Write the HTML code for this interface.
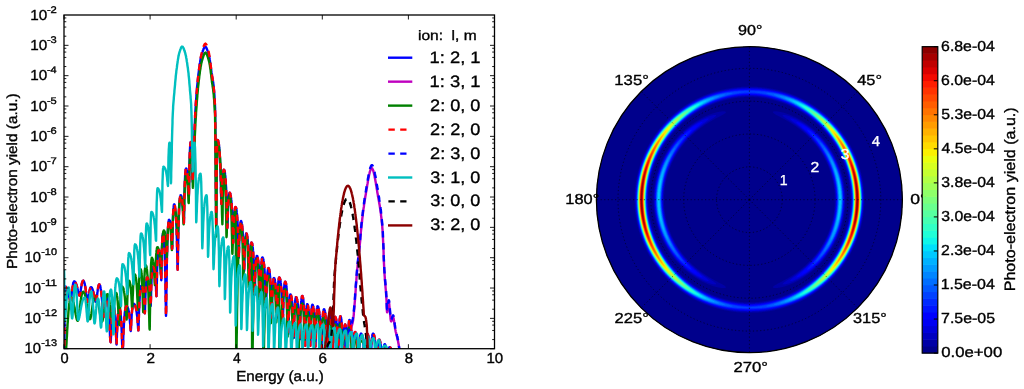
<!DOCTYPE html><html><head><meta charset="utf-8"><style>
html,body{margin:0;padding:0;background:#fff;width:1024px;height:389px;overflow:hidden}
#wrap{position:relative;width:1024px;height:389px}
svg{position:absolute;left:0;top:0;will-change:transform}
text{font-family:"Liberation Sans", sans-serif;fill:#000;text-rendering:geometricPrecision}
canvas{position:absolute;left:0;top:0}
</style></head><body><div id="wrap">
<svg width="1024" height="389" viewBox="0 0 1024 389">
<rect x="0" y="0" width="1024" height="389" fill="#fff"/>
<defs><clipPath id="ca"><rect x="64.00" y="15.00" width="430.50" height="333.70"/></clipPath></defs>
<g clip-path="url(#ca)" fill="none" stroke-width="2.4" stroke-linejoin="round">
<path d="M64.0 369.9L64.1 369.0L64.3 358.5L64.4 344.8L64.5 330.5L64.6 317.4L64.8 306.4L64.9 297.7L65.0 291.5L65.2 287.8L65.3 286.5L65.4 286.5L65.6 286.6L65.7 286.6L65.8 286.7L65.9 286.8L66.1 286.9L66.2 287.1L66.3 287.3L66.5 287.5L66.6 287.7L66.7 287.9L66.9 288.2L67.0 288.5L67.1 288.8L67.2 289.2L67.4 289.6L67.5 289.9L67.6 290.4L67.8 290.8L67.9 291.3L68.0 291.7L68.2 292.2L68.3 292.7L68.4 293.3L68.6 293.8L68.7 294.4L68.8 294.9L68.9 295.5L69.1 296.1L69.2 296.6L69.3 297.2L69.5 297.7L69.6 298.2L69.7 298.7L69.9 299.1L70.0 299.5L70.1 299.8L70.2 300.1L70.4 300.3L70.5 300.4L70.6 300.4L70.8 300.3L70.9 299.9L71.0 299.3L71.2 298.6L71.3 297.6L71.4 296.6L71.6 295.5L71.7 294.3L71.8 293.1L72.0 292.0L72.1 290.8L72.2 289.7L72.4 288.7L72.5 287.7L72.6 286.8L72.8 285.9L72.9 285.1L73.0 284.4L73.1 283.8L73.3 283.2L73.4 282.7L73.5 282.3L73.7 282.0L73.8 281.7L73.9 281.5L74.1 281.4L74.2 281.4L74.3 281.4L74.5 281.4L74.6 281.5L74.7 281.5L74.9 281.7L75.0 281.8L75.1 282.0L75.3 282.1L75.4 282.3L75.5 282.6L75.7 282.8L75.8 283.1L75.9 283.4L76.0 283.7L76.2 284.1L76.3 284.5L76.4 284.9L76.6 285.3L76.7 285.7L76.8 286.2L77.0 286.7L77.1 287.2L77.2 287.7L77.4 288.3L77.5 288.8L77.6 289.4L77.8 290.0L77.9 290.6L78.0 291.1L78.2 291.7L78.3 292.3L78.4 292.8L78.5 293.3L78.7 293.8L78.8 294.3L78.9 294.7L79.1 295.0L79.2 295.3L79.3 295.5L79.5 295.6L79.6 295.6L79.7 295.5L79.9 295.2L80.0 294.8L80.1 294.2L80.3 293.4L80.4 292.6L80.5 291.8L80.7 290.9L80.8 289.9L80.9 289.0L81.1 288.1L81.2 287.3L81.3 286.5L81.5 285.7L81.6 285.0L81.7 284.3L81.9 283.7L82.0 283.1L82.1 282.6L82.3 282.2L82.4 281.8L82.5 281.5L82.7 281.2L82.8 281.0L82.9 280.9L83.1 280.8L83.2 280.7L83.3 280.8L83.5 280.8L83.6 281.0L83.7 281.1L83.9 281.4L84.0 281.6L84.1 282.0L84.3 282.3L84.4 282.7L84.5 283.2L84.7 283.7L84.8 284.3L84.9 284.9L85.0 285.6L85.2 286.3L85.3 287.0L85.4 287.8L85.6 288.7L85.7 289.5L85.8 290.5L86.0 291.4L86.1 292.4L86.2 293.4L86.4 294.4L86.5 295.4L86.6 296.3L86.8 297.3L86.9 298.2L87.0 299.0L87.2 299.8L87.3 300.5L87.4 301.0L87.6 301.4L87.7 301.6L87.8 301.7L88.0 301.6L88.1 301.2L88.2 300.6L88.4 299.8L88.5 298.9L88.6 297.9L88.8 296.8L88.9 295.8L89.0 294.7L89.2 293.7L89.3 292.8L89.4 291.9L89.6 291.1L89.7 290.3L89.8 289.7L90.0 289.1L90.1 288.5L90.2 288.1L90.4 287.8L90.5 287.5L90.6 287.3L90.8 287.2L90.9 287.1L91.0 287.1L91.2 287.2L91.3 287.2L91.4 287.3L91.6 287.5L91.7 287.6L91.8 287.8L91.9 288.0L92.1 288.3L92.2 288.5L92.3 288.8L92.5 289.1L92.6 289.5L92.7 289.9L92.8 290.3L93.0 290.7L93.1 291.2L93.2 291.7L93.4 292.2L93.5 292.7L93.6 293.3L93.7 293.9L93.9 294.5L94.0 295.1L94.1 295.7L94.3 296.3L94.4 297.0L94.5 297.6L94.7 298.2L94.8 298.8L94.9 299.4L95.0 300.0L95.2 300.5L95.3 300.9L95.4 301.3L95.6 301.6L95.7 301.8L95.8 302.0L95.9 302.0L96.1 301.9L96.2 301.5L96.3 300.9L96.5 300.0L96.6 299.1L96.7 298.0L96.9 296.9L97.0 295.7L97.2 294.5L97.3 293.4L97.4 292.3L97.6 291.2L97.7 290.2L97.8 289.3L98.0 288.4L98.1 287.7L98.2 287.0L98.4 286.4L98.5 285.8L98.6 285.4L98.8 285.0L98.9 284.8L99.0 284.5L99.2 284.4L99.3 284.4L99.4 284.4L99.6 284.5L99.7 284.7L99.8 285.0L100.0 285.3L100.1 285.7L100.2 286.2L100.4 286.8L100.5 287.4L100.6 288.2L100.8 289.0L100.9 289.8L101.0 290.8L101.2 291.8L101.3 292.9L101.4 294.0L101.6 295.3L101.7 296.6L101.8 297.9L102.0 299.3L102.1 300.8L102.2 302.3L102.4 303.8L102.5 305.3L102.6 306.9L102.8 308.4L102.9 309.8L103.0 311.2L103.2 312.5L103.3 313.7L103.4 314.7L103.6 315.5L103.7 316.1L103.8 316.5L104.0 316.6L104.1 316.5L104.2 316.0L104.3 315.3L104.5 314.4L104.6 313.3L104.7 312.1L104.9 310.8L105.0 309.5L105.1 308.2L105.2 307.0L105.4 305.8L105.5 304.7L105.6 303.6L105.8 302.7L105.9 301.8L106.0 301.0L106.1 300.3L106.3 299.7L106.4 299.2L106.5 298.8L106.7 298.5L106.8 298.2L106.9 298.1L107.0 298.0L107.2 298.1L107.3 298.3L107.5 298.7L107.6 299.3L107.7 300.0L107.9 300.8L108.0 301.9L108.1 303.1L108.3 304.4L108.4 305.9L108.5 307.6L108.7 309.5L108.8 311.5L108.9 313.7L109.1 316.0L109.2 318.5L109.3 321.1L109.5 323.8L109.6 326.6L109.7 329.4L109.9 332.2L110.0 334.8L110.1 337.2L110.3 339.3L110.4 340.9L110.5 341.9L110.7 342.2L110.8 341.1L110.9 338.3L111.1 334.5L111.2 330.4L111.3 326.5L111.5 322.9L111.6 319.7L111.7 316.9L111.9 314.4L112.0 312.2L112.1 310.4L112.3 308.8L112.4 307.6L112.5 306.5L112.7 305.7L112.8 305.2L112.9 304.8L113.1 304.7L113.2 304.8L113.3 304.9L113.5 305.1L113.6 305.4L113.7 305.7L113.9 306.2L114.0 306.7L114.1 307.4L114.3 308.1L114.4 309.0L114.5 309.9L114.7 311.0L114.8 312.2L114.9 313.6L115.1 315.1L115.2 316.8L115.3 318.8L115.5 320.9L115.6 323.3L115.7 326.1L115.9 329.1L116.0 332.6L116.1 336.3L116.3 340.1L116.4 343.2L116.5 344.5L116.7 343.0L116.8 339.7L116.9 335.9L117.0 332.2L117.2 328.9L117.3 326.1L117.4 323.6L117.6 321.4L117.7 319.5L117.8 317.8L118.0 316.3L118.1 315.0L118.2 313.9L118.4 312.9L118.5 312.0L118.6 311.3L118.7 310.7L118.9 310.1L119.0 309.7L119.1 309.4L119.3 309.1L119.4 309.0L119.5 309.0L119.7 309.0L119.8 309.2L119.9 309.5L120.1 310.0L120.2 310.6L120.3 311.3L120.5 312.2L120.6 313.2L120.7 314.4L120.8 315.8L121.0 317.3L121.1 319.1L121.2 321.2L121.4 323.5L121.5 326.1L121.6 329.1L121.8 332.5L121.9 336.5L122.0 340.9L122.2 346.0L122.3 351.3L122.4 355.8L122.5 357.8L122.7 356.5L122.8 353.1L122.9 348.8L123.1 344.4L123.2 340.2L123.3 336.4L123.5 332.9L123.6 329.8L123.8 327.0L123.9 324.5L124.0 322.3L124.2 320.3L124.3 318.4L124.4 316.8L124.6 315.3L124.7 313.9L124.8 312.7L125.0 311.6L125.1 310.6L125.2 309.7L125.4 309.0L125.5 308.3L125.6 307.8L125.8 307.3L125.9 306.9L126.0 306.6L126.2 306.4L126.3 306.3L126.4 306.2L126.6 306.2L126.7 306.3L126.8 306.4L126.9 306.5L127.1 306.6L127.2 306.8L127.3 307.0L127.5 307.2L127.6 307.4L127.7 307.7L127.8 308.1L128.0 308.4L128.1 308.9L128.2 309.3L128.4 309.8L128.5 310.3L128.6 310.9L128.7 311.6L128.9 312.3L129.0 313.0L129.1 313.9L129.3 314.8L129.4 315.8L129.5 316.8L129.7 318.0L129.8 319.3L129.9 320.8L130.0 322.3L130.2 324.0L130.3 325.8L130.4 327.6L130.6 329.3L130.7 330.6L130.8 331.0L130.9 329.8L131.1 327.1L131.2 324.0L131.3 321.2L131.5 318.6L131.6 316.4L131.7 314.5L131.9 312.8L132.0 311.3L132.1 310.1L132.3 309.0L132.4 308.0L132.5 307.1L132.7 306.4L132.8 305.8L132.9 305.2L133.1 304.8L133.2 304.4L133.3 304.2L133.5 304.0L133.6 303.8L133.7 303.8L133.9 303.8L134.0 303.9L134.1 303.9L134.3 304.0L134.4 304.2L134.5 304.3L134.7 304.5L134.8 304.8L134.9 305.0L135.1 305.3L135.2 305.7L135.3 306.0L135.5 306.4L135.6 306.9L135.7 307.4L135.9 307.9L136.0 308.5L136.1 309.2L136.3 309.9L136.4 310.6L136.5 311.4L136.7 312.3L136.8 313.3L136.9 314.4L137.1 315.5L137.2 316.8L137.3 318.2L137.5 319.7L137.6 321.4L137.7 323.1L137.9 325.0L138.0 326.9L138.1 328.6L138.3 329.9L138.4 330.4L138.5 328.7L138.6 324.8L138.8 320.1L138.9 315.7L139.0 311.6L139.2 308.1L139.3 304.9L139.4 302.2L139.6 299.8L139.7 297.6L139.8 295.7L139.9 294.1L140.1 292.6L140.2 291.3L140.3 290.1L140.5 289.1L140.6 288.3L140.7 287.6L140.8 286.9L141.0 286.5L141.1 286.1L141.2 285.8L141.4 285.7L141.5 285.6L141.6 285.6L141.8 285.7L141.9 285.9L142.0 286.1L142.2 286.4L142.3 286.7L142.4 287.1L142.6 287.6L142.7 288.2L142.8 288.8L143.0 289.6L143.1 290.4L143.2 291.3L143.4 292.4L143.5 293.6L143.6 294.9L143.8 296.4L143.9 298.1L144.0 300.0L144.2 302.2L144.3 304.7L144.4 307.4L144.6 310.1L144.7 312.4L144.8 313.4L145.0 310.9L145.1 305.8L145.2 300.8L145.4 296.4L145.5 292.8L145.6 289.8L145.8 287.3L145.9 285.1L146.0 283.4L146.2 281.9L146.3 280.6L146.4 279.6L146.6 278.8L146.7 278.2L146.8 277.8L147.0 277.5L147.1 277.4L147.2 277.4L147.4 277.5L147.5 277.7L147.6 277.8L147.8 278.1L147.9 278.4L148.0 278.8L148.2 279.2L148.3 279.7L148.4 280.2L148.6 280.9L148.7 281.6L148.8 282.4L149.0 283.3L149.1 284.3L149.2 285.4L149.4 286.6L149.5 288.0L149.6 289.6L149.8 291.3L149.9 293.2L150.0 295.4L150.2 297.9L150.3 300.5L150.4 303.1L150.6 305.2L150.7 306.0L150.8 303.6L151.0 298.4L151.1 293.1L151.2 288.5L151.4 284.6L151.5 281.3L151.6 278.6L151.8 276.2L151.9 274.2L152.0 272.5L152.2 271.1L152.3 269.9L152.4 268.9L152.6 268.1L152.7 267.5L152.8 267.1L153.0 266.9L153.1 266.8L153.2 266.8L153.4 266.9L153.5 267.1L153.6 267.3L153.8 267.5L153.9 267.9L154.0 268.3L154.1 268.8L154.3 269.3L154.4 269.9L154.5 270.7L154.7 271.5L154.8 272.4L154.9 273.4L155.1 274.5L155.2 275.8L155.3 277.2L155.4 278.8L155.6 280.6L155.7 282.6L155.8 284.9L156.0 287.4L156.1 290.2L156.2 293.0L156.3 295.3L156.5 296.2L156.6 293.0L156.7 286.5L156.9 280.0L157.0 274.5L157.1 269.9L157.3 266.0L157.4 262.7L157.5 260.0L157.7 257.7L157.8 255.8L157.9 254.2L158.1 252.9L158.2 251.9L158.3 251.1L158.4 250.5L158.6 250.2L158.7 250.1L158.8 250.2L159.0 250.3L159.1 250.6L159.3 251.0L159.4 251.6L159.5 252.2L159.7 253.0L159.8 254.0L159.9 255.2L160.1 256.5L160.2 258.1L160.3 259.9L160.5 262.0L160.6 264.5L160.7 267.5L160.9 270.9L161.0 274.8L161.2 278.5L161.3 280.2L161.4 275.1L161.6 266.2L161.7 258.6L161.8 252.5L162.0 247.7L162.1 243.9L162.2 240.8L162.4 238.4L162.5 236.6L162.6 235.2L162.8 234.2L162.9 233.6L163.0 233.4L163.1 233.5L163.3 233.8L163.4 234.4L163.5 235.1L163.7 236.1L163.8 237.4L163.9 238.8L164.1 240.6L164.2 242.6L164.3 244.9L164.5 247.6L164.6 250.6L164.7 254.0L164.8 258.0L165.0 262.4L165.1 267.5L165.2 273.3L165.4 279.9L165.5 287.5L165.6 295.9L165.8 304.9L165.9 312.6L166.0 315.9L166.2 312.1L166.3 303.1L166.4 292.6L166.6 282.8L166.7 273.9L166.8 266.2L166.9 259.4L167.1 253.5L167.2 248.4L167.3 243.8L167.5 239.8L167.6 236.3L167.7 233.2L167.9 230.5L168.0 228.1L168.1 226.1L168.3 224.4L168.4 222.9L168.5 221.8L168.6 220.9L168.8 220.3L168.9 219.9L169.0 219.8L169.2 219.8L169.3 219.9L169.4 220.1L169.6 220.3L169.7 220.7L169.8 221.0L169.9 221.5L170.1 222.1L170.2 222.7L170.3 223.5L170.5 224.3L170.6 225.3L170.7 226.4L170.9 227.6L171.0 229.0L171.1 230.6L171.2 232.4L171.4 234.5L171.5 236.8L171.6 239.4L171.8 242.3L171.9 245.4L172.0 248.0L172.1 249.0L172.3 245.6L172.4 238.8L172.5 232.3L172.7 226.8L172.8 222.2L172.9 218.5L173.0 215.4L173.2 212.8L173.3 210.6L173.4 208.8L173.6 207.4L173.7 206.3L173.8 205.4L173.9 204.8L174.1 204.4L174.2 204.3L174.3 204.4L174.5 204.6L174.6 204.9L174.7 205.4L174.9 206.0L175.0 206.7L175.1 207.6L175.3 208.7L175.4 209.9L175.5 211.3L175.7 212.9L175.8 214.7L175.9 216.7L176.1 219.0L176.2 221.5L176.3 224.3L176.5 227.5L176.6 231.0L176.7 235.0L176.9 239.5L177.0 244.6L177.1 250.2L177.3 256.4L177.4 262.6L177.5 267.7L177.7 269.8L177.8 266.8L177.9 259.8L178.0 251.7L178.2 244.1L178.3 237.2L178.4 231.2L178.6 226.0L178.7 221.4L178.8 217.4L179.0 213.8L179.1 210.7L179.2 208.0L179.4 205.6L179.5 203.5L179.6 201.7L179.7 200.1L179.9 198.8L180.0 197.6L180.1 196.8L180.3 196.1L180.4 195.6L180.5 195.3L180.7 195.2L180.8 195.2L180.9 195.3L181.1 195.5L181.2 195.7L181.3 196.0L181.4 196.3L181.6 196.7L181.7 197.2L181.8 197.8L182.0 198.4L182.1 199.2L182.2 200.0L182.3 201.0L182.5 202.0L182.6 203.2L182.7 204.5L182.9 206.1L183.0 207.8L183.1 209.7L183.2 211.9L183.4 214.3L183.5 217.0L183.6 219.8L183.8 222.1L183.9 223.1L184.0 218.9L184.2 210.6L184.3 202.6L184.4 195.9L184.6 190.4L184.7 185.8L184.8 182.0L185.0 178.8L185.1 176.2L185.2 174.0L185.4 172.3L185.5 170.9L185.6 169.8L185.8 169.1L185.9 168.6L186.0 168.5L186.2 168.5L186.3 168.7L186.5 168.9L186.6 169.2L186.7 169.6L186.9 170.1L187.0 170.7L187.1 171.4L187.3 172.2L187.4 173.1L187.5 174.2L187.7 175.5L187.8 177.0L187.9 178.6L188.1 180.6L188.2 182.8L188.3 185.4L188.5 188.4L188.6 191.6L188.8 194.5L188.9 195.8L189.0 190.6L189.2 181.2L189.3 172.7L189.4 165.8L189.6 160.3L189.7 155.9L189.8 152.3L190.0 149.4L190.1 147.0L190.2 145.2L190.4 143.8L190.5 142.9L190.6 142.3L190.8 142.1L190.9 142.2L191.0 142.6L191.2 143.2L191.3 144.1L191.4 145.3L191.6 146.7L191.7 148.6L191.8 150.8L191.9 153.5L192.1 156.8L192.2 160.9L192.3 165.9L192.5 171.9L192.6 178.4L192.7 181.9L192.8 179.3L192.9 176.7L193.0 174.2L193.1 171.7L193.2 169.2L193.2 166.7L193.3 164.2L193.4 161.8L193.5 159.4L193.6 157.0L193.7 154.6L193.8 152.2L193.8 149.9L193.9 147.6L194.0 145.3L194.1 143.0L194.2 140.6L194.3 138.2L194.4 135.9L194.5 133.5L194.5 131.1L194.6 128.8L194.7 126.4L194.8 124.2L194.9 122.0L195.0 119.9L195.1 117.8L195.1 115.9L195.2 114.1L195.3 112.4L195.4 110.8L195.5 109.4L195.6 107.9L195.7 106.6L195.7 105.2L195.8 103.9L195.9 102.6L196.0 101.3L196.1 100.1L196.2 98.8L196.3 97.6L196.4 96.5L196.4 95.3L196.5 94.2L196.6 93.1L196.7 92.0L196.8 90.9L196.9 89.9L197.0 88.9L197.0 87.9L197.1 86.9L197.2 86.0L197.3 85.0L197.4 84.1L197.5 83.2L197.6 82.3L197.7 81.5L197.7 80.6L197.8 79.8L197.9 79.0L198.0 78.2L198.1 77.4L198.2 76.6L198.3 75.9L198.3 75.1L198.4 74.4L198.5 73.7L198.6 73.0L198.7 72.3L198.8 71.6L198.9 70.9L199.0 70.3L199.0 69.6L199.1 69.0L199.2 68.3L199.3 67.7L199.4 67.1L199.5 66.4L199.6 65.8L199.6 65.2L199.7 64.6L199.8 64.1L199.9 63.5L200.0 62.9L200.1 62.4L200.2 61.8L200.3 61.3L200.3 60.8L200.4 60.3L200.5 59.8L200.6 59.3L200.7 58.9L200.8 58.4L200.9 58.0L200.9 57.5L201.0 57.1L201.1 56.7L201.2 56.4L201.3 56.0L201.4 55.6L201.5 55.3L201.6 55.0L201.6 54.7L201.7 54.4L201.8 54.1L201.9 53.9L202.0 53.6L202.1 53.3L202.2 53.0L202.2 52.8L202.3 52.5L202.4 52.2L202.5 52.0L202.6 51.7L202.7 51.5L202.8 51.2L202.8 50.9L202.9 50.7L203.0 50.4L203.1 50.2L203.2 50.0L203.3 49.7L203.4 49.5L203.5 49.3L203.5 49.1L203.6 48.9L203.7 48.7L203.8 48.5L203.9 48.3L204.0 48.1L204.1 48.0L204.1 47.8L204.2 47.7L204.3 47.5L204.4 47.4L204.5 47.3L204.6 47.2L204.7 47.1L204.8 47.0L204.8 46.9L204.9 46.9L205.0 46.8L205.1 46.8L205.2 46.8L205.3 46.8L205.4 46.8L205.5 46.8L205.6 46.9L205.7 47.0L205.8 47.0L205.9 47.1L206.0 47.2L206.1 47.4L206.1 47.5L206.2 47.6L206.3 47.8L206.4 47.9L206.5 48.1L206.6 48.3L206.7 48.5L206.7 48.7L206.8 48.9L206.9 49.1L207.0 49.3L207.1 49.5L207.2 49.7L207.3 50.0L207.4 50.2L207.4 50.5L207.5 50.7L207.6 51.0L207.7 51.2L207.8 51.5L207.9 51.8L208.0 52.0L208.0 52.3L208.1 52.6L208.2 52.9L208.3 53.2L208.4 53.4L208.5 53.7L208.6 54.0L208.6 54.3L208.7 54.6L208.8 54.9L208.9 55.2L209.0 55.6L209.1 56.0L209.2 56.4L209.3 56.8L209.3 57.3L209.4 57.7L209.5 58.2L209.6 58.7L209.7 59.2L209.8 59.8L209.9 60.3L209.9 60.9L210.0 61.4L210.1 62.0L210.2 62.6L210.3 63.2L210.4 63.8L210.5 64.5L210.6 65.1L210.6 65.7L210.7 66.4L210.8 67.0L210.9 67.7L211.0 68.4L211.1 69.0L211.2 69.7L211.2 70.4L211.3 71.0L211.4 71.7L211.5 72.4L211.6 73.0L211.7 73.6L211.8 74.2L211.9 74.7L211.9 75.3L212.0 75.8L212.1 76.3L212.2 76.8L212.3 77.3L212.4 77.7L212.5 78.2L212.5 78.7L212.6 79.2L212.7 79.6L212.8 80.1L212.9 80.7L213.0 81.2L213.1 81.8L213.2 82.3L213.2 82.9L213.3 83.6L213.4 84.3L213.5 85.0L213.6 85.7L213.7 86.5L213.8 87.4L213.8 88.3L213.9 89.2L214.0 90.3L214.1 91.3L214.2 92.5L214.3 93.7L214.4 94.9L214.5 96.3L214.5 97.7L214.6 99.2L214.7 100.8L214.8 102.5L214.9 104.3L215.0 106.1L215.1 108.1L215.1 110.2L215.2 114.7L215.3 123.5L215.4 134.7L215.5 146.0L215.6 156.0L215.7 165.7L215.7 175.6L215.8 185.7L215.9 195.9L216.0 206.2L216.1 216.7L216.2 227.4L216.3 214.8L216.5 195.7L216.6 180.4L216.7 168.9L216.9 160.1L217.0 153.4L217.1 148.3L217.3 144.6L217.4 142.0L217.6 140.5L217.7 140.0L217.8 140.0L217.9 140.2L218.1 140.5L218.2 140.8L218.3 141.3L218.5 141.9L218.6 142.6L218.7 143.4L218.9 144.4L219.0 145.4L219.1 146.6L219.2 148.0L219.4 149.5L219.5 151.2L219.6 153.1L219.8 155.1L219.9 157.4L220.0 159.9L220.1 162.7L220.3 165.8L220.4 169.3L220.5 173.1L220.7 177.4L220.8 182.2L220.9 187.3L221.0 192.8L221.2 198.2L221.3 202.4L221.4 204.0L221.6 202.1L221.7 197.9L221.8 193.5L222.0 189.5L222.1 186.2L222.2 183.3L222.4 180.9L222.5 178.8L222.6 177.0L222.7 175.5L222.9 174.2L223.0 173.1L223.1 172.1L223.3 171.4L223.4 170.8L223.5 170.3L223.7 170.0L223.8 169.8L223.9 169.7L224.1 169.8L224.2 170.0L224.3 170.2L224.5 170.7L224.6 171.2L224.7 171.9L224.9 172.7L225.0 173.6L225.1 174.7L225.3 175.9L225.4 177.4L225.5 178.9L225.7 180.7L225.8 182.7L225.9 185.0L226.1 187.5L226.2 190.3L226.3 193.4L226.5 197.0L226.6 201.0L226.7 205.5L226.9 210.5L227.0 216.0L227.1 221.5L227.3 226.1L227.4 227.9L227.5 225.7L227.7 221.1L227.8 216.4L227.9 212.2L228.1 208.7L228.2 205.8L228.3 203.3L228.5 201.2L228.6 199.4L228.7 197.9L228.8 196.6L229.0 195.6L229.1 194.7L229.2 194.0L229.4 193.4L229.5 193.1L229.6 192.8L229.7 192.8L229.9 192.8L230.0 193.0L230.1 193.2L230.3 193.6L230.4 194.1L230.5 194.6L230.7 195.3L230.8 196.1L230.9 197.1L231.1 198.2L231.2 199.4L231.4 200.7L231.5 202.3L231.6 204.0L231.8 205.9L231.9 208.1L232.0 210.5L232.2 213.2L232.3 216.3L232.4 219.8L232.6 223.7L232.7 228.0L232.8 232.7L233.0 237.5L233.1 241.4L233.2 243.0L233.4 240.5L233.5 235.4L233.6 230.4L233.8 226.1L233.9 222.4L234.1 219.4L234.2 216.9L234.3 214.8L234.5 213.0L234.6 211.5L234.7 210.2L234.9 209.2L235.0 208.4L235.1 207.8L235.3 207.4L235.4 207.1L235.6 207.0L235.7 207.1L235.8 207.3L235.9 207.5L236.1 207.9L236.2 208.4L236.3 209.1L236.5 209.8L236.6 210.7L236.7 211.8L236.8 212.9L237.0 214.3L237.1 215.8L237.2 217.5L237.4 219.4L237.5 221.6L237.6 224.0L237.7 226.8L237.9 229.9L238.0 233.4L238.1 237.4L238.3 241.9L238.4 246.8L238.5 251.8L238.7 256.0L238.8 257.8L238.9 254.9L239.1 249.3L239.2 244.0L239.3 239.4L239.5 235.7L239.6 232.6L239.7 230.1L239.9 227.9L240.0 226.2L240.1 224.7L240.3 223.5L240.4 222.6L240.5 221.9L240.7 221.4L240.8 221.1L240.9 221.0L241.1 221.0L241.2 221.2L241.3 221.5L241.5 221.9L241.6 222.4L241.7 223.0L241.8 223.7L242.0 224.6L242.1 225.6L242.2 226.8L242.4 228.1L242.5 229.6L242.6 231.3L242.8 233.2L242.9 235.3L243.0 237.7L243.1 240.4L243.3 243.5L243.4 247.0L243.5 250.9L243.7 255.3L243.8 260.1L243.9 265.1L244.1 269.2L244.2 271.0L244.3 268.1L244.5 262.4L244.6 256.9L244.7 252.3L244.9 248.5L245.0 245.3L245.1 242.7L245.3 240.5L245.4 238.7L245.5 237.2L245.7 236.0L245.8 235.1L246.0 234.3L246.1 233.8L246.2 233.5L246.4 233.4L246.5 233.5L246.6 233.6L246.8 233.9L246.9 234.3L247.0 234.8L247.1 235.5L247.3 236.3L247.4 237.2L247.5 238.2L247.7 239.4L247.8 240.8L247.9 242.4L248.1 244.2L248.2 246.2L248.3 248.4L248.4 251.0L248.6 253.9L248.7 257.2L248.8 261.0L249.0 265.2L249.1 270.0L249.2 274.9L249.4 279.0L249.5 280.8L249.6 277.8L249.7 272.0L249.9 266.4L250.0 261.7L250.1 257.9L250.3 254.6L250.4 252.0L250.5 249.8L250.7 247.9L250.8 246.4L250.9 245.2L251.0 244.2L251.2 243.5L251.3 242.9L251.4 242.6L251.6 242.5L251.7 242.6L251.8 242.8L252.0 243.1L252.1 243.5L252.2 244.1L252.4 244.8L252.5 245.7L252.6 246.7L252.8 247.8L252.9 249.2L253.0 250.7L253.2 252.4L253.3 254.4L253.4 256.6L253.6 259.1L253.7 261.9L253.8 265.2L254.0 268.8L254.1 273.0L254.2 277.7L254.3 282.9L254.5 288.3L254.6 293.0L254.7 294.9L254.9 291.9L255.0 286.0L255.1 280.3L255.3 275.5L255.4 271.5L255.5 268.2L255.7 265.5L255.8 263.3L255.9 261.4L256.1 259.8L256.2 258.6L256.3 257.6L256.5 256.8L256.6 256.3L256.7 256.0L256.9 255.9L257.0 255.9L257.1 256.0L257.3 256.2L257.4 256.5L257.5 256.9L257.6 257.4L257.8 258.0L257.9 258.6L258.0 259.4L258.2 260.3L258.3 261.2L258.4 262.4L258.5 263.6L258.7 265.0L258.8 266.6L258.9 268.4L259.1 270.3L259.2 272.6L259.3 275.1L259.4 277.9L259.6 281.0L259.7 284.6L259.8 288.4L260.0 292.3L260.1 295.5L260.2 296.8L260.4 294.1L260.5 288.5L260.6 283.0L260.7 278.2L260.9 274.3L261.0 271.0L261.1 268.2L261.3 265.9L261.4 263.9L261.5 262.3L261.7 260.9L261.8 259.8L261.9 258.9L262.1 258.2L262.2 257.8L262.3 257.5L262.5 257.4L262.6 257.4L262.7 257.6L262.9 257.8L263.0 258.1L263.1 258.6L263.3 259.1L263.4 259.7L263.5 260.5L263.7 261.4L263.8 262.3L263.9 263.4L264.1 264.7L264.2 266.1L264.3 267.7L264.5 269.4L264.6 271.4L264.7 273.5L264.9 275.9L265.0 278.7L265.1 281.7L265.3 285.1L265.4 288.9L265.5 293.2L265.7 297.7L265.8 302.3L265.9 306.0L266.1 307.4L266.2 305.0L266.3 299.8L266.5 294.5L266.6 289.8L266.7 285.9L266.9 282.6L267.0 279.8L267.1 277.5L267.3 275.5L267.4 273.8L267.5 272.3L267.7 271.1L267.8 270.1L268.0 269.4L268.1 268.8L268.2 268.3L268.4 268.1L268.5 268.0L268.6 268.1L268.7 268.2L268.9 268.5L269.0 268.9L269.1 269.4L269.3 270.0L269.4 270.7L269.5 271.6L269.7 272.6L269.8 273.8L269.9 275.1L270.1 276.6L270.2 278.2L270.3 280.1L270.5 282.2L270.6 284.6L270.7 287.3L270.8 290.3L271.0 293.7L271.1 297.6L271.2 302.0L271.4 306.8L271.5 311.7L271.6 315.8L271.8 317.5L271.9 314.4L272.0 308.4L272.2 302.7L272.3 297.8L272.5 293.8L272.6 290.5L272.7 287.8L272.9 285.5L273.0 283.6L273.1 282.0L273.3 280.7L273.4 279.7L273.5 279.0L273.7 278.4L273.8 278.1L274.0 278.0L274.1 278.1L274.2 278.2L274.4 278.4L274.5 278.8L274.6 279.2L274.7 279.7L274.9 280.4L275.0 281.1L275.1 282.0L275.3 283.0L275.4 284.2L275.5 285.5L275.7 287.0L275.8 288.6L275.9 290.5L276.1 292.6L276.2 295.1L276.3 297.8L276.5 300.9L276.6 304.5L276.7 308.4L276.9 312.5L277.0 316.0L277.1 317.5L277.3 314.4L277.4 308.3L277.5 302.4L277.7 297.5L277.8 293.4L277.9 290.1L278.1 287.3L278.2 285.0L278.3 283.1L278.5 281.5L278.6 280.2L278.7 279.2L278.9 278.4L279.0 277.8L279.1 277.5L279.2 277.4L279.4 277.5L279.5 277.6L279.7 277.8L279.8 278.1L279.9 278.4L280.1 278.9L280.2 279.5L280.3 280.1L280.5 280.9L280.6 281.7L280.7 282.7L280.9 283.8L281.0 285.0L281.1 286.4L281.3 287.9L281.4 289.6L281.5 291.5L281.7 293.6L281.8 296.0L281.9 298.6L282.1 301.6L282.2 304.9L282.3 308.6L282.5 312.6L282.6 316.6L282.7 319.8L282.9 321.1L283.0 318.6L283.1 313.4L283.3 308.1L283.4 303.5L283.5 299.6L283.7 296.3L283.8 293.5L283.9 291.1L284.1 289.1L284.2 287.4L284.3 286.0L284.5 284.8L284.6 283.8L284.7 283.0L284.9 282.4L285.0 282.0L285.1 281.7L285.3 281.7L285.4 281.7L285.5 281.9L285.7 282.2L285.8 282.7L285.9 283.2L286.1 283.9L286.2 284.8L286.3 285.8L286.4 287.0L286.6 288.3L286.7 289.8L286.8 291.6L287.0 293.5L287.1 295.7L287.2 298.2L287.3 301.0L287.5 304.3L287.6 307.9L287.7 312.1L287.9 316.8L288.0 322.0L288.1 327.4L288.2 332.0L288.4 334.0L288.5 330.9L288.6 324.9L288.8 319.1L288.9 314.3L289.0 310.2L289.2 306.9L289.3 304.2L289.4 301.9L289.5 300.0L289.7 298.4L289.8 297.1L289.9 296.1L290.1 295.4L290.2 294.8L290.3 294.5L290.4 294.4L290.6 294.4L290.7 294.6L290.8 294.8L291.0 295.1L291.1 295.5L291.2 296.0L291.3 296.6L291.5 297.3L291.6 298.1L291.7 299.1L291.9 300.1L292.0 301.3L292.1 302.6L292.3 304.1L292.4 305.8L292.5 307.7L292.6 309.8L292.8 312.2L292.9 314.8L293.0 317.8L293.2 321.2L293.3 324.9L293.4 329.0L293.5 333.2L293.7 336.6L293.8 338.0L293.9 335.1L294.1 329.4L294.2 323.6L294.3 318.7L294.5 314.6L294.6 311.2L294.7 308.3L294.9 305.9L295.0 303.9L295.1 302.2L295.2 300.8L295.4 299.6L295.5 298.7L295.6 298.0L295.8 297.5L295.9 297.2L296.0 297.1L296.2 297.2L296.3 297.3L296.4 297.4L296.6 297.7L296.7 298.0L296.8 298.4L296.9 298.8L297.1 299.4L297.2 300.0L297.3 300.7L297.5 301.5L297.6 302.4L297.7 303.4L297.8 304.5L298.0 305.8L298.1 307.1L298.2 308.6L298.4 310.3L298.5 312.1L298.6 314.2L298.8 316.5L298.9 319.0L299.0 321.8L299.1 324.9L299.3 328.4L299.4 332.0L299.5 335.5L299.7 338.3L299.8 339.4L299.9 336.9L300.0 331.6L300.2 326.0L300.3 321.0L300.4 316.7L300.6 313.1L300.7 310.0L300.8 307.4L301.0 305.1L301.1 303.2L301.2 301.6L301.4 300.2L301.5 299.0L301.6 298.0L301.8 297.3L301.9 296.7L302.0 296.2L302.2 296.0L302.3 295.9L302.4 296.0L302.6 296.2L302.7 296.6L302.8 297.1L303.0 297.7L303.1 298.5L303.2 299.5L303.4 300.7L303.5 302.0L303.6 303.6L303.8 305.4L303.9 307.4L304.0 309.8L304.2 312.5L304.3 315.5L304.4 319.1L304.6 323.1L304.7 327.8L304.8 333.1L305.0 338.8L305.1 343.8L305.3 345.9L305.4 342.3L305.5 335.5L305.6 329.1L305.8 323.9L305.9 319.6L306.0 316.1L306.2 313.3L306.3 310.9L306.4 309.0L306.6 307.4L306.7 306.2L306.8 305.3L307.0 304.6L307.1 304.2L307.2 304.1L307.4 304.2L307.5 304.3L307.6 304.6L307.8 305.0L307.9 305.5L308.0 306.1L308.2 306.8L308.3 307.7L308.4 308.7L308.6 309.9L308.7 311.3L308.8 312.8L309.0 314.5L309.1 316.5L309.3 318.8L309.4 321.3L309.5 324.3L309.7 327.6L309.8 331.4L309.9 335.7L310.1 340.2L310.2 344.2L310.3 345.8L310.5 342.7L310.6 336.4L310.7 330.4L310.8 325.4L311.0 321.2L311.1 317.7L311.2 314.9L311.4 312.5L311.5 310.5L311.6 308.9L311.8 307.6L311.9 306.5L312.0 305.7L312.1 305.2L312.3 304.8L312.4 304.7L312.5 304.8L312.7 304.9L312.8 305.2L312.9 305.5L313.0 306.0L313.2 306.5L313.3 307.2L313.4 308.0L313.6 309.0L313.7 310.0L313.8 311.3L313.9 312.6L314.1 314.2L314.2 316.0L314.3 318.0L314.5 320.3L314.6 322.8L314.7 325.7L314.9 329.1L315.0 332.9L315.1 337.0L315.2 341.4L315.4 345.1L315.5 346.6L315.6 343.5L315.8 337.4L315.9 331.5L316.0 326.5L316.1 322.4L316.3 319.0L316.4 316.2L316.5 313.9L316.7 311.9L316.8 310.3L316.9 309.0L317.0 308.0L317.2 307.2L317.3 306.7L317.4 306.3L317.6 306.2L317.7 306.3L317.8 306.4L318.0 306.5L318.1 306.8L318.2 307.1L318.4 307.5L318.5 308.0L318.6 308.5L318.8 309.1L318.9 309.9L319.0 310.7L319.2 311.6L319.3 312.6L319.4 313.7L319.6 314.9L319.7 316.3L319.8 317.8L320.0 319.5L320.1 321.4L320.2 323.4L320.4 325.7L320.5 328.3L320.6 331.1L320.8 334.3L320.9 337.7L321.0 341.4L321.2 344.9L321.3 347.7L321.4 348.8L321.6 346.8L321.7 342.2L321.8 337.4L322.0 332.9L322.1 329.1L322.2 325.8L322.3 323.0L322.5 320.6L322.6 318.5L322.7 316.7L322.9 315.2L323.0 313.9L323.1 312.7L323.2 311.8L323.4 311.0L323.5 310.4L323.6 309.9L323.8 309.5L323.9 309.3L324.0 309.3L324.2 309.3L324.3 309.4L324.4 309.7L324.5 310.0L324.7 310.4L324.8 310.9L324.9 311.5L325.1 312.2L325.2 313.0L325.3 313.9L325.4 314.9L325.6 316.1L325.7 317.5L325.8 318.9L326.0 320.6L326.1 322.5L326.2 324.6L326.3 326.9L326.5 329.5L326.6 332.5L326.7 335.9L326.9 339.6L327.0 343.7L327.1 347.8L327.3 351.2L327.4 352.5L327.5 349.8L327.6 344.4L327.8 339.0L327.9 334.3L328.0 330.4L328.2 327.2L328.3 324.4L328.4 322.1L328.6 320.2L328.7 318.6L328.8 317.3L329.0 316.2L329.1 315.3L329.2 314.6L329.4 314.2L329.5 313.9L329.6 313.8L329.7 313.9L329.9 314.0L330.0 314.2L330.1 314.5L330.3 314.9L330.4 315.3L330.5 315.9L330.7 316.6L330.8 317.3L330.9 318.2L331.0 319.2L331.2 320.3L331.3 321.6L331.4 323.0L331.6 324.5L331.7 326.3L331.8 328.3L331.9 330.5L332.1 333.0L332.2 335.8L332.3 339.0L332.5 342.5L332.6 346.4L332.7 350.3L332.8 353.5L333.0 354.8L333.1 352.1L333.2 346.8L333.4 341.5L333.5 336.9L333.6 333.1L333.8 329.9L333.9 327.2L334.0 325.0L334.2 323.1L334.3 321.5L334.4 320.2L334.6 319.2L334.7 318.3L334.8 317.7L335.0 317.2L335.1 316.9L335.2 316.8L335.3 316.9L335.5 317.0L335.6 317.2L335.7 317.6L335.9 318.0L336.0 318.5L336.1 319.1L336.2 319.8L336.4 320.6L336.5 321.6L336.6 322.7L336.8 323.9L336.9 325.3L337.0 326.8L337.2 328.6L337.3 330.6L337.4 332.9L337.5 335.5L337.7 338.5L337.8 341.8L337.9 345.5L338.1 349.4L338.2 352.7L338.3 354.0L338.4 351.1L338.6 345.4L338.7 339.9L338.8 335.2L339.0 331.4L339.1 328.2L339.2 325.6L339.3 323.4L339.5 321.6L339.6 320.1L339.7 318.9L339.9 317.9L340.0 317.2L340.1 316.6L340.3 316.3L340.4 316.2L340.5 316.3L340.7 316.5L340.8 316.9L340.9 317.4L341.1 318.0L341.2 318.8L341.3 319.8L341.5 320.9L341.6 322.3L341.7 323.8L341.9 325.6L342.0 327.7L342.1 330.1L342.3 332.8L342.4 336.0L342.5 339.6L342.7 343.9L342.8 348.7L343.0 354.0L343.1 358.8L343.2 360.9L343.4 357.4L343.5 351.0L343.6 345.2L343.8 340.5L343.9 336.8L344.0 333.8L344.2 331.3L344.3 329.4L344.4 327.8L344.6 326.5L344.7 325.6L344.8 324.9L345.0 324.6L345.1 324.4L345.3 324.5L345.4 324.7L345.5 325.0L345.7 325.5L345.8 326.1L345.9 326.9L346.1 327.9L346.2 329.0L346.3 330.4L346.5 331.9L346.6 333.8L346.7 335.9L346.9 338.4L347.0 341.3L347.2 344.8L347.3 348.9L347.4 353.4L347.6 357.7L347.7 359.7L347.8 355.4L348.0 347.8L348.1 341.3L348.2 336.1L348.4 332.0L348.5 328.8L348.6 326.2L348.8 324.1L348.9 322.6L349.0 321.4L349.2 320.5L349.3 320.0L349.4 319.9L349.6 319.9L349.7 320.1L349.8 320.3L349.9 320.6L350.1 321.1L350.2 321.6L350.3 322.2L350.5 323.0L350.6 323.8L350.7 324.8L350.8 325.9L351.0 327.2L351.1 328.6L351.2 330.2L351.4 331.9L351.5 333.9L351.6 336.1L351.7 338.6L351.9 341.4L352.0 344.6L352.1 348.2L352.3 352.1L352.4 356.5L352.5 360.8L352.7 364.4L352.8 365.9L352.9 363.5L353.0 358.8L353.2 354.0L353.3 349.9L353.4 346.5L353.6 343.7L353.7 341.3L353.8 339.3L354.0 337.6L354.1 336.2L354.2 335.0L354.4 334.1L354.5 333.3L354.6 332.7L354.8 332.3L354.9 332.1L355.0 332.0L355.1 332.0L355.3 332.1L355.4 332.3L355.5 332.5L355.7 332.8L355.8 333.1L355.9 333.5L356.1 334.0L356.2 334.5L356.3 335.1L356.4 335.8L356.6 336.6L356.7 337.4L356.8 338.4L357.0 339.5L357.1 340.7L357.2 342.0L357.3 343.5L357.5 345.1L357.6 346.9L357.7 349.0L357.9 351.2L358.0 353.8L358.1 356.6L358.2 359.5L358.4 362.5L358.5 364.8L358.6 365.8L358.8 363.7L358.9 359.5L359.0 355.2L359.2 351.4L359.3 348.2L359.4 345.5L359.6 343.2L359.7 341.3L359.8 339.6L360.0 338.2L360.1 337.1L360.2 336.1L360.4 335.3L360.5 334.6L360.6 334.1L360.8 333.8L360.9 333.6L361.0 333.5L361.2 333.6L361.3 333.6L361.4 333.8L361.6 334.0L361.7 334.3L361.8 334.6L362.0 335.0L362.1 335.4L362.3 335.9L362.4 336.5L362.5 337.2L362.7 338.0L362.8 338.8L362.9 339.8L363.1 340.9L363.2 342.1L363.3 343.4L363.5 344.9L363.6 346.5L363.7 348.4L363.9 350.4L364.0 352.8L364.1 355.4L364.3 358.1L364.4 360.9L364.5 363.2L364.7 364.1L364.8 362.2L364.9 358.1L365.1 354.0L365.2 350.4L365.3 347.4L365.5 344.9L365.6 342.7L365.7 340.9L365.9 339.3L366.0 338.0L366.1 336.9L366.3 335.9L366.4 335.2L366.5 334.6L366.7 334.1L366.8 333.8L366.9 333.6L367.1 333.5L367.2 333.6L367.3 333.6L367.5 333.8L367.6 334.0L367.7 334.2L367.9 334.5L368.0 334.9L368.1 335.3L368.3 335.8L368.4 336.4L368.5 337.1L368.7 337.8L368.8 338.6L368.9 339.5L369.1 340.5L369.2 341.6L369.3 342.9L369.5 344.3L369.6 345.9L369.8 347.7L369.9 349.6L370.0 351.9L370.2 354.3L370.3 357.0L370.4 359.6L370.6 361.8L370.7 362.6L370.8 360.8L371.0 357.0L371.1 353.1L371.2 349.6L371.4 346.7L371.5 344.3L371.6 342.3L371.8 340.5L371.9 339.0L372.0 337.8L372.2 336.7L372.3 335.8L372.4 335.1L372.6 334.5L372.7 334.1L372.8 333.8L373.0 333.6L373.1 333.5L373.2 333.6L373.4 333.6L373.5 333.8L373.6 334.0L373.7 334.3L373.9 334.6L374.0 335.0L374.1 335.5L374.3 336.0L374.4 336.6L374.5 337.3L374.6 338.1L374.8 339.0L374.9 339.9L375.0 341.0L375.2 342.2L375.3 343.5L375.4 345.0L375.6 346.6L375.7 348.4L375.8 350.5L375.9 352.7L376.1 355.3L376.2 358.1L376.3 361.1L376.5 364.0L376.6 366.3L376.7 367.3L376.8 365.5L377.0 361.9L377.1 358.2L377.3 354.9L377.4 352.2L377.5 349.9L377.7 347.9L377.8 346.2L377.9 344.8L378.1 343.6L378.2 342.6L378.3 341.8L378.5 341.1L378.6 340.5L378.7 340.1L378.9 339.8L379.0 339.7L379.1 339.6L379.3 339.6L379.4 339.7L379.5 339.9L379.6 340.1L379.8 340.4L379.9 340.7L380.0 341.2L380.2 341.7L380.3 342.2L380.4 342.9L380.5 343.7L380.7 344.5L380.8 345.4L380.9 346.5L381.1 347.7L381.2 349.0L381.3 350.5L381.5 352.2L381.6 354.1L381.7 356.2L381.8 358.6L382.0 361.2L382.1 364.1L382.2 367.1L382.4 369.5L382.5 369.9L382.6 368.6L382.7 364.9L382.9 361.2L383.0 358.1L383.1 355.4L383.3 353.2L383.4 351.4L383.5 349.8L383.7 348.5L383.8 347.4L383.9 346.5L384.1 345.8L384.2 345.2L384.3 344.7L384.5 344.4L384.6 344.2L384.7 344.1L384.9 344.2L385.0 344.3L385.1 344.5L385.3 344.9L385.4 345.3L385.5 345.8L385.7 346.4L385.8 347.1L385.9 347.9L386.1 348.9L386.2 350.1L386.3 351.4L386.5 352.9L386.6 354.6L386.8 356.6L386.9 358.9L387.0 361.6L387.2 364.6L387.3 368.0L387.4 369.9L387.6 369.9L387.7 369.9L387.8 365.5L388.0 361.5L388.1 358.3L388.2 355.7L388.4 353.6L388.5 351.9L388.6 350.6L388.8 349.5L388.9 348.6L389.1 348.0L389.2 347.5L389.3 347.3L389.5 347.2L389.6 347.2L389.7 347.2L389.9 347.3L390.0 347.3L390.1 347.4L390.2 347.5L390.4 347.6L390.5 347.7L390.6 347.9L390.8 348.0L390.9 348.2L391.0 348.4L391.2 348.6L391.3 348.9L391.4 349.1L391.6 349.4L391.7 349.7L391.8 350.0L391.9 350.4L392.1 350.8L392.2 351.2L392.3 351.6L392.5 352.1L392.6 352.6L392.7 353.1L392.9 353.6L393.0 354.2L393.1 354.8L393.3 355.5L393.4 356.2L393.5 357.0L393.7 357.8L393.8 358.7L393.9 359.6L394.0 360.6L394.2 361.7L394.3 362.9L394.4 364.1L394.6 365.4L394.7 366.7L394.8 368.1L395.0 369.5L395.1 369.9L395.2 369.9L395.4 369.9L395.5 369.9" stroke="#0000ff"/>
<path d="M341.7 369.9L341.8 369.9L341.9 369.9L342.0 369.9L342.1 369.9L342.2 369.4L342.3 368.8L342.4 368.2L342.4 367.6L342.5 367.0L342.6 366.5L342.7 365.9L342.8 365.3L342.9 364.7L343.0 364.2L343.1 363.6L343.1 363.0L343.2 362.5L343.3 361.9L343.4 361.4L343.5 360.8L343.6 360.3L343.7 359.8L343.7 359.2L343.8 358.7L343.9 358.2L344.0 357.6L344.1 357.1L344.2 356.6L344.3 356.1L344.3 355.5L344.4 355.0L344.5 354.5L344.6 354.0L344.7 353.5L344.8 353.0L344.9 352.5L345.0 352.0L345.0 351.5L345.1 351.1L345.2 350.6L345.3 350.1L345.4 349.6L345.5 349.2L345.6 348.7L345.6 348.2L345.7 347.8L345.8 347.3L345.9 346.9L346.0 346.4L346.1 346.0L346.2 345.5L346.2 345.1L346.3 344.7L346.4 344.2L346.5 343.8L346.6 343.4L346.7 343.0L346.8 342.6L346.9 342.2L346.9 341.7L347.0 341.3L347.1 340.9L347.2 340.6L347.3 340.2L347.4 339.8L347.5 339.4L347.5 339.0L347.6 338.6L347.7 338.3L347.8 337.9L347.9 337.5L348.0 337.2L348.1 336.8L348.1 336.5L348.2 336.2L348.3 335.8L348.4 335.5L348.5 335.2L348.6 334.9L348.7 334.6L348.8 334.3L348.8 334.0L348.9 333.8L349.0 333.5L349.1 333.3L349.2 333.0L349.3 332.8L349.4 332.5L349.4 332.3L349.5 332.1L349.6 331.8L349.7 331.6L349.8 331.4L349.9 331.2L350.0 330.9L350.0 330.7L350.1 330.5L350.2 330.3L350.3 330.1L350.4 329.9L350.5 329.7L350.6 329.4L350.7 329.2L350.7 329.0L350.8 328.8L350.9 328.5L351.0 328.3L351.1 328.1L351.2 327.8L351.3 327.6L351.3 327.3L351.4 327.1L351.5 326.8L351.6 326.5L351.7 326.2L351.8 325.9L351.9 325.6L351.9 325.3L352.0 325.0L352.1 324.7L352.2 324.4L352.3 324.0L352.4 323.7L352.5 323.3L352.6 322.9L352.6 322.5L352.7 322.1L352.8 321.7L352.9 321.2L353.0 320.7L353.1 320.2L353.2 319.6L353.2 319.0L353.3 318.3L353.4 317.6L353.5 316.9L353.6 316.1L353.7 315.3L353.8 314.4L353.8 313.5L353.9 312.6L354.0 311.7L354.1 310.7L354.2 309.7L354.3 308.6L354.4 307.6L354.5 306.5L354.5 305.4L354.6 304.3L354.7 303.1L354.8 302.0L354.9 300.8L355.0 299.6L355.1 298.4L355.1 297.2L355.2 296.0L355.3 294.8L355.4 293.6L355.5 292.4L355.6 291.2L355.7 289.9L355.7 288.7L355.8 287.5L355.9 286.3L356.0 285.1L356.1 283.9L356.2 282.7L356.3 281.6L356.4 280.4L356.4 279.3L356.5 278.1L356.6 277.0L356.7 275.9L356.8 274.9L356.9 273.8L357.0 272.8L357.0 271.8L357.1 270.9L357.2 269.9L357.3 269.0L357.4 268.1L357.5 267.2L357.6 266.3L357.6 265.5L357.7 264.6L357.8 263.7L357.9 262.9L358.0 262.0L358.1 261.2L358.2 260.4L358.3 259.5L358.3 258.7L358.4 257.9L358.5 257.0L358.6 256.2L358.7 255.4L358.8 254.6L358.9 253.8L358.9 252.9L359.0 252.1L359.1 251.3L359.2 250.4L359.3 249.6L359.4 248.7L359.5 247.9L359.5 247.0L359.6 246.2L359.7 245.3L359.8 244.4L359.9 243.5L360.0 242.6L360.1 241.7L360.2 240.8L360.2 239.8L360.3 238.8L360.4 237.8L360.5 236.7L360.6 235.7L360.7 234.6L360.8 233.6L360.8 232.6L360.9 231.6L361.0 230.7L361.1 229.8L361.2 229.0L361.3 228.2L361.4 227.3L361.4 226.5L361.5 225.7L361.6 224.9L361.7 224.1L361.8 223.3L361.9 222.5L362.0 221.8L362.1 221.0L362.1 220.2L362.2 219.5L362.3 218.7L362.4 218.0L362.5 217.2L362.6 216.5L362.7 215.8L362.7 215.1L362.8 214.3L362.9 213.6L363.0 212.9L363.1 212.3L363.2 211.6L363.3 210.9L363.3 210.2L363.4 209.6L363.5 208.9L363.6 208.2L363.7 207.6L363.8 207.0L363.9 206.3L364.0 205.7L364.0 205.1L364.1 204.5L364.2 203.9L364.3 203.3L364.4 202.7L364.5 202.1L364.6 201.6L364.6 201.0L364.7 200.4L364.8 199.9L364.9 199.3L365.0 198.8L365.1 198.3L365.2 197.7L365.2 197.2L365.3 196.7L365.4 196.2L365.5 195.7L365.6 195.2L365.7 194.7L365.8 194.2L365.9 193.7L365.9 193.2L366.0 192.6L366.1 192.1L366.2 191.6L366.3 191.1L366.4 190.6L366.5 190.0L366.5 189.5L366.6 189.0L366.7 188.4L366.8 187.9L366.9 187.4L367.0 186.9L367.1 186.3L367.1 185.8L367.2 185.3L367.3 184.8L367.4 184.3L367.5 183.8L367.6 183.2L367.7 182.7L367.8 182.2L367.8 181.7L367.9 181.2L368.0 180.7L368.1 180.3L368.2 179.8L368.3 179.3L368.4 178.8L368.4 178.4L368.5 177.9L368.6 177.4L368.7 177.0L368.8 176.6L368.9 176.1L369.0 175.7L369.0 175.3L369.1 174.9L369.2 174.5L369.3 174.1L369.4 173.7L369.5 173.4L369.6 173.0L369.6 172.7L369.7 172.3L369.8 172.0L369.9 171.7L370.0 171.4L370.1 171.1L370.2 170.8L370.3 170.5L370.3 170.3L370.4 170.0L370.5 169.8L370.6 169.6L370.7 169.4L370.8 169.2L370.9 169.0L370.9 168.9L371.0 168.7L371.1 168.6L371.2 168.5L371.3 168.4L371.4 168.3L371.5 168.3L371.5 168.2L371.6 168.2L371.7 168.2L371.8 168.2L371.9 168.2L372.0 168.3L372.1 168.3L372.2 168.4L372.2 168.5L372.3 168.6L372.4 168.8L372.5 168.9L372.6 169.1L372.7 169.2L372.8 169.4L372.8 169.6L372.9 169.8L373.0 170.1L373.1 170.3L373.2 170.6L373.3 170.8L373.4 171.1L373.4 171.4L373.5 171.7L373.6 172.0L373.7 172.4L373.8 172.7L373.9 173.1L374.0 173.4L374.1 173.8L374.1 174.2L374.2 174.6L374.3 175.0L374.4 175.4L374.5 175.8L374.6 176.2L374.7 176.6L374.7 177.1L374.8 177.5L374.9 178.0L375.0 178.4L375.1 178.9L375.2 179.4L375.3 179.9L375.3 180.3L375.4 180.8L375.5 181.3L375.6 181.8L375.7 182.3L375.8 182.8L375.9 183.3L376.0 183.9L376.0 184.4L376.1 184.9L376.2 185.4L376.3 185.9L376.4 186.4L376.5 187.0L376.6 187.5L376.6 188.0L376.7 188.5L376.8 189.1L376.9 189.6L377.0 190.1L377.1 190.6L377.2 191.2L377.2 191.7L377.3 192.2L377.4 192.7L377.5 193.2L377.6 193.7L377.7 194.2L377.8 194.7L377.9 195.2L377.9 195.7L378.0 196.2L378.1 196.7L378.2 197.2L378.3 197.7L378.4 198.1L378.5 198.6L378.5 199.1L378.6 199.6L378.7 200.1L378.8 200.5L378.9 201.0L379.0 201.5L379.1 202.0L379.1 202.5L379.2 203.0L379.3 203.5L379.4 204.0L379.5 204.5L379.6 205.0L379.7 205.5L379.8 206.0L379.8 206.5L379.9 207.1L380.0 207.6L380.1 208.2L380.2 208.8L380.3 209.3L380.4 209.9L380.4 210.5L380.5 211.1L380.6 211.8L380.7 212.4L380.8 213.1L380.9 213.7L381.0 214.4L381.0 215.1L381.1 215.8L381.2 216.5L381.3 217.3L381.4 218.0L381.5 218.8L381.6 219.6L381.7 220.4L381.7 221.3L381.8 222.1L381.9 223.0L382.0 223.9L382.1 224.8L382.2 225.7L382.3 226.7L382.3 227.7L382.4 228.7L382.5 229.7L382.6 230.8L382.7 232.1L382.8 233.5L382.9 235.2L382.9 237.1L383.0 239.0L383.1 241.1L383.2 243.3L383.3 245.6L383.4 248.0L383.5 250.3L383.6 252.7L383.6 255.1L383.7 257.4L383.8 259.7L383.9 261.9L384.0 264.0L384.1 266.0L384.2 267.9L384.2 269.6L384.3 271.1L384.4 272.5L384.5 273.8L384.6 275.1L384.7 276.4L384.8 277.5L384.8 278.7L384.9 279.8L385.0 280.8L385.1 281.9L385.2 282.9L385.3 283.9L385.4 284.9L385.5 285.9L385.5 286.9L385.6 288.0L385.7 289.0L385.8 290.1L385.9 291.1L386.0 292.3L386.1 293.4L386.1 294.6L386.2 295.9L386.3 297.2L386.4 298.5L386.5 300.1L386.6 302.0L386.7 304.3L386.7 306.6L386.8 308.8L386.9 310.6L387.0 311.9L387.1 312.3L387.2 312.2L387.3 311.9L387.4 311.4L387.4 310.8L387.5 310.1L387.6 309.3L387.7 308.4L387.8 307.5L387.9 306.6L388.0 305.6L388.0 304.7L388.1 303.9L388.2 303.1L388.3 302.5L388.4 301.9L388.5 301.6L388.6 301.4L388.7 301.5L388.8 301.8L388.9 302.2L389.0 302.6L389.1 303.2L389.2 303.9L389.3 304.6L389.3 305.4L389.4 306.2L389.5 307.1L389.6 308.1L389.7 309.0L389.8 310.0L389.9 311.0L389.9 312.0L390.0 313.0L390.1 314.0L390.2 315.0L390.3 315.9L390.4 316.8L390.5 317.6L390.5 318.4L390.6 319.1L390.7 319.7L390.8 320.3L390.9 320.7L391.0 321.1L391.1 321.3L391.2 321.4L391.3 321.3L391.4 321.2L391.5 321.0L391.6 320.8L391.7 320.5L391.8 320.2L391.8 319.9L391.9 319.6L392.0 319.2L392.1 318.9L392.2 318.5L392.3 318.2L392.4 317.9L392.4 317.6L392.5 317.4L392.6 317.2L392.7 317.0L392.8 316.9L392.9 316.8L393.0 316.9L393.1 316.9L393.1 317.1L393.2 317.3L393.3 317.5L393.4 317.8L393.5 318.1L393.6 318.5L393.7 318.9L393.7 319.3L393.8 319.8L393.9 320.3L394.0 320.8L394.1 321.4L394.2 321.9L394.3 322.5L394.3 323.1L394.4 323.7L394.5 324.3L394.6 324.9L394.7 325.5L394.8 326.1L394.9 326.7L395.0 327.3L395.0 327.9L395.1 328.4L395.2 329.0L395.3 329.5L395.4 330.0L395.5 330.4L395.6 330.8L395.6 331.3L395.7 331.7L395.8 332.1L395.9 332.4L396.0 332.8L396.1 333.2L396.2 333.5L396.2 333.9L396.3 334.2L396.4 334.6L396.5 334.9L396.6 335.3L396.7 335.6L396.8 335.9L396.9 336.3L396.9 336.6L397.0 336.9L397.1 337.3L397.2 337.6L397.3 338.0L397.4 338.3L397.5 338.7L397.5 339.0L397.6 339.4L397.7 339.8L397.8 340.2L397.9 340.6L398.0 341.0L398.1 341.4L398.1 341.9L398.2 342.3L398.3 342.8L398.4 343.3L398.5 343.8L398.6 344.3L398.7 344.8L398.8 345.4L398.8 345.9L398.9 346.5L399.0 347.2L399.1 347.8L399.2 348.6L399.3 349.3L399.4 350.2L399.4 351.0L399.5 351.9L399.6 352.9L399.7 353.8L399.8 354.9L399.9 355.9L400.0 357.0L400.0 358.1L400.1 359.2L400.2 360.4L400.3 361.6L400.4 362.8L400.5 364.0L400.6 365.2L400.6 366.5L400.7 367.8L400.8 369.1L400.9 369.9L401.0 369.9L401.1 369.9" stroke="#bf00bf"/>
<path d="M64.0 369.9L64.1 369.9L64.3 369.9L64.4 369.9L64.5 369.9L64.6 369.9L64.8 369.2L64.9 367.9L65.0 366.4L65.2 364.8L65.3 363.0L65.4 361.1L65.6 359.1L65.7 357.1L65.8 354.9L65.9 352.7L66.1 350.4L66.2 348.2L66.3 345.8L66.5 343.5L66.6 341.2L66.7 338.9L66.9 336.6L67.0 334.3L67.1 332.1L67.2 329.9L67.4 327.7L67.5 325.6L67.6 323.6L67.8 321.6L67.9 319.6L68.0 317.8L68.2 316.0L68.3 314.3L68.4 312.6L68.5 311.1L68.7 309.6L68.8 308.2L68.9 306.9L69.1 305.6L69.2 304.5L69.3 303.4L69.5 302.4L69.6 301.5L69.7 300.7L69.8 299.9L70.0 299.3L70.1 298.7L70.2 298.2L70.4 297.8L70.5 297.5L70.6 297.3L70.8 297.2L70.9 297.1L71.0 297.1L71.1 297.2L71.3 297.3L71.4 297.4L71.5 297.5L71.7 297.6L71.8 297.8L71.9 298.0L72.1 298.3L72.2 298.5L72.3 298.8L72.5 299.2L72.6 299.5L72.7 299.9L72.8 300.3L73.0 300.7L73.1 301.2L73.2 301.6L73.4 302.2L73.5 302.7L73.6 303.2L73.8 303.8L73.9 304.4L74.0 305.0L74.1 305.7L74.3 306.3L74.4 307.0L74.5 307.7L74.7 308.4L74.8 309.1L74.9 309.9L75.1 310.6L75.2 311.3L75.3 312.1L75.4 312.8L75.6 313.5L75.7 314.3L75.8 315.0L76.0 315.7L76.1 316.3L76.2 317.0L76.4 317.6L76.5 318.1L76.6 318.7L76.7 319.1L76.9 319.6L77.0 319.9L77.1 320.2L77.3 320.5L77.4 320.6L77.5 320.8L77.7 320.8L77.8 320.7L77.9 320.5L78.1 320.2L78.2 319.7L78.3 319.2L78.5 318.5L78.6 317.7L78.7 316.9L78.8 316.0L79.0 315.0L79.1 314.0L79.2 312.9L79.4 311.8L79.5 310.7L79.6 309.5L79.8 308.4L79.9 307.3L80.0 306.2L80.2 305.1L80.3 304.0L80.4 303.0L80.6 302.0L80.7 301.0L80.8 300.1L81.0 299.2L81.1 298.4L81.2 297.6L81.4 296.8L81.5 296.1L81.6 295.5L81.7 294.9L81.9 294.3L82.0 293.8L82.1 293.4L82.3 293.0L82.4 292.6L82.5 292.3L82.7 292.1L82.8 291.9L82.9 291.8L83.1 291.7L83.2 291.7L83.3 291.7L83.5 291.7L83.6 291.8L83.7 291.9L83.8 292.1L84.0 292.3L84.1 292.5L84.2 292.7L84.4 293.0L84.5 293.3L84.6 293.7L84.8 294.0L84.9 294.4L85.0 294.9L85.1 295.4L85.3 295.9L85.4 296.4L85.5 296.9L85.7 297.5L85.8 298.2L85.9 298.8L86.0 299.5L86.2 300.2L86.3 300.9L86.4 301.7L86.6 302.4L86.7 303.2L86.8 304.0L87.0 304.8L87.1 305.7L87.2 306.5L87.3 307.4L87.5 308.3L87.6 309.1L87.7 310.0L87.9 310.8L88.0 311.7L88.1 312.5L88.2 313.3L88.4 314.1L88.5 314.8L88.6 315.5L88.8 316.2L88.9 316.8L89.0 317.4L89.1 317.9L89.3 318.3L89.4 318.6L89.5 318.9L89.7 319.1L89.8 319.3L89.9 319.3L90.1 319.2L90.2 319.1L90.3 318.8L90.4 318.4L90.6 318.0L90.7 317.4L90.8 316.8L91.0 316.1L91.1 315.4L91.2 314.6L91.4 313.7L91.5 312.9L91.6 312.0L91.8 311.1L91.9 310.1L92.0 309.2L92.2 308.3L92.3 307.4L92.4 306.5L92.5 305.7L92.7 304.8L92.8 304.0L92.9 303.2L93.1 302.5L93.2 301.8L93.3 301.1L93.5 300.4L93.6 299.8L93.7 299.2L93.9 298.7L94.0 298.2L94.1 297.8L94.2 297.4L94.4 297.0L94.5 296.7L94.6 296.4L94.8 296.2L94.9 296.0L95.0 295.8L95.2 295.7L95.3 295.6L95.4 295.6L95.6 295.6L95.7 295.7L95.8 295.8L95.9 295.9L96.1 296.0L96.2 296.2L96.3 296.4L96.5 296.6L96.6 296.9L96.7 297.2L96.9 297.6L97.0 297.9L97.1 298.3L97.2 298.7L97.4 299.2L97.5 299.7L97.6 300.2L97.8 300.8L97.9 301.3L98.0 301.9L98.2 302.6L98.3 303.2L98.4 303.9L98.5 304.6L98.7 305.3L98.8 306.1L98.9 306.8L99.1 307.6L99.2 308.4L99.3 309.2L99.5 310.1L99.6 310.9L99.7 311.7L99.8 312.5L100.0 313.4L100.1 314.2L100.2 315.0L100.4 315.7L100.5 316.5L100.6 317.2L100.8 317.9L100.9 318.5L101.0 319.1L101.1 319.7L101.3 320.2L101.4 320.6L101.5 320.9L101.7 321.2L101.8 321.4L101.9 321.5L102.1 321.5L102.2 321.5L102.3 321.3L102.4 321.0L102.6 320.6L102.7 320.0L102.8 319.4L103.0 318.7L103.1 317.9L103.2 317.0L103.3 316.1L103.5 315.1L103.6 314.1L103.7 313.1L103.9 312.0L104.0 310.9L104.1 309.9L104.3 308.8L104.4 307.8L104.5 306.8L104.6 305.8L104.8 304.8L104.9 303.8L105.0 302.9L105.2 302.1L105.3 301.2L105.4 300.4L105.5 299.7L105.7 299.0L105.8 298.3L105.9 297.7L106.1 297.1L106.2 296.6L106.3 296.1L106.4 295.7L106.6 295.3L106.7 295.0L106.8 294.7L107.0 294.5L107.1 294.3L107.2 294.2L107.4 294.1L107.5 294.1L107.6 294.1L107.7 294.2L107.9 294.4L108.0 294.6L108.1 295.0L108.3 295.3L108.4 295.8L108.5 296.3L108.7 296.9L108.8 297.5L108.9 298.3L109.1 299.0L109.2 299.9L109.3 300.8L109.5 301.7L109.6 302.7L109.7 303.8L109.8 304.9L110.0 306.1L110.1 307.3L110.2 308.5L110.4 309.7L110.5 311.0L110.6 312.2L110.8 313.5L110.9 314.7L111.0 315.9L111.2 317.0L111.3 318.1L111.4 319.0L111.6 319.9L111.7 320.6L111.8 321.2L112.0 321.6L112.1 321.8L112.2 321.9L112.3 321.7L112.5 321.3L112.6 320.4L112.8 319.4L112.9 318.1L113.0 316.7L113.2 315.1L113.3 313.5L113.4 311.8L113.6 310.1L113.7 308.5L113.8 306.9L114.0 305.3L114.1 303.8L114.2 302.4L114.4 301.1L114.5 299.9L114.6 298.8L114.8 297.8L114.9 296.8L115.0 296.0L115.2 295.3L115.3 294.6L115.4 294.1L115.6 293.7L115.7 293.3L115.8 293.1L116.0 292.9L116.1 292.9L116.2 292.9L116.4 293.1L116.5 293.4L116.6 293.8L116.8 294.3L116.9 294.9L117.0 295.7L117.2 296.5L117.3 297.5L117.4 298.7L117.5 299.9L117.7 301.3L117.8 302.9L117.9 304.6L118.1 306.4L118.2 308.4L118.3 310.6L118.5 312.8L118.6 315.1L118.7 317.5L118.9 319.8L119.0 321.9L119.1 323.5L119.3 324.7L119.4 325.0L119.5 323.7L119.7 320.5L119.8 316.5L119.9 312.5L120.1 308.8L120.2 305.5L120.3 302.5L120.4 300.0L120.6 297.7L120.7 295.7L120.8 294.0L121.0 292.4L121.1 291.1L121.2 290.0L121.3 289.0L121.5 288.3L121.6 287.6L121.7 287.1L121.9 286.8L122.0 286.6L122.1 286.5L122.3 286.5L122.4 286.6L122.5 286.7L122.6 286.9L122.8 287.1L122.9 287.3L123.0 287.6L123.2 288.0L123.3 288.4L123.4 288.8L123.6 289.3L123.7 289.9L123.8 290.5L124.0 291.2L124.1 291.9L124.2 292.7L124.4 293.6L124.5 294.6L124.6 295.6L124.8 296.8L124.9 298.0L125.0 299.3L125.2 300.8L125.3 302.3L125.4 304.0L125.6 305.8L125.7 307.8L125.8 309.8L126.0 311.9L126.1 314.1L126.2 316.2L126.4 317.9L126.5 319.1L126.6 319.6L126.8 317.8L126.9 313.7L127.0 308.9L127.2 304.4L127.3 300.4L127.4 296.9L127.6 293.9L127.7 291.3L127.8 289.1L128.0 287.2L128.1 285.6L128.2 284.3L128.3 283.2L128.5 282.3L128.6 281.6L128.7 281.1L128.9 280.8L129.0 280.7L129.1 280.8L129.3 280.9L129.4 281.1L129.5 281.4L129.7 281.7L129.8 282.2L129.9 282.7L130.1 283.3L130.2 284.0L130.3 284.8L130.5 285.8L130.6 286.8L130.7 288.0L130.9 289.3L131.0 290.8L131.1 292.5L131.3 294.4L131.4 296.5L131.5 298.8L131.7 301.3L131.8 303.9L131.9 306.4L132.1 308.3L132.2 309.0L132.3 307.7L132.5 304.6L132.6 300.8L132.7 297.0L132.9 293.6L133.0 290.6L133.1 287.9L133.2 285.6L133.4 283.6L133.5 281.8L133.6 280.3L133.8 279.0L133.9 277.8L134.0 276.9L134.2 276.1L134.3 275.5L134.4 275.0L134.6 274.6L134.7 274.4L134.8 274.4L135.0 274.4L135.1 274.6L135.2 274.8L135.3 275.2L135.5 275.6L135.6 276.2L135.7 276.8L135.9 277.6L136.0 278.5L136.1 279.5L136.3 280.7L136.4 282.0L136.5 283.5L136.7 285.2L136.8 287.1L136.9 289.2L137.1 291.6L137.2 294.2L137.3 297.1L137.5 300.3L137.6 303.6L137.7 306.7L137.9 309.1L138.0 310.0L138.1 308.5L138.3 304.8L138.4 300.3L138.5 295.9L138.7 291.9L138.8 288.3L138.9 285.2L139.1 282.5L139.2 280.1L139.3 278.0L139.5 276.2L139.6 274.6L139.7 273.3L139.8 272.2L140.0 271.3L140.1 270.5L140.2 269.9L140.4 269.5L140.5 269.3L140.6 269.2L140.8 269.3L140.9 269.6L141.0 270.0L141.1 270.6L141.3 271.4L141.4 272.4L141.5 273.5L141.7 274.9L141.8 276.6L141.9 278.5L142.0 280.7L142.2 283.2L142.3 286.1L142.4 289.4L142.6 293.2L142.7 297.4L142.8 302.1L143.0 306.8L143.1 310.7L143.2 312.3L143.3 310.4L143.5 305.8L143.6 300.3L143.8 295.0L143.9 290.3L144.0 286.1L144.2 282.5L144.3 279.3L144.4 276.6L144.6 274.3L144.7 272.2L144.8 270.5L145.0 269.1L145.1 267.9L145.3 266.9L145.4 266.2L145.5 265.7L145.7 265.4L145.8 265.3L145.9 265.3L146.1 265.5L146.2 265.8L146.3 266.2L146.4 266.7L146.6 267.3L146.7 268.1L146.8 268.9L147.0 270.0L147.1 271.1L147.2 272.4L147.3 273.8L147.5 275.4L147.6 277.2L147.7 279.1L147.9 281.2L148.0 283.6L148.1 286.1L148.2 289.0L148.4 292.0L148.5 295.4L148.6 299.1L148.8 303.1L148.9 307.4L149.0 312.0L149.2 316.7L149.3 321.4L149.4 325.5L149.5 328.5L149.7 329.6L149.8 325.6L149.9 316.5L150.1 306.6L150.2 297.7L150.3 289.9L150.5 283.4L150.6 277.8L150.7 273.2L150.9 269.3L151.0 266.0L151.1 263.4L151.3 261.3L151.4 259.7L151.6 258.6L151.7 257.9L151.8 257.7L152.0 257.7L152.1 257.9L152.2 258.1L152.4 258.3L152.5 258.7L152.6 259.2L152.8 259.7L152.9 260.4L153.0 261.2L153.2 262.0L153.3 263.0L153.4 264.1L153.6 265.4L153.7 266.9L153.8 268.5L154.0 270.3L154.1 272.3L154.2 274.6L154.4 277.1L154.5 279.7L154.6 282.2L154.8 284.2L154.9 285.0L155.0 283.5L155.2 279.7L155.3 275.3L155.4 271.1L155.6 267.2L155.7 263.9L155.8 260.9L156.0 258.4L156.1 256.2L156.2 254.3L156.4 252.7L156.5 251.3L156.6 250.1L156.8 249.2L156.9 248.4L157.0 247.8L157.2 247.4L157.3 247.2L157.4 247.1L157.6 247.1L157.7 247.2L157.8 247.3L157.9 247.5L158.1 247.8L158.2 248.1L158.3 248.5L158.5 249.0L158.6 249.5L158.7 250.2L158.9 250.8L159.0 251.6L159.1 252.5L159.3 253.4L159.4 254.5L159.5 255.7L159.7 257.0L159.8 258.4L159.9 260.0L160.0 261.8L160.2 263.7L160.3 265.8L160.4 268.0L160.6 270.2L160.7 272.3L160.8 273.8L161.0 274.4L161.1 273.0L161.2 269.6L161.4 265.3L161.5 260.9L161.6 256.8L161.8 253.0L161.9 249.7L162.0 246.8L162.2 244.2L162.3 241.9L162.4 239.8L162.6 238.1L162.7 236.5L162.8 235.2L163.0 234.0L163.1 233.0L163.2 232.2L163.3 231.5L163.5 231.0L163.6 230.7L163.7 230.5L163.9 230.4L164.0 230.4L164.1 230.6L164.3 230.8L164.4 231.1L164.5 231.5L164.7 232.0L164.8 232.6L164.9 233.4L165.0 234.2L165.2 235.2L165.3 236.3L165.4 237.5L165.6 238.9L165.7 240.6L165.8 242.4L165.9 244.4L166.1 246.8L166.2 249.3L166.3 252.0L166.5 254.7L166.6 256.8L166.7 257.7L166.9 255.9L167.0 251.9L167.1 247.4L167.3 243.2L167.4 239.5L167.5 236.3L167.7 233.6L167.8 231.3L167.9 229.4L168.1 227.7L168.2 226.4L168.4 225.2L168.5 224.3L168.6 223.7L168.8 223.2L168.9 222.9L169.0 222.8L169.2 222.8L169.3 223.0L169.4 223.2L169.6 223.5L169.7 223.9L169.8 224.4L169.9 225.0L170.1 225.8L170.2 226.6L170.3 227.6L170.5 228.7L170.6 229.9L170.7 231.4L170.9 233.0L171.0 234.8L171.1 236.9L171.2 239.2L171.4 241.7L171.5 244.5L171.6 247.1L171.8 249.3L171.9 250.1L172.0 248.1L172.2 243.3L172.3 238.0L172.4 233.1L172.6 228.7L172.7 225.0L172.8 221.9L173.0 219.2L173.1 216.9L173.3 214.9L173.4 213.3L173.5 212.0L173.7 211.0L173.8 210.2L173.9 209.6L174.1 209.3L174.2 209.2L174.3 209.2L174.5 209.3L174.6 209.4L174.7 209.6L174.9 209.9L175.0 210.2L175.1 210.6L175.3 211.1L175.4 211.6L175.5 212.2L175.7 212.9L175.8 213.7L175.9 214.6L176.0 215.5L176.2 216.6L176.3 217.8L176.4 219.1L176.6 220.5L176.7 222.1L176.8 223.9L177.0 225.8L177.1 227.9L177.2 230.1L177.4 232.3L177.5 234.4L177.6 235.9L177.8 236.5L177.9 235.2L178.0 232.2L178.2 228.3L178.3 224.4L178.4 220.7L178.6 217.3L178.7 214.3L178.8 211.7L178.9 209.4L179.1 207.3L179.2 205.5L179.3 203.9L179.5 202.5L179.6 201.3L179.7 200.3L179.9 199.4L180.0 198.6L180.1 198.1L180.3 197.6L180.4 197.3L180.5 197.1L180.7 197.0L180.8 197.1L180.9 197.2L181.1 197.4L181.2 197.7L181.3 198.1L181.5 198.7L181.6 199.3L181.7 200.0L181.9 200.8L182.0 201.8L182.1 202.9L182.3 204.1L182.4 205.6L182.5 207.2L182.7 209.0L182.8 211.1L183.0 213.4L183.1 215.9L183.2 218.7L183.4 221.4L183.5 223.5L183.6 224.3L183.8 222.1L183.9 217.0L184.0 211.0L184.2 205.4L184.3 200.3L184.4 196.0L184.6 192.2L184.7 189.0L184.8 186.2L185.0 183.9L185.1 181.9L185.2 180.2L185.4 178.8L185.5 177.7L185.6 176.8L185.8 176.3L185.9 175.9L186.0 175.8L186.2 175.8L186.3 176.0L186.4 176.3L186.6 176.6L186.7 177.1L186.8 177.8L187.0 178.5L187.1 179.4L187.2 180.4L187.3 181.7L187.5 183.0L187.6 184.6L187.7 186.5L187.9 188.6L188.0 191.0L188.1 193.7L188.3 196.6L188.4 199.6L188.5 202.1L188.7 203.1L188.8 200.1L188.9 193.4L189.1 186.1L189.2 179.5L189.3 173.8L189.5 168.9L189.6 164.9L189.7 161.4L189.8 158.5L190.0 156.1L190.1 154.2L190.2 152.7L190.4 151.5L190.5 150.6L190.6 150.2L190.8 150.0L190.9 150.1L191.1 150.5L191.2 151.1L191.3 151.9L191.5 153.0L191.6 154.4L191.7 156.1L191.9 158.2L192.0 160.6L192.1 163.5L192.3 167.0L192.4 171.1L192.5 175.8L192.7 181.0L192.8 185.8L192.9 187.9L193.0 185.3L193.1 182.6L193.2 180.0L193.3 177.4L193.4 174.9L193.5 172.4L193.5 169.9L193.6 167.4L193.7 165.0L193.8 162.7L193.9 160.3L194.0 158.0L194.1 155.8L194.1 153.6L194.2 151.4L194.3 149.2L194.4 147.1L194.5 144.9L194.6 142.8L194.7 140.7L194.7 138.6L194.8 136.5L194.9 134.5L195.0 132.5L195.1 130.6L195.2 128.7L195.3 126.8L195.4 125.1L195.4 123.4L195.5 121.7L195.6 120.2L195.7 118.7L195.8 117.3L195.9 115.9L196.0 114.6L196.0 113.2L196.1 111.9L196.2 110.6L196.3 109.3L196.4 108.1L196.5 106.9L196.6 105.7L196.7 104.5L196.7 103.3L196.8 102.1L196.9 101.0L197.0 99.9L197.1 98.8L197.2 97.7L197.3 96.7L197.3 95.6L197.4 94.6L197.5 93.6L197.6 92.6L197.7 91.6L197.8 90.7L197.9 89.7L197.9 88.8L198.0 87.9L198.1 87.0L198.2 86.2L198.3 85.3L198.4 84.5L198.5 83.7L198.6 82.9L198.6 82.1L198.7 81.3L198.8 80.6L198.9 79.8L199.0 79.1L199.1 78.4L199.2 77.7L199.2 77.0L199.3 76.3L199.4 75.6L199.5 74.9L199.6 74.3L199.7 73.6L199.8 73.0L199.8 72.3L199.9 71.7L200.0 71.0L200.1 70.4L200.2 69.8L200.3 69.2L200.4 68.7L200.5 68.1L200.5 67.5L200.6 67.0L200.7 66.5L200.8 66.0L200.9 65.5L201.0 65.0L201.1 64.5L201.1 64.1L201.2 63.6L201.3 63.2L201.4 62.8L201.5 62.5L201.6 62.1L201.7 61.8L201.7 61.5L201.8 61.1L201.9 60.8L202.0 60.5L202.1 60.2L202.2 59.9L202.3 59.6L202.4 59.3L202.4 59.0L202.5 58.7L202.6 58.4L202.7 58.2L202.8 57.9L202.9 57.6L203.0 57.3L203.0 57.0L203.1 56.8L203.2 56.5L203.3 56.3L203.4 56.0L203.5 55.8L203.6 55.5L203.7 55.3L203.7 55.1L203.8 54.9L203.9 54.7L204.0 54.5L204.1 54.3L204.2 54.1L204.3 53.9L204.3 53.8L204.4 53.6L204.5 53.5L204.6 53.3L204.7 53.2L204.8 53.1L204.9 53.0L204.9 52.9L205.0 52.9L205.1 52.8L205.2 52.8L205.3 52.8L205.4 52.7L205.5 52.7L205.6 52.8L205.7 52.8L205.8 52.9L205.9 52.9L206.0 53.0L206.1 53.1L206.2 53.2L206.2 53.3L206.3 53.5L206.4 53.6L206.5 53.7L206.6 53.9L206.7 54.1L206.8 54.3L206.8 54.4L206.9 54.6L207.0 54.8L207.1 55.0L207.2 55.3L207.3 55.5L207.4 55.7L207.5 56.0L207.5 56.2L207.6 56.5L207.7 56.7L207.8 57.0L207.9 57.3L208.0 57.6L208.1 57.8L208.1 58.1L208.2 58.4L208.3 58.7L208.4 59.0L208.5 59.3L208.6 59.6L208.7 59.9L208.7 60.2L208.8 60.5L208.9 60.8L209.0 61.2L209.1 61.5L209.2 61.8L209.3 62.2L209.4 62.6L209.4 63.0L209.5 63.4L209.6 63.9L209.7 64.4L209.8 64.9L209.9 65.4L210.0 66.0L210.0 66.5L210.1 67.1L210.2 67.7L210.3 68.3L210.4 69.0L210.5 69.6L210.6 70.3L210.7 70.9L210.7 71.6L210.8 72.3L210.9 73.0L211.0 73.7L211.1 74.4L211.2 75.2L211.3 75.9L211.3 76.6L211.4 77.3L211.5 78.1L211.6 78.8L211.7 79.5L211.8 80.2L211.9 80.9L211.9 81.6L212.0 82.2L212.1 82.8L212.2 83.4L212.3 84.0L212.4 84.5L212.5 85.1L212.6 85.7L212.6 86.2L212.7 86.8L212.8 87.4L212.9 88.0L213.0 88.6L213.1 89.2L213.2 89.9L213.2 90.5L213.3 91.2L213.4 92.0L213.5 92.8L213.6 93.6L213.7 94.4L213.8 95.3L213.8 96.3L213.9 97.3L214.0 98.4L214.1 99.5L214.2 100.7L214.3 102.0L214.4 103.3L214.5 104.7L214.5 106.2L214.6 107.8L214.7 109.4L214.8 111.2L214.9 113.0L215.0 115.0L215.1 117.0L215.1 119.5L215.2 124.7L215.3 132.1L215.4 140.9L215.5 149.9L215.6 158.6L215.7 167.9L215.7 177.9L215.8 188.4L215.9 199.4L216.0 211.1L216.1 223.5L216.2 236.5L216.3 223.0L216.5 202.6L216.6 186.3L216.7 173.9L216.9 164.5L217.0 157.4L217.1 151.9L217.3 147.9L217.4 145.2L217.6 143.5L217.7 143.0L217.8 143.1L218.0 143.2L218.1 143.4L218.2 143.7L218.3 144.1L218.5 144.6L218.6 145.1L218.7 145.8L218.9 146.6L219.0 147.4L219.1 148.4L219.3 149.5L219.4 150.6L219.5 151.9L219.7 153.3L219.8 154.9L219.9 156.6L220.1 158.4L220.2 160.4L220.3 162.5L220.5 164.9L220.6 167.4L220.7 170.2L220.8 173.2L221.0 176.4L221.1 180.0L221.2 183.8L221.4 188.0L221.5 192.6L221.6 197.6L221.8 202.9L221.9 208.5L222.0 214.1L222.2 219.2L222.3 222.9L222.4 224.3L222.6 216.9L222.7 205.6L222.8 196.6L223.0 189.8L223.1 184.6L223.2 180.7L223.4 177.7L223.5 175.4L223.7 173.9L223.8 173.0L223.9 172.7L224.1 172.9L224.2 173.2L224.3 173.7L224.5 174.5L224.6 175.6L224.7 176.9L224.8 178.4L225.0 180.3L225.1 182.4L225.2 185.0L225.4 187.9L225.5 191.3L225.6 195.2L225.8 199.8L225.9 205.1L226.0 211.3L226.2 218.5L226.3 226.5L226.4 233.9L226.5 237.2L226.7 235.7L226.8 232.0L226.9 227.8L227.1 223.6L227.2 219.9L227.3 216.6L227.5 213.7L227.6 211.2L227.7 208.9L227.9 206.9L228.0 205.2L228.1 203.6L228.3 202.3L228.4 201.1L228.5 200.0L228.7 199.1L228.8 198.3L228.9 197.6L229.1 197.1L229.2 196.6L229.3 196.2L229.5 196.0L229.6 195.9L229.7 195.8L229.9 195.9L230.0 196.2L230.1 196.7L230.3 197.4L230.4 198.3L230.5 199.5L230.7 200.9L230.8 202.6L230.9 204.5L231.1 206.8L231.2 209.4L231.3 212.5L231.4 216.1L231.6 220.2L231.7 225.0L231.8 230.6L232.0 237.1L232.1 244.3L232.2 250.9L232.4 253.9L232.5 252.3L232.6 248.5L232.8 243.9L232.9 239.5L233.0 235.6L233.2 232.1L233.3 229.0L233.4 226.3L233.6 224.0L233.7 221.9L233.8 220.0L234.0 218.4L234.1 216.9L234.2 215.6L234.4 214.5L234.5 213.5L234.6 212.7L234.8 212.0L234.9 211.4L235.0 210.9L235.2 210.5L235.3 210.3L235.4 210.1L235.6 210.1L235.7 214.3L235.8 228.0L235.9 254.3L236.1 302.1L236.2 363.9L236.3 361.5L236.5 355.1L236.6 346.4L236.7 336.7L236.9 327.1L237.0 317.9L237.1 309.3L237.3 301.5L237.4 294.2L237.5 287.6L237.6 281.5L237.8 275.9L237.9 270.7L238.0 266.0L238.2 261.6L238.3 257.6L238.4 253.9L238.6 250.5L238.7 247.3L238.8 244.4L239.0 241.8L239.1 239.3L239.2 237.1L239.4 235.1L239.5 233.3L239.6 231.6L239.8 230.1L239.9 228.8L240.0 227.7L240.1 226.7L240.3 225.9L240.4 225.2L240.5 224.7L240.7 224.3L240.8 224.1L240.9 224.0L241.1 224.1L241.2 224.5L241.3 225.1L241.5 225.9L241.6 227.1L241.7 228.4L241.9 230.1L242.0 232.2L242.2 234.6L242.3 237.4L242.4 240.8L242.6 244.8L242.7 249.4L242.8 255.0L243.0 261.6L243.1 269.1L243.2 276.4L243.4 279.9L243.5 278.2L243.6 274.1L243.8 269.4L243.9 264.9L244.0 260.9L244.2 257.4L244.3 254.4L244.4 251.7L244.5 249.4L244.7 247.3L244.8 245.5L244.9 243.9L245.1 242.5L245.2 241.3L245.3 240.2L245.5 239.3L245.6 238.5L245.7 237.9L245.8 237.4L246.0 237.0L246.1 236.7L246.2 236.5L246.4 236.5L246.5 236.6L246.6 236.9L246.8 237.4L246.9 238.2L247.0 239.2L247.1 240.5L247.3 242.1L247.4 243.9L247.5 246.1L247.7 248.7L247.8 251.8L247.9 255.4L248.1 259.7L248.2 264.7L248.3 270.7L248.4 277.6L248.6 284.3L248.7 287.5L248.8 285.7L249.0 281.5L249.1 276.8L249.2 272.3L249.4 268.4L249.5 265.0L249.6 262.0L249.7 259.4L249.9 257.2L250.0 255.2L250.1 253.5L250.3 252.0L250.4 250.7L250.5 249.5L250.7 248.6L250.8 247.7L250.9 247.1L251.0 246.5L251.2 246.1L251.3 245.8L251.4 245.6L251.6 245.6L251.7 250.9L251.8 268.5L252.0 306.5L252.1 366.9L252.3 365.1L252.4 360.1L252.5 353.4L252.7 345.9L252.8 338.5L252.9 331.4L253.0 324.8L253.2 318.7L253.3 313.1L253.4 308.0L253.6 303.3L253.7 298.9L253.8 295.0L254.0 291.3L254.1 287.9L254.2 284.8L254.4 282.0L254.5 279.3L254.6 276.9L254.8 274.7L254.9 272.6L255.0 270.7L255.2 269.0L255.3 267.5L255.4 266.0L255.5 264.8L255.7 263.6L255.8 262.6L255.9 261.7L256.1 261.0L256.2 260.3L256.3 259.8L256.5 259.4L256.6 259.1L256.7 259.0L256.9 258.9L257.0 259.0L257.1 259.2L257.3 259.7L257.4 260.3L257.5 261.1L257.7 262.1L257.8 263.3L257.9 264.8L258.1 266.5L258.2 268.5L258.3 270.9L258.5 273.6L258.6 276.8L258.7 280.6L258.9 285.0L259.0 290.2L259.1 296.1L259.2 301.6L259.4 304.2L259.5 302.6L259.7 298.9L259.8 294.7L259.9 290.6L260.1 287.1L260.2 283.9L260.3 281.1L260.5 278.7L260.6 276.6L260.7 274.8L260.9 273.1L261.0 271.7L261.1 270.4L261.3 269.3L261.4 268.4L261.5 267.5L261.7 266.8L261.8 266.3L261.9 265.8L262.1 265.4L262.2 265.2L262.3 265.0L262.5 265.0L262.6 266.9L262.7 273.0L262.9 284.3L263.0 302.8L263.2 333.4L263.3 366.9L263.5 365.6L263.6 362.2L263.7 357.3L263.8 351.7L264.0 346.0L264.1 340.4L264.2 335.2L264.4 330.2L264.5 325.7L264.6 321.4L264.7 317.5L264.9 313.9L265.0 310.5L265.1 307.4L265.3 304.5L265.4 301.8L265.5 299.3L265.6 297.0L265.8 294.9L265.9 292.9L266.0 291.0L266.2 289.3L266.3 287.7L266.4 286.2L266.6 284.9L266.7 283.6L266.8 282.4L266.9 281.4L267.1 280.4L267.2 279.6L267.3 278.8L267.5 278.1L267.6 277.5L267.7 277.0L267.8 276.6L268.0 276.2L268.1 275.9L268.2 275.7L268.4 275.6L268.5 275.6L268.6 275.7L268.7 276.0L268.9 276.4L269.0 277.1L269.1 277.9L269.3 279.0L269.4 280.2L269.5 281.8L269.7 283.6L269.8 285.7L269.9 288.2L270.0 291.0L270.2 294.4L270.3 298.4L270.4 303.0L270.6 308.5L270.7 314.6L270.8 320.5L270.9 323.2L271.1 321.7L271.2 318.1L271.3 314.1L271.5 310.2L271.6 306.8L271.7 303.7L271.9 301.1L272.0 298.8L272.1 296.8L272.3 295.0L272.4 293.4L272.5 292.0L272.6 290.8L272.8 289.8L272.9 288.9L273.0 288.1L273.2 287.4L273.3 286.8L273.4 286.4L273.6 286.0L273.7 285.8L273.8 285.6L274.0 285.6L274.1 285.7L274.2 285.9L274.4 286.3L274.5 286.9L274.6 287.6L274.7 288.5L274.9 289.6L275.0 291.0L275.1 292.6L275.3 294.4L275.4 296.6L275.5 299.2L275.7 302.3L275.8 306.0L275.9 310.3L276.1 315.3L276.2 320.1L276.3 322.4L276.5 320.8L276.6 317.0L276.7 312.8L276.9 308.8L277.0 305.3L277.1 302.3L277.3 299.7L277.4 297.4L277.5 295.4L277.7 293.6L277.8 292.1L277.9 290.7L278.1 289.6L278.2 288.6L278.3 287.7L278.5 286.9L278.6 286.3L278.7 285.8L278.9 285.5L279.0 285.2L279.1 285.0L279.2 285.0L279.2 300.5L279.2 366.9L279.4 366.1L279.5 363.8L279.6 360.5L279.8 356.5L279.9 352.3L280.0 348.1L280.2 344.0L280.3 340.1L280.4 336.4L280.6 333.0L280.7 329.8L280.8 326.7L281.0 323.9L281.1 321.3L281.2 318.8L281.3 316.5L281.5 314.4L281.6 312.3L281.7 310.4L281.9 308.6L282.0 307.0L282.1 305.4L282.3 303.9L282.4 302.6L282.5 301.3L282.7 300.1L282.8 298.9L282.9 297.9L283.0 296.9L283.2 296.0L283.3 295.1L283.4 294.3L283.6 293.6L283.7 292.9L283.8 292.3L284.0 291.8L284.1 291.3L284.2 290.9L284.4 290.5L284.5 290.1L284.6 289.9L284.8 289.6L284.9 289.5L285.0 289.3L285.1 289.3L285.3 289.2L285.4 289.3L285.5 289.6L285.7 290.1L285.8 290.9L285.9 291.8L286.1 293.0L286.2 294.4L286.3 296.2L286.4 298.2L286.6 300.6L286.7 303.5L286.8 306.8L287.0 310.8L287.1 315.5L287.2 321.0L287.3 327.4L287.5 333.7L287.6 336.6L287.7 335.0L287.9 331.3L288.0 327.2L288.1 323.4L288.3 320.1L288.4 317.3L288.5 314.8L288.7 312.7L288.8 310.9L289.0 309.3L289.1 307.9L289.2 306.7L289.4 305.6L289.5 304.7L289.6 304.0L289.8 303.4L289.9 302.9L290.0 302.5L290.2 302.2L290.3 302.0L290.4 302.0L290.6 302.1L290.7 302.3L290.8 302.6L291.0 303.1L291.1 303.7L291.2 304.5L291.4 305.5L291.5 306.7L291.6 308.1L291.8 309.7L291.9 311.6L292.0 313.8L292.2 316.3L292.3 319.3L292.4 322.9L292.6 327.0L292.7 331.7L292.8 336.2L293.0 338.2L293.1 336.9L293.2 333.7L293.4 330.1L293.5 326.7L293.6 323.6L293.8 320.9L293.9 318.5L294.0 316.5L294.2 314.7L294.3 313.1L294.4 311.7L294.6 310.5L294.7 309.4L294.8 308.4L295.0 307.6L295.1 306.9L295.2 306.3L295.4 305.8L295.5 305.4L295.6 305.1L295.8 304.9L295.9 304.8L296.0 304.7L296.2 304.8L296.3 305.1L296.4 305.5L296.6 306.1L296.7 306.9L296.8 307.9L296.9 309.1L297.1 310.5L297.2 312.2L297.3 314.2L297.5 316.5L297.6 319.1L297.7 322.1L297.8 325.7L298.0 329.8L298.1 334.7L298.2 340.3L298.4 346.4L298.5 352.2L298.6 354.8L298.8 353.4L298.9 349.8L299.0 345.3L299.1 340.8L299.3 336.5L299.4 332.7L299.5 329.2L299.7 326.1L299.8 323.4L299.9 320.9L300.1 318.6L300.2 316.6L300.3 314.8L300.5 313.2L300.6 311.7L300.7 310.4L300.8 309.2L301.0 308.2L301.1 307.3L301.2 306.4L301.4 305.7L301.5 305.1L301.6 304.6L301.8 304.2L301.9 303.9L302.0 303.7L302.2 303.5L302.3 303.5L302.4 303.6L302.5 303.9L302.7 304.3L302.8 305.0L302.9 305.9L303.1 307.0L303.2 308.4L303.3 310.0L303.5 311.9L303.6 314.3L303.7 317.0L303.9 320.3L304.0 324.3L304.1 329.0L304.2 334.5L304.4 340.0L304.5 342.8L304.6 341.3L304.8 338.0L304.9 334.3L305.0 330.9L305.2 328.0L305.3 325.4L305.4 323.2L305.5 321.3L305.7 319.7L305.8 318.2L305.9 317.0L306.1 315.9L306.2 314.9L306.3 314.1L306.5 313.5L306.6 312.9L306.7 312.5L306.8 312.1L307.0 311.9L307.1 311.7L307.2 311.7L307.4 311.8L307.5 312.0L307.6 312.3L307.8 312.9L307.9 313.6L308.1 314.4L308.2 315.5L308.3 316.8L308.5 318.3L308.6 320.1L308.7 322.2L308.9 324.8L309.0 327.9L309.1 331.6L309.3 335.9L309.4 340.2L309.6 342.3L309.7 340.9L309.8 337.7L310.0 334.1L310.1 330.9L310.2 328.0L310.4 325.5L310.5 323.4L310.6 321.6L310.8 320.0L310.9 318.6L311.0 317.4L311.2 316.3L311.3 315.4L311.5 314.7L311.6 314.0L311.7 313.5L311.9 313.0L312.0 312.7L312.1 312.5L312.3 312.3L312.4 312.3L312.5 312.4L312.7 312.6L312.8 312.9L312.9 313.3L313.0 313.9L313.2 314.7L313.3 315.6L313.4 316.7L313.6 318.1L313.7 319.6L313.8 321.4L313.9 323.6L314.1 326.1L314.2 329.1L314.3 332.7L314.5 336.8L314.6 340.8L314.7 342.7L314.9 341.3L315.0 338.3L315.1 334.8L315.3 331.7L315.4 328.9L315.5 326.6L315.7 324.5L315.8 322.8L315.9 321.2L316.1 319.9L316.2 318.7L316.3 317.7L316.5 316.8L316.6 316.1L316.8 315.5L316.9 315.0L317.0 314.5L317.2 314.2L317.3 314.0L317.4 313.9L317.6 313.8L317.7 313.9L317.8 314.0L318.0 314.2L318.1 314.5L318.2 314.9L318.4 315.4L318.5 316.0L318.6 316.7L318.8 317.6L318.9 318.5L319.0 319.6L319.1 320.9L319.3 322.3L319.4 324.0L319.5 325.9L319.7 328.0L319.8 330.5L319.9 333.4L320.1 336.6L320.2 340.1L320.3 343.2L320.5 344.5L320.6 343.7L320.7 341.7L320.9 339.2L321.0 336.6L321.1 334.3L321.3 332.2L321.4 330.3L321.5 328.6L321.7 327.1L321.8 325.8L321.9 324.6L322.0 323.5L322.2 322.5L322.3 321.7L322.4 320.9L322.6 320.2L322.7 319.6L322.8 319.0L323.0 318.6L323.1 318.2L323.2 317.8L323.4 317.5L323.5 317.3L323.6 317.1L323.8 317.0L323.9 316.9L324.0 316.8L324.2 316.9L324.3 317.1L324.4 317.4L324.6 317.8L324.7 318.3L324.8 319.0L324.9 319.9L325.1 320.9L325.2 322.0L325.3 323.4L325.5 325.0L325.6 326.9L325.7 329.1L325.9 331.7L326.0 334.7L326.1 338.3L326.3 342.2L326.4 346.0L326.5 347.8L326.7 346.7L326.8 344.3L326.9 341.4L327.1 338.7L327.2 336.3L327.3 334.1L327.5 332.3L327.6 330.7L327.7 329.2L327.9 328.0L328.0 326.9L328.1 325.9L328.3 325.1L328.4 324.3L328.5 323.7L328.7 323.1L328.8 322.7L328.9 322.3L329.1 321.9L329.2 321.7L329.4 321.5L329.5 321.4L329.6 321.4L329.8 321.5L329.9 321.6L330.0 321.9L330.1 322.3L330.3 322.8L330.4 323.4L330.5 324.2L330.7 325.1L330.8 326.1L330.9 327.4L331.1 328.9L331.2 330.6L331.3 332.6L331.5 334.9L331.6 337.7L331.7 340.9L331.9 344.6L332.0 348.0L332.1 349.7L332.3 348.6L332.4 346.3L332.5 343.5L332.7 341.0L332.8 338.6L332.9 336.6L333.1 334.8L333.2 333.3L333.3 331.9L333.5 330.7L333.6 329.7L333.7 328.8L333.9 327.9L334.0 327.2L334.1 326.6L334.3 326.1L334.4 325.6L334.5 325.3L334.7 325.0L334.8 324.7L334.9 324.6L335.1 324.5L335.2 324.4L335.3 324.5L335.5 324.6L335.6 324.9L335.7 325.3L335.9 325.7L336.0 326.3L336.1 327.1L336.2 327.9L336.4 329.0L336.5 330.2L336.6 331.7L336.8 333.4L336.9 335.4L337.0 337.8L337.2 340.6L337.3 343.8L337.4 347.0L337.5 348.5L337.7 347.3L337.8 344.7L337.9 341.8L338.1 339.1L338.2 336.7L338.4 334.7L338.5 333.0L338.6 331.5L338.8 330.2L338.9 329.0L339.0 328.0L339.2 327.2L339.3 326.4L339.4 325.8L339.6 325.2L339.7 324.8L339.8 324.4L340.0 324.2L340.1 324.0L340.2 323.9L340.4 323.8L340.5 323.9L340.6 324.2L340.8 324.6L340.9 325.2L341.0 326.0L341.2 327.0L341.3 328.2L341.4 329.7L341.6 331.5L341.7 333.7L341.8 336.3L342.0 339.5L342.1 343.3L342.2 347.9L342.4 352.6L342.5 355.0L342.6 353.9L342.8 351.2L342.9 348.4L343.0 345.8L343.2 343.6L343.3 341.7L343.4 340.0L343.6 338.6L343.7 337.4L343.8 336.4L343.9 335.5L344.1 334.7L344.2 334.0L344.3 333.5L344.5 333.0L344.6 332.7L344.7 332.4L344.9 332.2L345.0 332.1L345.1 332.0L345.3 332.1L345.4 332.3L345.5 332.7L345.7 333.3L345.8 334.0L345.9 335.0L346.1 336.2L346.2 337.7L346.4 339.5L346.5 341.8L346.6 344.6L346.8 348.1L346.9 351.9L347.1 354.1L347.2 352.4L347.3 348.9L347.4 345.3L347.6 342.2L347.7 339.6L347.8 337.3L348.0 335.5L348.1 333.9L348.2 332.5L348.4 331.4L348.5 330.4L348.6 329.6L348.8 328.9L348.9 328.4L349.0 328.0L349.2 327.7L349.3 327.5L349.4 327.5L349.6 327.5L349.7 327.7L349.8 328.0L350.0 328.5L350.1 329.1L350.2 329.8L350.3 330.7L350.5 331.8L350.6 333.0L350.7 334.5L350.9 336.2L351.0 338.2L351.1 340.6L351.3 343.3L351.4 346.6L351.5 350.4L351.7 354.7L351.8 358.8L351.9 360.6L352.1 359.8L352.2 357.8L352.3 355.5L352.5 353.4L352.6 351.4L352.7 349.8L352.9 348.3L353.0 347.0L353.1 345.9L353.3 344.9L353.4 344.0L353.5 343.2L353.7 342.5L353.8 341.9L353.9 341.4L354.1 341.0L354.2 340.6L354.3 340.3L354.5 340.0L354.6 339.8L354.8 339.7L354.9 339.6L355.0 339.6L355.1 339.6L355.3 339.7L355.4 339.9L355.5 340.1L355.7 340.4L355.8 340.8L355.9 341.3L356.1 341.8L356.2 342.5L356.3 343.2L356.4 344.1L356.6 345.1L356.7 346.2L356.8 347.5L357.0 349.0L357.1 350.8L357.2 352.8L357.3 355.1L357.5 357.6L357.6 359.9L357.7 360.9L357.9 360.3L358.0 358.6L358.1 356.6L358.3 354.7L358.4 353.0L358.5 351.4L358.7 350.0L358.8 348.8L358.9 347.8L359.1 346.8L359.2 346.0L359.3 345.2L359.5 344.5L359.6 343.9L359.7 343.4L359.9 343.0L360.0 342.6L360.1 342.2L360.2 341.9L360.4 341.7L360.5 341.5L360.6 341.3L360.8 341.2L360.9 341.1L361.0 341.1L361.2 341.1L361.3 341.1L361.4 341.2L361.6 341.2L361.7 341.2L361.8 341.3L362.0 341.4L362.1 341.4L362.2 341.5L362.3 341.6L362.5 341.7L362.6 341.8L362.7 342.0L362.9 342.1L363.0 342.3L363.1 342.4L363.3 342.6L363.4 342.8L363.5 343.0L363.7 343.2L363.8 343.4L363.9 343.6L364.0 343.9L364.2 344.1L364.3 344.4L364.4 344.7L364.6 345.0L364.7 345.3L364.8 345.7L365.0 346.0L365.1 346.4L365.2 346.7L365.3 347.1L365.5 347.6L365.6 348.0L365.7 348.5L365.9 348.9L366.0 349.4L366.1 349.9L366.3 350.5L366.4 351.1L366.5 351.7L366.7 352.3L366.8 352.9L366.9 353.6L367.0 354.3L367.2 355.1L367.3 355.9L367.4 356.7L367.6 357.5L367.7 358.4L367.8 359.4L368.0 360.4L368.1 361.4L368.2 362.5L368.4 363.6L368.5 364.8L368.6 366.0L368.7 367.2L368.9 368.4L369.0 369.6L369.1 369.9L369.3 369.9L369.4 369.9L369.5 369.9L369.7 369.9" stroke="#008000"/>
<path d="M64.0 369.9L64.1 369.0L64.3 358.5L64.4 344.8L64.5 330.5L64.6 317.4L64.8 306.4L64.9 297.7L65.0 291.5L65.2 287.8L65.3 286.5L65.4 286.5L65.6 286.6L65.7 286.6L65.8 286.7L65.9 286.8L66.1 286.9L66.2 287.1L66.3 287.3L66.5 287.5L66.6 287.7L66.7 287.9L66.9 288.2L67.0 288.5L67.1 288.8L67.2 289.2L67.4 289.6L67.5 289.9L67.6 290.4L67.8 290.8L67.9 291.3L68.0 291.7L68.2 292.2L68.3 292.7L68.4 293.3L68.6 293.8L68.7 294.4L68.8 294.9L68.9 295.5L69.1 296.1L69.2 296.6L69.3 297.2L69.5 297.7L69.6 298.2L69.7 298.7L69.9 299.1L70.0 299.5L70.1 299.8L70.2 300.1L70.4 300.3L70.5 300.4L70.6 300.4L70.8 300.3L70.9 299.9L71.0 299.3L71.2 298.6L71.3 297.6L71.4 296.6L71.6 295.5L71.7 294.3L71.8 293.1L72.0 292.0L72.1 290.8L72.2 289.7L72.4 288.7L72.5 287.7L72.6 286.8L72.8 285.9L72.9 285.1L73.0 284.4L73.1 283.8L73.3 283.2L73.4 282.7L73.5 282.3L73.7 282.0L73.8 281.7L73.9 281.5L74.1 281.4L74.2 281.4L74.3 281.4L74.5 281.4L74.6 281.5L74.7 281.5L74.9 281.7L75.0 281.8L75.1 282.0L75.3 282.1L75.4 282.3L75.5 282.6L75.7 282.8L75.8 283.1L75.9 283.4L76.0 283.7L76.2 284.1L76.3 284.5L76.4 284.9L76.6 285.3L76.7 285.7L76.8 286.2L77.0 286.7L77.1 287.2L77.2 287.7L77.4 288.3L77.5 288.8L77.6 289.4L77.8 290.0L77.9 290.6L78.0 291.1L78.2 291.7L78.3 292.3L78.4 292.8L78.5 293.3L78.7 293.8L78.8 294.3L78.9 294.7L79.1 295.0L79.2 295.3L79.3 295.5L79.5 295.6L79.6 295.6L79.7 295.5L79.9 295.2L80.0 294.8L80.1 294.2L80.3 293.4L80.4 292.6L80.5 291.8L80.7 290.9L80.8 289.9L80.9 289.0L81.1 288.1L81.2 287.3L81.3 286.5L81.5 285.7L81.6 285.0L81.7 284.3L81.9 283.7L82.0 283.1L82.1 282.6L82.3 282.2L82.4 281.8L82.5 281.5L82.7 281.2L82.8 281.0L82.9 280.9L83.1 280.8L83.2 280.7L83.3 280.8L83.5 280.8L83.6 281.0L83.7 281.1L83.9 281.4L84.0 281.6L84.1 282.0L84.3 282.3L84.4 282.7L84.5 283.2L84.7 283.7L84.8 284.3L84.9 284.9L85.0 285.6L85.2 286.3L85.3 287.0L85.4 287.8L85.6 288.7L85.7 289.5L85.8 290.5L86.0 291.4L86.1 292.4L86.2 293.4L86.4 294.4L86.5 295.4L86.6 296.3L86.8 297.3L86.9 298.2L87.0 299.0L87.2 299.8L87.3 300.5L87.4 301.0L87.6 301.4L87.7 301.6L87.8 301.7L88.0 301.6L88.1 301.2L88.2 300.6L88.4 299.8L88.5 298.9L88.6 297.9L88.8 296.8L88.9 295.8L89.0 294.7L89.2 293.7L89.3 292.8L89.4 291.9L89.6 291.1L89.7 290.3L89.8 289.7L90.0 289.1L90.1 288.5L90.2 288.1L90.4 287.8L90.5 287.5L90.6 287.3L90.8 287.2L90.9 287.1L91.0 287.1L91.2 287.2L91.3 287.2L91.4 287.3L91.6 287.5L91.7 287.6L91.8 287.8L91.9 288.0L92.1 288.3L92.2 288.5L92.3 288.8L92.5 289.1L92.6 289.5L92.7 289.9L92.8 290.3L93.0 290.7L93.1 291.2L93.2 291.7L93.4 292.2L93.5 292.7L93.6 293.3L93.7 293.9L93.9 294.5L94.0 295.1L94.1 295.7L94.3 296.3L94.4 297.0L94.5 297.6L94.7 298.2L94.8 298.8L94.9 299.4L95.0 300.0L95.2 300.5L95.3 300.9L95.4 301.3L95.6 301.6L95.7 301.8L95.8 302.0L95.9 302.0L96.1 301.9L96.2 301.5L96.3 300.9L96.5 300.0L96.6 299.1L96.7 298.0L96.9 296.9L97.0 295.7L97.2 294.5L97.3 293.4L97.4 292.3L97.6 291.2L97.7 290.2L97.8 289.3L98.0 288.4L98.1 287.7L98.2 287.0L98.4 286.4L98.5 285.8L98.6 285.4L98.8 285.0L98.9 284.8L99.0 284.5L99.2 284.4L99.3 284.4L99.4 284.4L99.6 284.5L99.7 284.7L99.8 285.0L100.0 285.3L100.1 285.7L100.2 286.2L100.4 286.8L100.5 287.4L100.6 288.2L100.8 289.0L100.9 289.8L101.0 290.8L101.2 291.8L101.3 292.9L101.4 294.0L101.6 295.3L101.7 296.6L101.8 297.9L102.0 299.3L102.1 300.8L102.2 302.3L102.4 303.8L102.5 305.3L102.6 306.9L102.8 308.4L102.9 309.8L103.0 311.2L103.2 312.5L103.3 313.7L103.4 314.7L103.6 315.5L103.7 316.1L103.8 316.5L104.0 316.6L104.1 316.5L104.2 316.0L104.3 315.3L104.5 314.4L104.6 313.3L104.7 312.1L104.9 310.8L105.0 309.5L105.1 308.2L105.2 307.0L105.4 305.8L105.5 304.7L105.6 303.6L105.8 302.7L105.9 301.8L106.0 301.0L106.1 300.3L106.3 299.7L106.4 299.2L106.5 298.8L106.7 298.5L106.8 298.2L106.9 298.1L107.0 298.0L107.2 298.1L107.3 298.3L107.5 298.7L107.6 299.3L107.7 300.0L107.9 300.8L108.0 301.9L108.1 303.1L108.3 304.4L108.4 305.9L108.5 307.6L108.7 309.5L108.8 311.5L108.9 313.7L109.1 316.0L109.2 318.5L109.3 321.1L109.5 323.8L109.6 326.6L109.7 329.4L109.9 332.2L110.0 334.8L110.1 337.2L110.3 339.3L110.4 340.9L110.5 341.9L110.7 342.2L110.8 341.1L110.9 338.3L111.1 334.5L111.2 330.4L111.3 326.5L111.5 322.9L111.6 319.7L111.7 316.9L111.9 314.4L112.0 312.2L112.1 310.4L112.3 308.8L112.4 307.6L112.5 306.5L112.7 305.7L112.8 305.2L112.9 304.8L113.1 304.7L113.2 304.8L113.3 304.9L113.5 305.1L113.6 305.4L113.7 305.7L113.9 306.2L114.0 306.7L114.1 307.4L114.3 308.1L114.4 309.0L114.5 309.9L114.7 311.0L114.8 312.2L114.9 313.6L115.1 315.1L115.2 316.8L115.3 318.8L115.5 320.9L115.6 323.3L115.7 326.1L115.9 329.1L116.0 332.6L116.1 336.3L116.3 340.1L116.4 343.2L116.5 344.5L116.7 343.0L116.8 339.7L116.9 335.9L117.0 332.2L117.2 328.9L117.3 326.1L117.4 323.6L117.6 321.4L117.7 319.5L117.8 317.8L118.0 316.3L118.1 315.0L118.2 313.9L118.4 312.9L118.5 312.0L118.6 311.3L118.7 310.7L118.9 310.1L119.0 309.7L119.1 309.4L119.3 309.1L119.4 309.0L119.5 309.0L119.7 309.0L119.8 309.2L119.9 309.5L120.1 310.0L120.2 310.6L120.3 311.3L120.5 312.2L120.6 313.2L120.7 314.4L120.8 315.8L121.0 317.3L121.1 319.1L121.2 321.2L121.4 323.5L121.5 326.1L121.6 329.1L121.8 332.5L121.9 336.5L122.0 340.9L122.2 346.0L122.3 351.3L122.4 355.8L122.5 357.8L122.7 356.5L122.8 353.1L122.9 348.8L123.1 344.4L123.2 340.2L123.3 336.4L123.5 332.9L123.6 329.8L123.8 327.0L123.9 324.5L124.0 322.3L124.2 320.3L124.3 318.4L124.4 316.8L124.6 315.3L124.7 313.9L124.8 312.7L125.0 311.6L125.1 310.6L125.2 309.7L125.4 309.0L125.5 308.3L125.6 307.8L125.8 307.3L125.9 306.9L126.0 306.6L126.2 306.4L126.3 306.3L126.4 306.2L126.6 306.2L126.7 306.3L126.8 306.4L126.9 306.5L127.1 306.6L127.2 306.8L127.3 307.0L127.5 307.2L127.6 307.4L127.7 307.7L127.8 308.1L128.0 308.4L128.1 308.9L128.2 309.3L128.4 309.8L128.5 310.3L128.6 310.9L128.7 311.6L128.9 312.3L129.0 313.0L129.1 313.9L129.3 314.8L129.4 315.8L129.5 316.8L129.7 318.0L129.8 319.3L129.9 320.8L130.0 322.3L130.2 324.0L130.3 325.8L130.4 327.6L130.6 329.3L130.7 330.6L130.8 331.0L130.9 329.8L131.1 327.1L131.2 324.0L131.3 321.2L131.5 318.6L131.6 316.4L131.7 314.5L131.9 312.8L132.0 311.3L132.1 310.1L132.3 309.0L132.4 308.0L132.5 307.1L132.7 306.4L132.8 305.8L132.9 305.2L133.1 304.8L133.2 304.4L133.3 304.2L133.5 304.0L133.6 303.8L133.7 303.8L133.9 303.8L134.0 303.9L134.1 303.9L134.3 304.0L134.4 304.2L134.5 304.3L134.7 304.5L134.8 304.8L134.9 305.0L135.1 305.3L135.2 305.7L135.3 306.0L135.5 306.4L135.6 306.9L135.7 307.4L135.9 307.9L136.0 308.5L136.1 309.2L136.3 309.9L136.4 310.6L136.5 311.4L136.7 312.3L136.8 313.3L136.9 314.4L137.1 315.5L137.2 316.8L137.3 318.2L137.5 319.7L137.6 321.4L137.7 323.1L137.9 325.0L138.0 326.9L138.1 328.6L138.3 329.9L138.4 330.4L138.5 328.7L138.6 324.8L138.8 320.1L138.9 315.7L139.0 311.6L139.2 308.1L139.3 304.9L139.4 302.2L139.6 299.8L139.7 297.6L139.8 295.7L139.9 294.1L140.1 292.6L140.2 291.3L140.3 290.1L140.5 289.1L140.6 288.3L140.7 287.6L140.8 286.9L141.0 286.5L141.1 286.1L141.2 285.8L141.4 285.7L141.5 285.6L141.6 285.6L141.8 285.7L141.9 285.9L142.0 286.1L142.2 286.4L142.3 286.7L142.4 287.1L142.6 287.6L142.7 288.2L142.8 288.8L143.0 289.6L143.1 290.4L143.2 291.3L143.4 292.4L143.5 293.6L143.6 294.9L143.8 296.4L143.9 298.1L144.0 300.0L144.2 302.2L144.3 304.7L144.4 307.4L144.6 310.1L144.7 312.4L144.8 313.4L145.0 310.9L145.1 305.8L145.2 300.8L145.4 296.4L145.5 292.8L145.6 289.8L145.8 287.3L145.9 285.1L146.0 283.4L146.2 281.9L146.3 280.6L146.4 279.6L146.6 278.8L146.7 278.2L146.8 277.8L147.0 277.5L147.1 277.4L147.2 277.4L147.4 277.5L147.5 277.7L147.6 277.8L147.8 278.1L147.9 278.4L148.0 278.8L148.2 279.2L148.3 279.7L148.4 280.2L148.6 280.9L148.7 281.6L148.8 282.4L149.0 283.3L149.1 284.3L149.2 285.4L149.4 286.6L149.5 288.0L149.6 289.6L149.8 291.3L149.9 293.2L150.0 295.4L150.2 297.9L150.3 300.5L150.4 303.1L150.6 305.2L150.7 306.0L150.8 303.6L151.0 298.4L151.1 293.1L151.2 288.5L151.4 284.6L151.5 281.3L151.6 278.6L151.8 276.2L151.9 274.2L152.0 272.5L152.2 271.1L152.3 269.9L152.4 268.9L152.6 268.1L152.7 267.5L152.8 267.1L153.0 266.9L153.1 266.8L153.2 266.8L153.4 266.9L153.5 267.1L153.6 267.3L153.8 267.5L153.9 267.9L154.0 268.3L154.1 268.8L154.3 269.3L154.4 269.9L154.5 270.7L154.7 271.5L154.8 272.4L154.9 273.4L155.1 274.5L155.2 275.8L155.3 277.2L155.4 278.8L155.6 280.6L155.7 282.6L155.8 284.9L156.0 287.4L156.1 290.2L156.2 293.0L156.3 295.3L156.5 296.2L156.6 293.0L156.7 286.5L156.9 280.0L157.0 274.5L157.1 269.9L157.3 266.0L157.4 262.7L157.5 260.0L157.7 257.7L157.8 255.8L157.9 254.2L158.1 252.9L158.2 251.9L158.3 251.1L158.4 250.5L158.6 250.2L158.7 250.1L158.8 250.2L159.0 250.3L159.1 250.6L159.3 251.0L159.4 251.6L159.5 252.2L159.7 253.0L159.8 254.0L159.9 255.2L160.1 256.5L160.2 258.1L160.3 259.9L160.5 262.0L160.6 264.5L160.7 267.5L160.9 270.9L161.0 274.8L161.2 278.5L161.3 280.2L161.4 275.1L161.6 266.2L161.7 258.6L161.8 252.5L162.0 247.7L162.1 243.9L162.2 240.8L162.4 238.4L162.5 236.6L162.6 235.2L162.8 234.2L162.9 233.6L163.0 233.4L163.1 233.5L163.3 233.8L163.4 234.4L163.5 235.1L163.7 236.1L163.8 237.4L163.9 238.8L164.1 240.6L164.2 242.6L164.3 244.9L164.5 247.6L164.6 250.6L164.7 254.0L164.8 258.0L165.0 262.4L165.1 267.5L165.2 273.3L165.4 279.9L165.5 287.5L165.6 295.9L165.8 304.9L165.9 312.6L166.0 315.9L166.2 312.1L166.3 303.1L166.4 292.6L166.6 282.8L166.7 273.9L166.8 266.2L166.9 259.4L167.1 253.5L167.2 248.4L167.3 243.8L167.5 239.8L167.6 236.3L167.7 233.2L167.9 230.5L168.0 228.1L168.1 226.1L168.3 224.4L168.4 222.9L168.5 221.8L168.6 220.9L168.8 220.3L168.9 219.9L169.0 219.8L169.2 219.8L169.3 219.9L169.4 220.1L169.6 220.3L169.7 220.7L169.8 221.0L169.9 221.5L170.1 222.1L170.2 222.7L170.3 223.5L170.5 224.3L170.6 225.3L170.7 226.4L170.9 227.6L171.0 229.0L171.1 230.6L171.2 232.4L171.4 234.5L171.5 236.8L171.6 239.4L171.8 242.3L171.9 245.4L172.0 248.0L172.1 249.0L172.3 245.6L172.4 238.8L172.5 232.3L172.7 226.8L172.8 222.2L172.9 218.5L173.0 215.4L173.2 212.8L173.3 210.6L173.4 208.8L173.6 207.4L173.7 206.3L173.8 205.4L173.9 204.8L174.1 204.4L174.2 204.3L174.3 204.4L174.5 204.6L174.6 204.9L174.7 205.4L174.9 206.0L175.0 206.7L175.1 207.6L175.3 208.7L175.4 209.9L175.5 211.3L175.7 212.9L175.8 214.7L175.9 216.7L176.1 219.0L176.2 221.5L176.3 224.3L176.5 227.5L176.6 231.0L176.7 235.0L176.9 239.5L177.0 244.6L177.1 250.2L177.3 256.4L177.4 262.6L177.5 267.7L177.7 269.8L177.8 266.8L177.9 259.8L178.0 251.7L178.2 244.1L178.3 237.2L178.4 231.2L178.6 226.0L178.7 221.4L178.8 217.4L179.0 213.8L179.1 210.7L179.2 208.0L179.4 205.6L179.5 203.5L179.6 201.7L179.7 200.1L179.9 198.8L180.0 197.6L180.1 196.8L180.3 196.1L180.4 195.6L180.5 195.3L180.7 195.2L180.8 195.2L180.9 195.3L181.1 195.5L181.2 195.7L181.3 196.0L181.4 196.3L181.6 196.7L181.7 197.2L181.8 197.8L182.0 198.4L182.1 199.2L182.2 200.0L182.3 201.0L182.5 202.0L182.6 203.2L182.7 204.5L182.9 206.1L183.0 207.8L183.1 209.7L183.2 211.9L183.4 214.3L183.5 217.0L183.6 219.8L183.8 222.1L183.9 223.1L184.0 218.9L184.2 210.6L184.3 202.6L184.4 195.9L184.6 190.4L184.7 185.8L184.8 182.0L185.0 178.8L185.1 176.2L185.2 174.0L185.4 172.3L185.5 170.9L185.6 169.8L185.8 169.1L185.9 168.6L186.0 168.5L186.2 168.5L186.3 168.7L186.5 168.9L186.6 169.2L186.7 169.6L186.9 170.1L187.0 170.7L187.1 171.4L187.3 172.2L187.4 173.1L187.5 174.2L187.7 175.5L187.8 177.0L187.9 178.6L188.1 180.6L188.2 182.8L188.3 185.4L188.5 188.4L188.6 191.6L188.8 194.5L188.9 195.8L189.0 190.6L189.2 181.2L189.3 172.7L189.4 165.8L189.6 160.3L189.7 155.9L189.8 152.3L190.0 149.4L190.1 147.0L190.2 145.2L190.4 143.8L190.5 142.9L190.6 142.3L190.8 142.1L190.9 142.2L191.0 142.6L191.2 143.2L191.3 144.1L191.4 145.3L191.6 146.7L191.7 148.6L191.8 150.8L191.9 153.5L192.1 156.8L192.2 160.9L192.3 165.9L192.5 171.9L192.6 178.4L192.7 181.8L192.8 179.3L192.9 176.7L193.0 174.2L193.1 171.7L193.2 169.2L193.2 166.7L193.3 164.2L193.4 161.8L193.5 159.4L193.6 157.0L193.7 154.6L193.8 152.2L193.8 149.9L193.9 147.6L194.0 145.3L194.1 142.9L194.2 140.6L194.3 138.2L194.4 135.8L194.5 133.4L194.5 131.1L194.6 128.7L194.7 126.4L194.8 124.1L194.9 121.9L195.0 119.8L195.1 117.8L195.1 115.8L195.2 114.0L195.3 112.3L195.4 110.7L195.5 109.3L195.6 107.9L195.7 106.5L195.8 105.1L195.8 103.8L195.9 102.5L196.0 101.2L196.1 100.0L196.2 98.7L196.3 97.5L196.4 96.3L196.4 95.2L196.5 94.0L196.6 92.9L196.7 91.8L196.8 90.8L196.9 89.7L197.0 88.7L197.1 87.7L197.1 86.7L197.2 85.7L197.3 84.8L197.4 83.8L197.5 82.9L197.6 82.0L197.7 81.2L197.7 80.3L197.8 79.4L197.9 78.6L198.0 77.8L198.1 77.0L198.2 76.2L198.3 75.4L198.4 74.7L198.4 73.9L198.5 73.2L198.6 72.5L198.7 71.8L198.8 71.1L198.9 70.4L199.0 69.7L199.1 69.0L199.1 68.3L199.2 67.6L199.3 67.0L199.4 66.3L199.5 65.7L199.6 65.0L199.7 64.4L199.8 63.8L199.9 63.2L199.9 62.6L200.0 62.0L200.1 61.4L200.2 60.8L200.3 60.2L200.4 59.7L200.5 59.1L200.6 58.6L200.7 58.1L200.7 57.6L200.8 57.1L200.9 56.6L201.0 56.1L201.1 55.7L201.2 55.2L201.3 54.8L201.4 54.4L201.5 54.0L201.5 53.6L201.6 53.3L201.7 52.9L201.8 52.6L201.9 52.3L202.0 51.9L202.1 51.6L202.2 51.3L202.3 51.0L202.4 50.7L202.4 50.4L202.5 50.1L202.6 49.7L202.7 49.4L202.8 49.1L202.9 48.8L203.0 48.5L203.1 48.3L203.2 48.0L203.2 47.7L203.3 47.4L203.4 47.1L203.5 46.9L203.6 46.6L203.7 46.4L203.8 46.1L203.9 45.9L204.0 45.7L204.0 45.5L204.1 45.3L204.2 45.1L204.3 44.9L204.4 44.7L204.5 44.6L204.6 44.4L204.7 44.3L204.7 44.2L204.8 44.1L204.9 44.0L205.0 43.9L205.1 43.8L205.2 43.8L205.3 43.8L205.4 43.7L205.5 43.7L205.6 43.8L205.7 43.8L205.8 43.9L205.9 44.0L206.0 44.1L206.0 44.2L206.1 44.3L206.2 44.4L206.3 44.6L206.4 44.7L206.5 44.9L206.6 45.1L206.6 45.3L206.7 45.5L206.8 45.7L206.9 45.9L207.0 46.1L207.1 46.4L207.1 46.6L207.2 46.9L207.3 47.2L207.4 47.4L207.5 47.7L207.6 48.0L207.7 48.3L207.7 48.6L207.8 48.9L207.9 49.2L208.0 49.5L208.1 49.8L208.2 50.2L208.2 50.5L208.3 50.8L208.4 51.1L208.5 51.5L208.6 51.8L208.7 52.1L208.7 52.4L208.8 52.8L208.9 53.2L209.0 53.5L209.1 53.9L209.2 54.4L209.2 54.8L209.3 55.3L209.4 55.8L209.5 56.3L209.6 56.8L209.7 57.4L209.7 57.9L209.8 58.5L209.9 59.1L210.0 59.7L210.1 60.3L210.2 60.9L210.3 61.5L210.3 62.2L210.4 62.8L210.5 63.5L210.6 64.2L210.7 64.8L210.8 65.5L210.8 66.2L210.9 66.9L211.0 67.6L211.1 68.3L211.2 69.0L211.3 69.7L211.4 70.4L211.4 71.1L211.5 71.8L211.6 72.5L211.7 73.1L211.8 73.7L211.9 74.3L212.0 74.8L212.0 75.3L212.1 75.9L212.2 76.4L212.3 76.9L212.4 77.4L212.5 77.9L212.6 78.3L212.6 78.8L212.7 79.3L212.8 79.9L212.9 80.4L213.0 80.9L213.1 81.5L213.2 82.1L213.2 82.7L213.3 83.4L213.4 84.1L213.5 84.8L213.6 85.6L213.7 86.4L213.8 87.2L213.8 88.1L213.9 89.1L214.0 90.1L214.1 91.2L214.2 92.3L214.3 93.6L214.4 94.8L214.5 96.2L214.5 97.6L214.6 99.2L214.7 100.7L214.8 102.4L214.9 104.2L215.0 106.1L215.1 108.0L215.1 110.1L215.2 114.7L215.3 123.5L215.4 134.6L215.5 146.0L215.6 155.9L215.7 165.7L215.7 175.6L215.8 185.7L215.9 195.9L216.0 206.2L216.1 216.7L216.2 227.4L216.3 214.8L216.5 195.7L216.6 180.4L216.7 168.9L216.9 160.1L217.0 153.4L217.1 148.3L217.3 144.5L217.4 142.0L217.6 140.5L217.7 140.0L217.8 140.0L217.9 140.2L218.1 140.5L218.2 140.8L218.3 141.3L218.5 141.9L218.6 142.6L218.7 143.4L218.9 144.4L219.0 145.4L219.1 146.6L219.2 148.0L219.4 149.5L219.5 151.2L219.6 153.1L219.8 155.1L219.9 157.4L220.0 159.9L220.1 162.7L220.3 165.8L220.4 169.3L220.5 173.1L220.7 177.4L220.8 182.2L220.9 187.3L221.0 192.8L221.2 198.2L221.3 202.4L221.4 204.0L221.6 202.1L221.7 197.9L221.8 193.5L222.0 189.5L222.1 186.2L222.2 183.3L222.4 180.9L222.5 178.8L222.6 177.0L222.7 175.5L222.9 174.2L223.0 173.1L223.1 172.1L223.3 171.4L223.4 170.8L223.5 170.3L223.7 170.0L223.8 169.8L223.9 169.7L224.1 169.8L224.2 170.0L224.3 170.2L224.5 170.7L224.6 171.2L224.7 171.9L224.9 172.7L225.0 173.6L225.1 174.7L225.3 175.9L225.4 177.4L225.5 178.9L225.7 180.7L225.8 182.7L225.9 185.0L226.1 187.5L226.2 190.3L226.3 193.4L226.5 197.0L226.6 201.0L226.7 205.5L226.9 210.5L227.0 216.0L227.1 221.5L227.3 226.1L227.4 227.9L227.5 225.7L227.7 221.1L227.8 216.4L227.9 212.2L228.1 208.7L228.2 205.8L228.3 203.3L228.5 201.2L228.6 199.4L228.7 197.9L228.8 196.6L229.0 195.6L229.1 194.7L229.2 194.0L229.4 193.4L229.5 193.1L229.6 192.8L229.7 192.8L229.9 192.8L230.0 193.0L230.1 193.2L230.3 193.6L230.4 194.1L230.5 194.6L230.7 195.3L230.8 196.1L230.9 197.1L231.1 198.2L231.2 199.4L231.4 200.7L231.5 202.3L231.6 204.0L231.8 205.9L231.9 208.1L232.0 210.5L232.2 213.2L232.3 216.3L232.4 219.8L232.6 223.7L232.7 228.0L232.8 232.7L233.0 237.5L233.1 241.4L233.2 243.0L233.4 240.5L233.5 235.4L233.6 230.4L233.8 226.1L233.9 222.4L234.1 219.4L234.2 216.9L234.3 214.8L234.5 213.0L234.6 211.5L234.7 210.2L234.9 209.2L235.0 208.4L235.1 207.8L235.3 207.4L235.4 207.1L235.6 207.0L235.7 207.1L235.8 207.3L235.9 207.5L236.1 207.9L236.2 208.4L236.3 209.1L236.5 209.8L236.6 210.7L236.7 211.8L236.8 212.9L237.0 214.3L237.1 215.8L237.2 217.5L237.4 219.4L237.5 221.6L237.6 224.0L237.7 226.8L237.9 229.9L238.0 233.4L238.1 237.4L238.3 241.9L238.4 246.8L238.5 251.8L238.7 256.0L238.8 257.8L238.9 254.9L239.1 249.3L239.2 244.0L239.3 239.4L239.5 235.7L239.6 232.6L239.7 230.1L239.9 227.9L240.0 226.2L240.1 224.7L240.3 223.5L240.4 222.6L240.5 221.9L240.7 221.4L240.8 221.1L240.9 221.0L241.1 221.0L241.2 221.2L241.3 221.5L241.5 221.9L241.6 222.4L241.7 223.0L241.8 223.7L242.0 224.6L242.1 225.6L242.2 226.8L242.4 228.1L242.5 229.6L242.6 231.3L242.8 233.2L242.9 235.3L243.0 237.7L243.1 240.4L243.3 243.5L243.4 247.0L243.5 250.9L243.7 255.3L243.8 260.1L243.9 265.1L244.1 269.2L244.2 271.0L244.3 268.1L244.5 262.4L244.6 256.9L244.7 252.3L244.9 248.5L245.0 245.3L245.1 242.7L245.3 240.5L245.4 238.7L245.5 237.2L245.7 236.0L245.8 235.1L246.0 234.3L246.1 233.8L246.2 233.5L246.4 233.4L246.5 233.5L246.6 233.6L246.8 233.9L246.9 234.3L247.0 234.8L247.1 235.5L247.3 236.3L247.4 237.2L247.5 238.2L247.7 239.4L247.8 240.8L247.9 242.4L248.1 244.2L248.2 246.2L248.3 248.4L248.4 251.0L248.6 253.9L248.7 257.2L248.8 261.0L249.0 265.2L249.1 270.0L249.2 274.9L249.4 279.0L249.5 280.8L249.6 277.8L249.7 272.0L249.9 266.4L250.0 261.7L250.1 257.9L250.3 254.6L250.4 252.0L250.5 249.8L250.7 247.9L250.8 246.4L250.9 245.2L251.0 244.2L251.2 243.5L251.3 242.9L251.4 242.6L251.6 242.5L251.7 242.6L251.8 242.8L252.0 243.1L252.1 243.5L252.2 244.1L252.4 244.8L252.5 245.7L252.6 246.7L252.8 247.8L252.9 249.2L253.0 250.7L253.2 252.4L253.3 254.4L253.4 256.6L253.6 259.1L253.7 261.9L253.8 265.2L254.0 268.8L254.1 273.0L254.2 277.7L254.3 282.9L254.5 288.3L254.6 293.0L254.7 294.9L254.9 291.9L255.0 286.0L255.1 280.3L255.3 275.5L255.4 271.5L255.5 268.2L255.7 265.5L255.8 263.3L255.9 261.4L256.1 259.8L256.2 258.6L256.3 257.6L256.5 256.8L256.6 256.3L256.7 256.0L256.9 255.9L257.0 255.9L257.1 256.0L257.3 256.2L257.4 256.5L257.5 256.9L257.6 257.4L257.8 258.0L257.9 258.6L258.0 259.4L258.2 260.3L258.3 261.2L258.4 262.4L258.5 263.6L258.7 265.0L258.8 266.6L258.9 268.4L259.1 270.3L259.2 272.6L259.3 275.1L259.4 277.9L259.6 281.0L259.7 284.6L259.8 288.4L260.0 292.3L260.1 295.5L260.2 296.8L260.4 294.1L260.5 288.5L260.6 283.0L260.7 278.2L260.9 274.3L261.0 271.0L261.1 268.2L261.3 265.9L261.4 263.9L261.5 262.3L261.7 260.9L261.8 259.8L261.9 258.9L262.1 258.2L262.2 257.8L262.3 257.5L262.5 257.4L262.6 257.4L262.7 257.6L262.9 257.8L263.0 258.1L263.1 258.6L263.3 259.1L263.4 259.7L263.5 260.5L263.7 261.4L263.8 262.3L263.9 263.4L264.1 264.7L264.2 266.1L264.3 267.7L264.5 269.4L264.6 271.4L264.7 273.5L264.9 275.9L265.0 278.7L265.1 281.7L265.3 285.1L265.4 288.9L265.5 293.2L265.7 297.7L265.8 302.3L265.9 306.0L266.1 307.4L266.2 305.0L266.3 299.8L266.5 294.5L266.6 289.8L266.7 285.9L266.9 282.6L267.0 279.8L267.1 277.5L267.3 275.5L267.4 273.8L267.5 272.3L267.7 271.1L267.8 270.1L268.0 269.4L268.1 268.8L268.2 268.3L268.4 268.1L268.5 268.0L268.6 268.1L268.7 268.2L268.9 268.5L269.0 268.9L269.1 269.4L269.3 270.0L269.4 270.7L269.5 271.6L269.7 272.6L269.8 273.8L269.9 275.1L270.1 276.6L270.2 278.2L270.3 280.1L270.5 282.2L270.6 284.6L270.7 287.3L270.8 290.3L271.0 293.7L271.1 297.6L271.2 302.0L271.4 306.8L271.5 311.7L271.6 315.8L271.8 317.5L271.9 314.4L272.0 308.4L272.2 302.7L272.3 297.8L272.5 293.8L272.6 290.5L272.7 287.8L272.9 285.5L273.0 283.6L273.1 282.0L273.3 280.7L273.4 279.7L273.5 279.0L273.7 278.4L273.8 278.1L274.0 278.0L274.1 278.1L274.2 278.2L274.4 278.4L274.5 278.8L274.6 279.2L274.7 279.7L274.9 280.4L275.0 281.1L275.1 282.0L275.3 283.0L275.4 284.2L275.5 285.5L275.7 287.0L275.8 288.6L275.9 290.5L276.1 292.6L276.2 295.1L276.3 297.8L276.5 300.9L276.6 304.5L276.7 308.4L276.9 312.5L277.0 316.0L277.1 317.5L277.3 314.4L277.4 308.3L277.5 302.4L277.7 297.5L277.8 293.4L277.9 290.1L278.1 287.3L278.2 285.0L278.3 283.1L278.5 281.5L278.6 280.2L278.7 279.2L278.9 278.4L279.0 277.8L279.1 277.5L279.2 277.4L279.4 277.5L279.5 277.6L279.7 277.8L279.8 278.1L279.9 278.4L280.1 278.9L280.2 279.5L280.3 280.1L280.5 280.9L280.6 281.7L280.7 282.7L280.9 283.8L281.0 285.0L281.1 286.4L281.3 287.9L281.4 289.6L281.5 291.5L281.7 293.6L281.8 296.0L281.9 298.6L282.1 301.6L282.2 304.9L282.3 308.6L282.5 312.6L282.6 316.6L282.7 319.8L282.9 321.1L283.0 318.6L283.1 313.4L283.3 308.1L283.4 303.5L283.5 299.6L283.7 296.3L283.8 293.5L283.9 291.1L284.1 289.1L284.2 287.4L284.3 286.0L284.5 284.8L284.6 283.8L284.7 283.0L284.9 282.4L285.0 282.0L285.1 281.7L285.3 281.7L285.4 281.7L285.5 281.9L285.7 282.2L285.8 282.7L285.9 283.2L286.1 283.9L286.2 284.8L286.3 285.8L286.4 287.0L286.6 288.3L286.7 289.8L286.8 291.6L287.0 293.5L287.1 295.7L287.2 298.2L287.3 301.0L287.5 304.3L287.6 307.9L287.7 312.1L287.9 316.8L288.0 322.0L288.1 327.4L288.2 332.0L288.4 334.0L288.5 330.9L288.6 324.9L288.8 319.1L288.9 314.3L289.0 310.2L289.2 306.9L289.3 304.2L289.4 301.9L289.5 300.0L289.7 298.4L289.8 297.1L289.9 296.1L290.1 295.4L290.2 294.8L290.3 294.5L290.4 294.4L290.6 294.4L290.7 294.6L290.8 294.8L291.0 295.1L291.1 295.5L291.2 296.0L291.3 296.6L291.5 297.3L291.6 298.1L291.7 299.1L291.9 300.1L292.0 301.3L292.1 302.6L292.3 304.1L292.4 305.8L292.5 307.7L292.6 309.8L292.8 312.2L292.9 314.8L293.0 317.8L293.2 321.2L293.3 324.9L293.4 329.0L293.5 333.2L293.7 336.6L293.8 338.0L293.9 335.1L294.1 329.4L294.2 323.6L294.3 318.7L294.5 314.6L294.6 311.2L294.7 308.3L294.9 305.9L295.0 303.9L295.1 302.2L295.2 300.8L295.4 299.6L295.5 298.7L295.6 298.0L295.8 297.5L295.9 297.2L296.0 297.1L296.2 297.2L296.3 297.3L296.4 297.4L296.6 297.7L296.7 298.0L296.8 298.4L296.9 298.8L297.1 299.4L297.2 300.0L297.3 300.7L297.5 301.5L297.6 302.4L297.7 303.4L297.8 304.5L298.0 305.8L298.1 307.1L298.2 308.6L298.4 310.3L298.5 312.1L298.6 314.2L298.8 316.5L298.9 319.0L299.0 321.8L299.1 324.9L299.3 328.4L299.4 332.0L299.5 335.5L299.7 338.3L299.8 339.4L299.9 336.9L300.0 331.6L300.2 326.0L300.3 321.0L300.4 316.7L300.6 313.1L300.7 310.0L300.8 307.4L301.0 305.1L301.1 303.2L301.2 301.6L301.4 300.2L301.5 299.0L301.6 298.0L301.8 297.3L301.9 296.7L302.0 296.2L302.2 296.0L302.3 295.9L302.4 296.0L302.6 296.2L302.7 296.6L302.8 297.1L303.0 297.7L303.1 298.5L303.2 299.5L303.4 300.7L303.5 302.0L303.6 303.6L303.8 305.4L303.9 307.4L304.0 309.8L304.2 312.5L304.3 315.5L304.4 319.1L304.6 323.1L304.7 327.8L304.8 333.1L305.0 338.8L305.1 343.8L305.3 345.9L305.4 342.3L305.5 335.5L305.6 329.1L305.8 323.9L305.9 319.6L306.0 316.1L306.2 313.3L306.3 310.9L306.4 309.0L306.6 307.4L306.7 306.2L306.8 305.3L307.0 304.6L307.1 304.2L307.2 304.1L307.4 304.2L307.5 304.3L307.6 304.6L307.8 305.0L307.9 305.5L308.0 306.1L308.2 306.8L308.3 307.7L308.4 308.7L308.6 309.9L308.7 311.3L308.8 312.8L309.0 314.5L309.1 316.5L309.3 318.8L309.4 321.3L309.5 324.3L309.7 327.6L309.8 331.4L309.9 335.7L310.1 340.2L310.2 344.2L310.3 345.8L310.5 342.7L310.6 336.4L310.7 330.4L310.8 325.4L311.0 321.2L311.1 317.7L311.2 314.9L311.4 312.5L311.5 310.5L311.6 308.9L311.8 307.6L311.9 306.5L312.0 305.7L312.1 305.2L312.3 304.8L312.4 304.7L312.5 304.8L312.7 304.9L312.8 305.2L312.9 305.5L313.0 306.0L313.2 306.5L313.3 307.2L313.4 308.0L313.6 309.0L313.7 310.0L313.8 311.3L313.9 312.6L314.1 314.2L314.2 316.0L314.3 318.0L314.5 320.3L314.6 322.8L314.7 325.7L314.9 329.1L315.0 332.9L315.1 337.0L315.2 341.4L315.4 345.1L315.5 346.6L315.6 343.5L315.8 337.4L315.9 331.5L316.0 326.5L316.1 322.4L316.3 319.0L316.4 316.2L316.5 313.9L316.7 311.9L316.8 310.3L316.9 309.0L317.0 308.0L317.2 307.2L317.3 306.7L317.4 306.3L317.6 306.2L317.7 306.3L317.8 306.4L318.0 306.5L318.1 306.8L318.2 307.1L318.4 307.5L318.5 308.0L318.6 308.5L318.8 309.1L318.9 309.9L319.0 310.7L319.2 311.6L319.3 312.6L319.4 313.7L319.6 314.9L319.7 316.3L319.8 317.8L320.0 319.5L320.1 321.4L320.2 323.4L320.4 325.7L320.5 328.3L320.6 331.1L320.8 334.3L320.9 337.7L321.0 341.4L321.2 344.9L321.3 347.7L321.4 348.8L321.6 346.8L321.7 342.2L321.8 337.4L322.0 332.9L322.1 329.1L322.2 325.8L322.3 323.0L322.5 320.6L322.6 318.5L322.7 316.7L322.9 315.2L323.0 313.9L323.1 312.7L323.2 311.8L323.4 311.0L323.5 310.4L323.6 309.9L323.8 309.5L323.9 309.3L324.0 309.3L324.2 309.3L324.3 309.4L324.4 309.7L324.5 310.0L324.7 310.4L324.8 310.9L324.9 311.5L325.1 312.2L325.2 313.0L325.3 313.9L325.4 314.9L325.6 316.1L325.7 317.5L325.8 318.9L326.0 320.6L326.1 322.5L326.2 324.6L326.3 326.9L326.5 329.5L326.6 332.5L326.7 335.9L326.9 339.6L327.0 343.7L327.1 347.8L327.3 351.2L327.4 352.5L327.5 349.8L327.6 344.4L327.8 339.0L327.9 334.3L328.0 330.4L328.2 327.2L328.3 324.4L328.4 322.1L328.6 320.2L328.7 318.6L328.8 317.3L329.0 316.2L329.1 315.3L329.2 314.6L329.4 314.2L329.5 313.9L329.6 313.8L329.7 313.9L329.9 314.0L330.0 314.2L330.1 314.5L330.3 314.9L330.4 315.3L330.5 315.9L330.7 316.6L330.8 317.3L330.9 318.2L331.0 319.2L331.2 320.3L331.3 321.6L331.4 323.0L331.6 324.5L331.7 326.3L331.8 328.3L331.9 330.5L332.1 333.0L332.2 335.8L332.3 339.0L332.5 342.5L332.6 346.4L332.7 350.3L332.8 353.5L333.0 354.8L333.1 352.1L333.2 346.8L333.4 341.5L333.5 336.9L333.6 333.1L333.8 329.9L333.9 327.2L334.0 325.0L334.2 323.1L334.3 321.5L334.4 320.2L334.6 319.2L334.7 318.3L334.8 317.7L335.0 317.2L335.1 316.9L335.2 316.8L335.3 316.9L335.5 317.0L335.6 317.2L335.7 317.6L335.9 318.0L336.0 318.5L336.1 319.1L336.2 319.8L336.4 320.6L336.5 321.6L336.6 322.7L336.8 323.9L336.9 325.3L337.0 326.8L337.2 328.6L337.3 330.6L337.4 332.9L337.5 335.5L337.7 338.5L337.8 341.8L337.9 345.5L338.1 349.4L338.2 352.7L338.3 354.0L338.4 351.1L338.6 345.4L338.7 339.9L338.8 335.2L339.0 331.4L339.1 328.2L339.2 325.6L339.3 323.4L339.5 321.6L339.6 320.1L339.7 318.9L339.9 317.9L340.0 317.2L340.1 316.6L340.3 316.3L340.4 316.2L340.5 316.3L340.7 316.5L340.8 316.9L340.9 317.4L341.1 318.0L341.2 318.8L341.3 319.8L341.5 320.9L341.6 322.3L341.7 323.8L341.9 325.6L342.0 327.7L342.1 330.1L342.3 332.8L342.4 336.0L342.5 339.6L342.7 343.9L342.8 348.7L343.0 354.0L343.1 358.8L343.2 360.9L343.4 357.4L343.5 351.0L343.6 345.2L343.8 340.5L343.9 336.8L344.0 333.8L344.2 331.3L344.3 329.4L344.4 327.8L344.6 326.5L344.7 325.6L344.8 324.9L345.0 324.6L345.1 324.4L345.3 324.5L345.4 324.7L345.5 325.0L345.7 325.5L345.8 326.1L345.9 326.9L346.1 327.9L346.2 329.0L346.3 330.4L346.5 331.9L346.6 333.8L346.7 335.9L346.9 338.4L347.0 341.3L347.2 344.8L347.3 348.9L347.4 353.4L347.6 357.7L347.7 359.7L347.8 355.4L348.0 347.8L348.1 341.3L348.2 336.1L348.4 332.0L348.5 328.8L348.6 326.2L348.8 324.1L348.9 322.6L349.0 321.4L349.2 320.5L349.3 320.0L349.4 319.9L349.6 319.9L349.7 320.1L349.8 320.3L349.9 320.6L350.1 321.1L350.2 321.6L350.3 322.2L350.5 323.0L350.6 323.8L350.7 324.8L350.8 325.9L351.0 327.2L351.1 328.6L351.2 330.2L351.4 331.9L351.5 333.9L351.6 336.1L351.7 338.6L351.9 341.4L352.0 344.6L352.1 348.2L352.3 352.1L352.4 356.5L352.5 360.8L352.7 364.4L352.8 365.9L352.9 363.5L353.0 358.8L353.2 354.0L353.3 349.9L353.4 346.5L353.6 343.7L353.7 341.3L353.8 339.3L354.0 337.6L354.1 336.2L354.2 335.0L354.4 334.1L354.5 333.3L354.6 332.7L354.8 332.3L354.9 332.1L355.0 332.0L355.1 332.0L355.3 332.1L355.4 332.3L355.5 332.5L355.7 332.8L355.8 333.1L355.9 333.5L356.1 334.0L356.2 334.5L356.3 335.1L356.4 335.8L356.6 336.6L356.7 337.4L356.8 338.4L357.0 339.5L357.1 340.7L357.2 342.0L357.3 343.5L357.5 345.1L357.6 346.9L357.7 349.0L357.9 351.2L358.0 353.8L358.1 356.6L358.2 359.5L358.4 362.5L358.5 364.8L358.6 365.8L358.8 363.7L358.9 359.5L359.0 355.2L359.2 351.4L359.3 348.2L359.4 345.5L359.6 343.2L359.7 341.3L359.8 339.6L360.0 338.2L360.1 337.1L360.2 336.1L360.4 335.3L360.5 334.6L360.6 334.1L360.8 333.8L360.9 333.6L361.0 333.5L361.2 333.6L361.3 333.6L361.4 333.8L361.6 334.0L361.7 334.3L361.8 334.6L362.0 335.0L362.1 335.4L362.3 335.9L362.4 336.5L362.5 337.2L362.7 338.0L362.8 338.8L362.9 339.8L363.1 340.9L363.2 342.1L363.3 343.4L363.5 344.9L363.6 346.5L363.7 348.4L363.9 350.4L364.0 352.8L364.1 355.4L364.3 358.1L364.4 360.9L364.5 363.2L364.7 364.1L364.8 362.2L364.9 358.1L365.1 354.0L365.2 350.4L365.3 347.4L365.5 344.9L365.6 342.7L365.7 340.9L365.9 339.3L366.0 338.0L366.1 336.9L366.3 335.9L366.4 335.2L366.5 334.6L366.7 334.1L366.8 333.8L366.9 333.6L367.1 333.5L367.2 333.6L367.3 333.6L367.5 333.8L367.6 334.0L367.7 334.2L367.9 334.5L368.0 334.9L368.1 335.3L368.3 335.8L368.4 336.4L368.5 337.1L368.7 337.8L368.8 338.6L368.9 339.5L369.1 340.5L369.2 341.6L369.3 342.9L369.5 344.3L369.6 345.9L369.8 347.7L369.9 349.6L370.0 351.9L370.2 354.3L370.3 357.0L370.4 359.6L370.6 361.8L370.7 362.6L370.8 360.8L371.0 357.0L371.1 353.1L371.2 349.6L371.4 346.7L371.5 344.3L371.6 342.3L371.8 340.5L371.9 339.0L372.0 337.8L372.2 336.7L372.3 335.8L372.4 335.1L372.6 334.5L372.7 334.1L372.8 333.8L373.0 333.6L373.1 333.5L373.2 333.6L373.4 333.6L373.5 333.8L373.6 334.0L373.7 334.3L373.9 334.6L374.0 335.0L374.1 335.5L374.3 336.0L374.4 336.6L374.5 337.3L374.6 338.1L374.8 339.0L374.9 339.9L375.0 341.0L375.2 342.2L375.3 343.5L375.4 345.0L375.6 346.6L375.7 348.4L375.8 350.5L375.9 352.7L376.1 355.3L376.2 358.1L376.3 361.1L376.5 364.0L376.6 366.3L376.7 367.3L376.8 365.5L377.0 361.9L377.1 358.2L377.3 354.9L377.4 352.2L377.5 349.9L377.7 347.9L377.8 346.2L377.9 344.8L378.1 343.6L378.2 342.6L378.3 341.8L378.5 341.1L378.6 340.5L378.7 340.1L378.9 339.8L379.0 339.7L379.1 339.6L379.3 339.6L379.4 339.7L379.5 339.9L379.6 340.1L379.8 340.4L379.9 340.7L380.0 341.2L380.2 341.7L380.3 342.2L380.4 342.9L380.5 343.7L380.7 344.5L380.8 345.4L380.9 346.5L381.1 347.7L381.2 349.0L381.3 350.5L381.5 352.2L381.6 354.1L381.7 356.2L381.8 358.6L382.0 361.2L382.1 364.1L382.2 367.1L382.4 369.5L382.5 369.9L382.6 368.6L382.7 364.9L382.9 361.2L383.0 358.1L383.1 355.4L383.3 353.2L383.4 351.4L383.5 349.8L383.7 348.5L383.8 347.4L383.9 346.5L384.1 345.8L384.2 345.2L384.3 344.7L384.5 344.4L384.6 344.2L384.7 344.1L384.9 344.2L385.0 344.3L385.1 344.5L385.3 344.9L385.4 345.3L385.5 345.8L385.7 346.4L385.8 347.1L385.9 347.9L386.1 348.9L386.2 350.1L386.3 351.4L386.5 352.9L386.6 354.6L386.8 356.6L386.9 358.9L387.0 361.6L387.2 364.6L387.3 368.0L387.4 369.9L387.6 369.9L387.7 369.9L387.8 365.5L388.0 361.5L388.1 358.3L388.2 355.7L388.4 353.6L388.5 351.9L388.6 350.6L388.8 349.5L388.9 348.6L389.1 348.0L389.2 347.5L389.3 347.3L389.5 347.2L389.6 347.2L389.7 347.2L389.9 347.3L390.0 347.3L390.1 347.4L390.2 347.5L390.4 347.6L390.5 347.7L390.6 347.9L390.8 348.0L390.9 348.2L391.0 348.4L391.2 348.6L391.3 348.9L391.4 349.1L391.6 349.4L391.7 349.7L391.8 350.0L391.9 350.4L392.1 350.8L392.2 351.2L392.3 351.6L392.5 352.1L392.6 352.6L392.7 353.1L392.9 353.6L393.0 354.2L393.1 354.8L393.3 355.5L393.4 356.2L393.5 357.0L393.7 357.8L393.8 358.7L393.9 359.6L394.0 360.6L394.2 361.7L394.3 362.9L394.4 364.1L394.6 365.4L394.7 366.7L394.8 368.1L395.0 369.5L395.1 369.9L395.2 369.9L395.4 369.9L395.5 369.9" stroke="#ff0000" stroke-dasharray="6.4 5.6"/>
<path d="M341.7 369.9L341.8 369.9L341.9 369.9L342.0 369.9L342.1 369.6L342.2 369.0L342.3 368.3L342.4 367.7L342.4 367.1L342.5 366.4L342.6 365.8L342.7 365.1L342.8 364.5L342.9 363.9L343.0 363.3L343.1 362.6L343.1 362.0L343.2 361.4L343.3 360.8L343.4 360.2L343.5 359.6L343.6 359.0L343.7 358.4L343.7 357.8L343.8 357.2L343.9 356.7L344.0 356.1L344.1 355.5L344.2 354.9L344.3 354.4L344.3 353.8L344.4 353.2L344.5 352.7L344.6 352.1L344.7 351.6L344.8 351.1L344.9 350.5L345.0 350.0L345.0 349.5L345.1 348.9L345.2 348.4L345.3 347.9L345.4 347.4L345.5 346.9L345.6 346.4L345.6 345.9L345.7 345.4L345.8 344.9L345.9 344.4L346.0 343.9L346.1 343.4L346.2 343.0L346.2 342.5L346.3 342.0L346.4 341.6L346.5 341.1L346.6 340.7L346.7 340.2L346.8 339.8L346.9 339.4L346.9 338.9L347.0 338.5L347.1 338.1L347.2 337.7L347.3 337.3L347.4 336.9L347.5 336.5L347.5 336.1L347.6 335.7L347.7 335.3L347.8 334.9L347.9 334.5L348.0 334.2L348.1 333.8L348.1 333.5L348.2 333.1L348.3 332.8L348.4 332.4L348.5 332.1L348.6 331.8L348.7 331.5L348.8 331.2L348.8 330.9L348.9 330.7L349.0 330.4L349.1 330.2L349.2 329.9L349.3 329.7L349.4 329.4L349.4 329.2L349.5 328.9L349.6 328.7L349.7 328.5L349.8 328.3L349.9 328.0L350.0 327.8L350.0 327.6L350.1 327.4L350.2 327.2L350.3 327.0L350.4 326.8L350.5 326.5L350.6 326.3L350.7 326.1L350.7 325.9L350.8 325.7L350.9 325.4L351.0 325.2L351.1 325.0L351.2 324.7L351.3 324.5L351.3 324.2L351.4 324.0L351.5 323.7L351.6 323.4L351.7 323.2L351.8 322.9L351.9 322.6L351.9 322.3L352.0 322.0L352.1 321.6L352.2 321.3L352.3 321.0L352.4 320.6L352.5 320.2L352.6 319.9L352.6 319.5L352.7 319.1L352.8 318.6L352.9 318.2L353.0 317.7L353.1 317.2L353.2 316.6L353.2 316.0L353.3 315.3L353.4 314.7L353.5 313.9L353.6 313.1L353.7 312.3L353.8 311.5L353.8 310.6L353.9 309.7L354.0 308.8L354.1 307.8L354.2 306.8L354.3 305.8L354.4 304.8L354.5 303.7L354.5 302.6L354.6 301.5L354.7 300.4L354.8 299.3L354.9 298.2L355.0 297.0L355.1 295.8L355.1 294.7L355.2 293.5L355.3 292.3L355.4 291.1L355.5 289.9L355.6 288.7L355.7 287.5L355.7 286.3L355.8 285.1L355.9 283.9L356.0 282.8L356.1 281.6L356.2 280.4L356.3 279.3L356.4 278.1L356.4 277.0L356.5 275.9L356.6 274.8L356.7 273.8L356.8 272.7L356.9 271.7L357.0 270.7L357.0 269.7L357.1 268.8L357.2 267.8L357.3 266.9L357.4 266.0L357.5 265.1L357.6 264.2L357.6 263.4L357.7 262.5L357.8 261.6L357.9 260.8L358.0 260.0L358.1 259.1L358.2 258.3L358.3 257.4L358.3 256.6L358.4 255.8L358.5 255.0L358.6 254.1L358.7 253.3L358.8 252.5L358.9 251.7L358.9 250.8L359.0 250.0L359.1 249.2L359.2 248.3L359.3 247.5L359.4 246.6L359.5 245.8L359.5 244.9L359.6 244.0L359.7 243.2L359.8 242.3L359.9 241.4L360.0 240.5L360.1 239.6L360.2 238.6L360.2 237.7L360.3 236.7L360.4 235.7L360.5 234.6L360.6 233.5L360.7 232.5L360.8 231.4L360.8 230.4L360.9 229.5L361.0 228.6L361.1 227.7L361.2 226.9L361.3 226.0L361.4 225.2L361.4 224.4L361.5 223.6L361.6 222.8L361.7 222.0L361.8 221.2L361.9 220.4L362.0 219.6L362.1 218.8L362.1 218.0L362.2 217.3L362.3 216.5L362.4 215.7L362.5 215.0L362.6 214.3L362.7 213.5L362.7 212.8L362.8 212.1L362.9 211.4L363.0 210.7L363.1 210.0L363.2 209.3L363.3 208.6L363.3 207.9L363.4 207.2L363.5 206.5L363.6 205.9L363.7 205.2L363.8 204.6L363.9 203.9L364.0 203.3L364.0 202.7L364.1 202.1L364.2 201.5L364.3 200.9L364.4 200.3L364.5 199.7L364.6 199.1L364.6 198.5L364.7 197.9L364.8 197.4L364.9 196.8L365.0 196.3L365.1 195.7L365.2 195.2L365.2 194.7L365.3 194.2L365.4 193.7L365.5 193.2L365.6 192.7L365.7 192.2L365.8 191.7L365.9 191.2L365.9 190.7L366.0 190.2L366.1 189.6L366.2 189.1L366.3 188.6L366.4 188.1L366.5 187.6L366.5 187.0L366.6 186.5L366.7 186.0L366.8 185.5L366.9 185.0L367.0 184.4L367.1 183.9L367.1 183.4L367.2 182.9L367.3 182.4L367.4 181.9L367.5 181.3L367.6 180.8L367.7 180.3L367.8 179.8L367.8 179.3L367.9 178.8L368.0 178.3L368.1 177.9L368.2 177.4L368.3 176.9L368.4 176.4L368.4 176.0L368.5 175.5L368.6 175.1L368.7 174.6L368.8 174.2L368.9 173.7L369.0 173.3L369.0 172.9L369.1 172.5L369.2 172.1L369.3 171.7L369.4 171.3L369.5 170.9L369.6 170.5L369.6 170.2L369.7 169.8L369.8 169.5L369.9 169.2L370.0 168.8L370.1 168.5L370.2 168.2L370.3 168.0L370.3 167.7L370.4 167.4L370.5 167.2L370.6 167.0L370.7 166.7L370.8 166.5L370.9 166.3L370.9 166.1L371.0 166.0L371.1 165.8L371.2 165.7L371.3 165.6L371.4 165.5L371.5 165.4L371.5 165.3L371.6 165.2L371.7 165.2L371.8 165.2L371.9 165.2L372.0 165.2L372.1 165.2L372.2 165.2L372.2 165.3L372.3 165.4L372.4 165.5L372.5 165.6L372.6 165.7L372.7 165.8L372.8 166.0L372.8 166.1L372.9 166.3L373.0 166.5L373.1 166.7L373.2 166.9L373.3 167.2L373.4 167.4L373.4 167.7L373.5 167.9L373.6 168.2L373.7 168.5L373.8 168.8L373.9 169.1L374.0 169.5L374.1 169.8L374.1 170.1L374.2 170.5L374.3 170.9L374.4 171.2L374.5 171.6L374.6 172.0L374.7 172.4L374.7 172.8L374.8 173.2L374.9 173.7L375.0 174.1L375.1 174.5L375.2 175.0L375.3 175.4L375.3 175.9L375.4 176.4L375.5 176.8L375.6 177.3L375.7 177.8L375.8 178.3L375.9 178.8L376.0 179.3L376.0 179.8L376.1 180.3L376.2 180.8L376.3 181.3L376.4 181.8L376.5 182.3L376.6 182.8L376.6 183.3L376.7 183.9L376.8 184.4L376.9 184.9L377.0 185.4L377.1 185.9L377.2 186.5L377.2 187.0L377.3 187.5L377.4 188.0L377.5 188.6L377.6 189.1L377.7 189.6L377.8 190.1L377.9 190.6L377.9 191.2L378.0 191.7L378.1 192.2L378.2 192.7L378.3 193.2L378.4 193.7L378.5 194.2L378.5 194.7L378.6 195.2L378.7 195.7L378.8 196.2L378.9 196.7L379.0 197.2L379.1 197.8L379.1 198.3L379.2 198.8L379.3 199.3L379.4 199.9L379.5 200.4L379.6 201.0L379.7 201.5L379.8 202.1L379.8 202.7L379.9 203.3L380.0 203.9L380.1 204.5L380.2 205.1L380.3 205.7L380.4 206.4L380.4 207.0L380.5 207.7L380.6 208.4L380.7 209.0L380.8 209.7L380.9 210.5L381.0 211.2L381.0 211.9L381.1 212.7L381.2 213.5L381.3 214.3L381.4 215.1L381.5 215.9L381.6 216.8L381.7 217.7L381.7 218.6L381.8 219.5L381.9 220.4L382.0 221.4L382.1 222.3L382.2 223.3L382.3 224.4L382.3 225.4L382.4 226.5L382.5 227.6L382.6 228.7L382.7 230.0L382.8 231.5L382.9 233.2L382.9 235.1L383.0 237.1L383.1 239.2L383.2 241.4L383.3 243.7L383.4 246.0L383.5 248.3L383.6 250.7L383.6 253.1L383.7 255.4L383.8 257.7L383.9 259.9L384.0 261.9L384.1 263.9L384.2 265.8L384.2 267.4L384.3 268.9L384.4 270.4L384.5 271.7L384.6 273.0L384.7 274.3L384.8 275.5L384.8 276.6L384.9 277.7L385.0 278.8L385.1 279.9L385.2 280.9L385.3 282.0L385.4 283.0L385.5 284.0L385.5 285.0L385.6 286.0L385.7 287.1L385.8 288.1L385.9 289.2L386.0 290.3L386.1 291.4L386.1 292.6L386.2 293.8L386.3 295.1L386.4 296.4L386.5 297.9L386.6 299.7L386.7 301.8L386.7 304.0L386.8 306.0L386.9 307.7L387.0 308.9L387.1 309.3L387.2 309.2L387.3 309.0L387.4 308.7L387.4 308.3L387.5 307.8L387.6 307.3L387.7 306.7L387.8 306.0L387.9 305.4L388.0 304.7L388.0 304.0L388.1 303.3L388.2 302.7L388.3 302.1L388.4 301.5L388.5 301.1L388.6 300.7L388.6 300.4L388.7 300.2L388.8 300.2L388.9 300.3L389.0 300.5L389.1 300.9L389.2 301.3L389.3 301.9L389.3 302.6L389.4 303.4L389.5 304.3L389.6 305.2L389.7 306.2L389.8 307.2L389.9 308.3L389.9 309.3L390.0 310.4L390.1 311.5L390.2 312.6L390.3 313.6L390.4 314.6L390.5 315.5L390.5 316.4L390.6 317.2L390.7 317.9L390.8 318.6L390.9 319.1L391.0 319.5L391.1 319.7L391.2 319.9L391.3 319.8L391.4 319.7L391.5 319.6L391.6 319.4L391.7 319.2L391.8 318.9L391.8 318.6L391.9 318.4L392.0 318.1L392.1 317.8L392.2 317.5L392.3 317.2L392.4 316.9L392.4 316.6L392.5 316.3L392.6 316.1L392.7 315.9L392.8 315.7L392.9 315.5L393.0 315.4L393.1 315.3L393.2 315.4L393.3 315.5L393.4 315.7L393.5 316.0L393.6 316.3L393.7 316.6L393.7 317.0L393.8 317.5L393.9 318.0L394.0 318.5L394.1 319.1L394.2 319.7L394.3 320.3L394.3 320.9L394.4 321.6L394.5 322.2L394.6 322.9L394.7 323.6L394.8 324.2L394.9 324.9L395.0 325.5L395.0 326.1L395.1 326.7L395.2 327.3L395.3 327.9L395.4 328.4L395.5 328.9L395.6 329.3L395.6 329.8L395.7 330.2L395.8 330.6L395.9 331.0L396.0 331.4L396.1 331.8L396.2 332.2L396.2 332.6L396.3 332.9L396.4 333.3L396.5 333.6L396.6 334.0L396.7 334.3L396.8 334.7L396.9 335.0L396.9 335.4L397.0 335.7L397.1 336.1L397.2 336.4L397.3 336.8L397.4 337.2L397.5 337.5L397.5 337.9L397.6 338.3L397.7 338.7L397.8 339.1L397.9 339.5L398.0 339.9L398.1 340.4L398.1 340.8L398.2 341.3L398.3 341.7L398.4 342.2L398.5 342.8L398.6 343.3L398.7 343.8L398.8 344.4L398.8 345.0L398.9 345.6L399.0 346.3L399.1 347.0L399.2 347.7L399.3 348.5L399.4 349.4L399.4 350.3L399.5 351.2L399.6 352.2L399.7 353.2L399.8 354.2L399.9 355.3L400.0 356.4L400.0 357.6L400.1 358.8L400.2 360.0L400.3 361.2L400.4 362.4L400.5 363.7L400.6 365.0L400.6 366.3L400.7 367.6L400.8 368.9L400.9 369.9L401.0 369.9L401.1 369.9" stroke="#0000ff" stroke-dasharray="6.4 5.6"/>
<path d="M64.0 269.8L64.2 274.5L64.3 288.3L64.5 308.8L64.6 321.4L64.7 321.2L64.9 320.7L65.0 319.9L65.1 318.8L65.2 317.5L65.4 316.0L65.5 314.4L65.6 312.7L65.8 310.9L65.9 309.0L66.0 307.2L66.2 305.4L66.3 303.7L66.4 302.0L66.5 300.4L66.7 298.8L66.8 297.4L66.9 296.0L67.1 294.7L67.2 293.6L67.3 292.5L67.4 291.5L67.6 290.7L67.7 289.9L67.8 289.2L68.0 288.7L68.1 288.2L68.2 287.9L68.3 287.6L68.5 287.5L68.6 287.4L68.7 287.5L68.9 287.7L69.0 288.0L69.1 288.4L69.3 288.9L69.4 289.6L69.5 290.4L69.7 291.3L69.8 292.4L69.9 293.5L70.1 294.8L70.2 296.2L70.3 297.7L70.5 299.3L70.6 301.0L70.7 302.8L70.9 304.7L71.0 306.6L71.1 308.5L71.3 310.3L71.4 312.2L71.5 313.9L71.7 315.4L71.8 316.6L71.9 317.6L72.0 318.2L72.2 318.4L72.3 318.1L72.4 317.3L72.6 316.0L72.7 314.3L72.8 312.3L73.0 310.1L73.1 307.8L73.2 305.5L73.4 303.2L73.5 300.9L73.6 298.8L73.8 296.7L73.9 294.8L74.0 293.1L74.1 291.5L74.3 290.1L74.4 288.8L74.5 287.7L74.7 286.8L74.8 286.0L74.9 285.4L75.1 285.0L75.2 284.8L75.3 284.7L75.5 284.8L75.6 285.1L75.7 285.6L75.8 286.4L76.0 287.3L76.1 288.5L76.2 289.8L76.4 291.4L76.5 293.2L76.6 295.1L76.8 297.3L76.9 299.6L77.0 302.1L77.2 304.7L77.3 307.3L77.4 310.0L77.6 312.6L77.7 314.9L77.8 317.0L77.9 318.5L78.1 319.5L78.2 319.9L78.3 319.8L78.5 319.7L78.6 319.5L78.7 319.2L78.9 318.8L79.0 318.4L79.1 317.8L79.3 317.3L79.4 316.7L79.5 316.0L79.7 315.3L79.8 314.6L79.9 313.8L80.1 313.1L80.2 312.3L80.3 311.6L80.4 310.8L80.6 310.0L80.7 309.3L80.8 308.6L81.0 307.8L81.1 307.1L81.2 306.5L81.4 305.8L81.5 305.1L81.6 304.5L81.8 303.9L81.9 303.4L82.0 302.8L82.2 302.3L82.3 301.8L82.4 301.3L82.6 300.9L82.7 300.5L82.8 300.1L83.0 299.7L83.1 299.4L83.2 299.1L83.3 298.8L83.5 298.5L83.6 298.3L83.7 298.1L83.9 297.9L84.0 297.8L84.1 297.6L84.3 297.6L84.4 297.5L84.5 297.4L84.7 297.4L84.8 297.5L84.9 297.7L85.1 298.0L85.2 298.5L85.3 299.1L85.5 299.8L85.6 300.6L85.7 301.6L85.8 302.7L86.0 303.9L86.1 305.3L86.2 306.8L86.4 308.3L86.5 310.0L86.6 311.7L86.8 313.4L86.9 315.1L87.0 316.8L87.2 318.3L87.3 319.6L87.4 320.6L87.5 321.2L87.7 321.4L87.8 321.2L87.9 320.6L88.1 319.6L88.2 318.3L88.3 316.7L88.5 315.0L88.6 313.1L88.7 311.2L88.9 309.3L89.0 307.4L89.1 305.6L89.3 303.8L89.4 302.1L89.5 300.5L89.7 299.1L89.8 297.8L89.9 296.5L90.1 295.5L90.2 294.5L90.3 293.7L90.5 293.0L90.6 292.4L90.7 291.9L90.9 291.6L91.0 291.4L91.1 291.4L91.3 291.4L91.4 291.6L91.5 292.0L91.7 292.5L91.8 293.1L91.9 293.8L92.0 294.7L92.2 295.7L92.3 296.9L92.4 298.2L92.6 299.6L92.7 301.2L92.8 302.9L93.0 304.7L93.1 306.6L93.2 308.5L93.4 310.6L93.5 312.6L93.6 314.7L93.8 316.6L93.9 318.5L94.0 320.2L94.2 321.6L94.3 322.6L94.4 323.3L94.6 323.5L94.7 323.3L94.8 322.8L95.0 322.0L95.1 320.9L95.2 319.6L95.4 318.2L95.5 316.7L95.6 315.1L95.8 313.5L95.9 311.9L96.0 310.4L96.2 308.9L96.3 307.5L96.4 306.2L96.6 305.0L96.7 303.9L96.8 302.9L96.9 302.0L97.1 301.2L97.2 300.5L97.3 300.0L97.5 299.5L97.6 299.1L97.7 298.9L97.9 298.7L98.0 298.6L98.1 298.7L98.3 299.0L98.4 299.3L98.5 299.9L98.7 300.6L98.8 301.5L98.9 302.5L99.1 303.7L99.2 305.0L99.3 306.5L99.5 308.1L99.6 309.9L99.7 311.7L99.8 313.7L100.0 315.8L100.1 317.9L100.2 319.9L100.4 321.9L100.5 323.7L100.6 325.3L100.8 326.5L100.9 327.2L101.0 327.5L101.2 327.1L101.3 326.2L101.4 324.7L101.5 322.8L101.7 320.5L101.8 318.0L101.9 315.4L102.1 312.8L102.2 310.2L102.3 307.8L102.5 305.4L102.6 303.2L102.7 301.2L102.9 299.3L103.0 297.6L103.1 296.2L103.3 294.9L103.4 293.8L103.5 292.9L103.6 292.2L103.8 291.8L103.9 291.5L104.0 291.4L104.2 291.5L104.3 291.9L104.4 292.5L104.6 293.5L104.7 294.6L104.8 296.1L105.0 297.8L105.1 299.7L105.2 301.9L105.4 304.4L105.5 307.1L105.6 309.9L105.8 313.0L105.9 316.1L106.0 319.3L106.2 322.4L106.3 325.3L106.4 327.8L106.6 329.7L106.7 331.0L106.8 331.4L107.0 331.2L107.1 330.5L107.2 329.4L107.4 327.9L107.5 326.1L107.6 324.1L107.8 322.0L107.9 319.7L108.0 317.4L108.2 315.1L108.3 312.9L108.4 310.6L108.5 308.5L108.7 306.5L108.8 304.5L108.9 302.7L109.1 301.0L109.2 299.4L109.3 297.9L109.5 296.6L109.6 295.4L109.7 294.2L109.9 293.2L110.0 292.4L110.1 291.6L110.3 291.0L110.4 290.5L110.5 290.1L110.7 289.8L110.8 289.6L110.9 289.5L111.1 289.7L111.2 290.1L111.3 290.8L111.5 291.7L111.6 292.9L111.7 294.5L111.9 296.3L112.0 298.5L112.1 301.0L112.3 303.8L112.4 307.0L112.6 310.6L112.7 314.5L112.8 318.6L113.0 323.0L113.1 327.2L113.2 330.9L113.4 333.5L113.5 334.4L113.6 333.0L113.8 329.3L113.9 324.4L114.0 319.3L114.2 314.5L114.3 310.0L114.4 305.9L114.6 302.3L114.7 299.0L114.8 296.1L115.0 293.5L115.1 291.2L115.2 289.1L115.4 287.2L115.5 285.6L115.6 284.1L115.8 282.9L115.9 281.8L116.0 280.8L116.2 280.1L116.3 279.4L116.4 278.9L116.6 278.6L116.7 278.4L116.8 278.3L117.0 278.3L117.1 278.4L117.2 278.5L117.3 278.6L117.5 278.8L117.6 279.0L117.7 279.2L117.9 279.5L118.0 279.8L118.1 280.1L118.3 280.5L118.4 281.0L118.5 281.4L118.6 282.0L118.8 282.6L118.9 283.2L119.0 283.9L119.2 284.7L119.3 285.5L119.4 286.5L119.6 287.5L119.7 288.6L119.8 289.8L119.9 291.1L120.1 292.6L120.2 294.2L120.3 296.0L120.5 297.9L120.6 299.9L120.7 302.0L120.9 304.0L121.0 305.5L121.1 306.0L121.2 300.0L121.4 290.8L121.5 283.5L121.6 277.9L121.8 273.7L121.9 270.5L122.0 268.1L122.2 266.3L122.3 265.0L122.4 264.3L122.5 264.1L122.7 264.1L122.8 264.1L122.9 264.2L123.1 264.3L123.2 264.4L123.3 264.6L123.5 264.8L123.6 265.0L123.7 265.3L123.9 265.6L124.0 265.9L124.1 266.3L124.2 266.7L124.4 267.2L124.5 267.6L124.6 268.2L124.8 268.8L124.9 269.4L125.0 270.1L125.2 270.8L125.3 271.6L125.4 272.5L125.6 273.4L125.7 274.4L125.8 275.5L126.0 276.7L126.1 278.0L126.2 279.4L126.3 281.0L126.5 282.7L126.6 284.5L126.7 286.4L126.9 288.4L127.0 290.4L127.1 292.2L127.3 293.5L127.4 294.0L127.5 288.9L127.7 280.6L127.8 273.6L127.9 268.3L128.1 264.1L128.2 260.9L128.3 258.3L128.5 256.4L128.6 254.9L128.7 253.9L128.9 253.3L129.0 253.1L129.1 253.2L129.3 253.2L129.4 253.3L129.5 253.4L129.7 253.6L129.8 253.8L129.9 254.1L130.1 254.3L130.2 254.7L130.3 255.0L130.5 255.5L130.6 255.9L130.7 256.4L130.9 257.0L131.0 257.6L131.1 258.3L131.3 259.0L131.4 259.9L131.5 260.7L131.7 261.7L131.8 262.7L131.9 263.9L132.1 265.1L132.2 266.5L132.3 268.0L132.5 269.6L132.6 271.4L132.7 273.4L132.9 275.5L133.0 277.8L133.1 280.1L133.3 282.2L133.4 283.8L133.5 284.3L133.7 278.6L133.8 269.8L133.9 262.9L134.1 257.6L134.2 253.6L134.3 250.5L134.5 248.1L134.6 246.4L134.8 245.3L134.9 244.6L135.0 244.3L135.2 244.4L135.3 244.4L135.4 244.5L135.6 244.6L135.7 244.8L135.8 245.0L136.0 245.3L136.1 245.6L136.2 245.9L136.4 246.3L136.5 246.7L136.6 247.2L136.8 247.8L136.9 248.3L137.0 249.0L137.2 249.7L137.3 250.4L137.4 251.3L137.6 252.2L137.7 253.2L137.8 254.3L138.0 255.5L138.1 256.8L138.2 258.2L138.4 259.7L138.5 261.4L138.6 263.3L138.8 265.3L138.9 267.5L139.0 269.8L139.2 272.2L139.3 274.4L139.4 276.0L139.6 276.6L139.7 270.4L139.8 261.0L140.0 253.4L140.1 247.7L140.2 243.4L140.4 240.0L140.5 237.5L140.6 235.7L140.8 234.4L140.9 233.7L141.1 233.4L141.2 233.4L141.3 233.5L141.5 233.6L141.6 233.8L141.7 234.0L141.8 234.2L142.0 234.5L142.1 234.9L142.2 235.3L142.4 235.7L142.5 236.2L142.6 236.8L142.8 237.4L142.9 238.1L143.0 238.9L143.2 239.7L143.3 240.6L143.4 241.6L143.6 242.7L143.7 244.0L143.8 245.3L143.9 246.7L144.1 248.4L144.2 250.1L144.3 252.1L144.5 254.2L144.6 256.6L144.7 259.1L144.9 261.7L145.0 264.1L145.1 266.0L145.3 266.7L145.4 259.5L145.5 249.3L145.7 241.6L145.8 235.8L146.0 231.6L146.1 228.4L146.2 226.2L146.4 224.6L146.5 223.7L146.7 223.4L146.8 223.4L146.9 223.5L147.1 223.7L147.2 223.9L147.3 224.2L147.4 224.5L147.6 224.9L147.7 225.4L147.8 225.9L148.0 226.6L148.1 227.3L148.2 228.1L148.4 228.9L148.5 229.9L148.6 231.1L148.8 232.3L148.9 233.7L149.0 235.2L149.2 236.9L149.3 238.9L149.4 241.0L149.5 243.5L149.7 246.1L149.8 249.1L149.9 251.9L150.1 254.3L150.2 255.2L150.3 246.8L150.5 235.9L150.6 228.0L150.7 222.3L150.9 218.2L151.0 215.3L151.1 213.4L151.3 212.2L151.4 211.9L151.5 211.9L151.7 211.9L151.8 212.0L151.9 212.1L152.0 212.3L152.2 212.4L152.3 212.6L152.4 212.9L152.6 213.1L152.7 213.4L152.8 213.8L153.0 214.2L153.1 214.6L153.2 215.0L153.3 215.6L153.5 216.1L153.6 216.7L153.7 217.3L153.9 218.1L154.0 218.8L154.1 219.6L154.3 220.5L154.4 221.5L154.5 222.6L154.6 223.7L154.8 225.0L154.9 226.4L155.0 227.9L155.2 229.5L155.3 231.3L155.4 233.2L155.6 235.1L155.7 237.1L155.8 238.9L155.9 240.3L156.1 240.7L156.2 234.2L156.3 223.5L156.5 214.6L156.6 207.7L156.7 202.3L156.9 198.2L157.0 194.9L157.1 192.4L157.2 190.5L157.4 189.2L157.5 188.5L157.6 188.2L157.8 188.2L157.9 188.3L158.0 188.4L158.2 188.5L158.3 188.6L158.4 188.8L158.6 189.0L158.7 189.2L158.8 189.5L159.0 189.8L159.1 190.1L159.2 190.5L159.4 190.9L159.5 191.3L159.6 191.8L159.7 192.4L159.9 193.0L160.0 193.7L160.1 194.4L160.3 195.2L160.4 196.0L160.5 197.0L160.7 198.0L160.8 199.2L160.9 200.4L161.1 201.8L161.2 203.3L161.3 204.9L161.5 206.7L161.6 208.5L161.7 210.1L161.9 211.4L162.0 211.9L162.1 205.4L162.3 195.5L162.4 187.6L162.5 181.6L162.7 177.1L162.8 173.6L162.9 171.0L163.0 169.0L163.2 167.7L163.3 166.9L163.4 166.7L163.6 166.7L163.7 166.7L163.8 166.8L164.0 166.9L164.1 167.0L164.2 167.1L164.4 167.2L164.5 167.4L164.6 167.6L164.7 167.8L164.9 168.0L165.0 168.3L165.1 168.6L165.3 168.9L165.4 169.3L165.5 169.7L165.7 170.1L165.8 170.6L165.9 171.1L166.0 171.6L166.2 172.2L166.3 172.9L166.4 173.6L166.6 174.3L166.7 175.2L166.8 176.1L167.0 177.1L167.1 178.2L167.2 179.4L167.3 180.7L167.5 182.0L167.6 183.4L167.7 184.7L167.9 185.6L168.0 185.9L168.1 179.7L168.3 170.3L168.4 162.7L168.5 157.0L168.7 152.7L168.8 149.3L169.0 146.8L169.1 145.0L169.2 143.7L169.4 143.0L169.5 142.7L169.6 142.9L169.8 143.6L169.9 144.8L170.0 146.6L170.2 149.0L170.3 152.1L170.4 156.2L170.6 161.5L170.7 168.6L170.8 177.5L171.0 183.4L171.1 180.1L171.2 176.7L171.2 173.3L171.3 169.9L171.4 166.4L171.5 162.8L171.6 159.2L171.7 155.5L171.8 151.6L171.8 147.4L171.9 143.2L172.0 139.1L172.1 135.2L172.2 131.6L172.3 128.5L172.4 125.7L172.5 122.9L172.5 120.3L172.6 117.9L172.7 115.7L172.8 113.6L172.9 111.7L173.0 110.0L173.1 108.5L173.1 107.1L173.2 105.7L173.3 104.4L173.4 103.2L173.5 102.1L173.6 100.9L173.7 99.9L173.8 98.8L173.8 97.8L173.9 96.9L174.0 95.9L174.1 94.9L174.2 94.0L174.3 93.0L174.4 92.1L174.4 91.1L174.5 90.1L174.6 89.1L174.7 88.1L174.8 87.1L174.9 86.1L175.0 85.1L175.1 84.2L175.1 83.2L175.2 82.3L175.3 81.3L175.4 80.4L175.5 79.5L175.6 78.6L175.7 77.7L175.7 76.8L175.8 76.0L175.9 75.1L176.0 74.3L176.1 73.5L176.2 72.8L176.3 72.1L176.3 71.4L176.4 70.7L176.5 70.0L176.6 69.3L176.7 68.6L176.8 68.0L176.9 67.3L177.0 66.7L177.0 66.0L177.1 65.3L177.2 64.7L177.3 64.1L177.4 63.4L177.5 62.8L177.6 62.2L177.6 61.6L177.7 61.0L177.8 60.5L177.9 59.9L178.0 59.3L178.1 58.8L178.2 58.3L178.3 57.8L178.3 57.3L178.4 56.8L178.5 56.3L178.6 55.9L178.7 55.4L178.8 55.0L178.9 54.6L178.9 54.2L179.0 53.9L179.1 53.5L179.2 53.2L179.3 52.9L179.4 52.6L179.5 52.3L179.6 52.0L179.6 51.8L179.7 51.5L179.8 51.2L179.9 51.0L180.0 50.7L180.1 50.4L180.2 50.2L180.2 49.9L180.3 49.7L180.4 49.4L180.5 49.2L180.6 49.0L180.7 48.7L180.8 48.5L180.9 48.3L180.9 48.1L181.0 47.9L181.1 47.8L181.2 47.6L181.3 47.4L181.4 47.3L181.5 47.1L181.5 47.0L181.6 46.9L181.7 46.8L181.8 46.7L181.9 46.7L182.0 46.6L182.1 46.6L182.2 46.6L182.3 46.6L182.4 46.6L182.5 46.6L182.6 46.7L182.7 46.8L182.8 46.9L182.8 47.0L182.9 47.1L183.0 47.2L183.1 47.4L183.2 47.5L183.3 47.7L183.4 47.9L183.5 48.1L183.5 48.3L183.6 48.5L183.7 48.7L183.8 48.9L183.9 49.1L184.0 49.4L184.1 49.6L184.1 49.8L184.2 50.1L184.3 50.3L184.4 50.6L184.5 50.9L184.6 51.1L184.7 51.4L184.8 51.6L184.8 51.9L184.9 52.2L185.0 52.4L185.1 52.7L185.2 53.0L185.3 53.3L185.4 53.6L185.4 54.0L185.5 54.3L185.6 54.7L185.7 55.1L185.8 55.5L185.9 55.9L186.0 56.3L186.1 56.8L186.1 57.2L186.2 57.7L186.3 58.1L186.4 58.6L186.5 59.1L186.6 59.6L186.7 60.2L186.7 60.7L186.8 61.2L186.9 61.8L187.0 62.3L187.1 62.9L187.2 63.5L187.3 64.1L187.3 64.7L187.4 65.3L187.5 65.9L187.6 66.5L187.7 67.1L187.8 67.8L187.9 68.4L188.0 69.1L188.0 69.7L188.1 70.4L188.2 71.1L188.3 71.7L188.4 72.5L188.5 73.2L188.6 74.0L188.6 74.8L188.7 75.7L188.8 76.5L188.9 77.4L189.0 78.4L189.1 79.3L189.2 80.3L189.3 81.3L189.3 82.3L189.4 83.3L189.5 84.3L189.6 85.3L189.7 86.4L189.8 87.4L189.9 88.5L189.9 89.6L190.0 90.6L190.1 91.7L190.2 92.7L190.3 93.7L190.4 94.6L190.5 95.6L190.6 96.5L190.6 97.6L190.7 98.6L190.8 99.7L190.9 101.0L191.0 102.3L191.1 103.7L191.2 105.3L191.2 107.0L191.3 108.9L191.4 111.3L191.5 114.6L191.6 118.5L191.7 122.9L191.8 127.5L191.9 131.9L191.9 136.1L192.0 140.1L192.1 144.0L192.2 147.9L192.3 151.9L192.4 155.8L192.5 159.7L192.5 163.7L192.6 167.6L192.7 171.5L192.9 168.4L193.0 162.9L193.1 158.2L193.2 154.5L193.4 151.5L193.5 149.2L193.6 147.3L193.8 145.8L193.9 144.6L194.0 143.8L194.2 143.2L194.3 142.8L194.4 142.7L194.6 143.0L194.7 143.8L194.8 145.3L195.0 147.3L195.1 150.0L195.2 153.4L195.3 157.8L195.5 163.1L195.6 169.7L195.7 177.8L195.9 188.0L196.0 200.5L196.1 214.5L196.2 222.2L196.4 221.2L196.5 218.5L196.6 214.9L196.8 211.1L196.9 207.4L197.0 204.0L197.2 200.9L197.3 198.0L197.4 195.4L197.6 193.1L197.7 191.0L197.8 189.0L198.0 187.3L198.1 185.7L198.2 184.2L198.4 182.8L198.5 181.6L198.6 180.5L198.8 179.5L198.9 178.6L199.0 177.8L199.2 177.0L199.3 176.4L199.4 175.8L199.5 175.3L199.7 174.8L199.8 174.5L199.9 174.2L200.1 174.0L200.2 173.8L200.3 173.7L200.5 173.7L200.6 174.0L200.7 174.9L200.9 176.4L201.0 178.7L201.2 181.6L201.3 185.5L201.4 190.3L201.6 196.4L201.7 204.1L201.9 213.7L202.0 226.0L202.1 240.1L202.3 248.3L202.4 247.1L202.5 244.2L202.7 240.3L202.8 236.1L202.9 232.1L203.1 228.4L203.2 224.9L203.3 221.8L203.5 219.0L203.6 216.5L203.7 214.1L203.9 212.0L204.0 210.1L204.1 208.3L204.3 206.7L204.4 205.2L204.5 203.9L204.6 202.7L204.8 201.6L204.9 200.6L205.0 199.7L205.2 198.9L205.3 198.2L205.4 197.5L205.6 197.0L205.7 196.5L205.8 196.1L206.0 195.8L206.1 195.5L206.2 195.3L206.4 195.2L206.5 195.2L206.6 195.5L206.8 196.4L206.9 197.9L207.0 200.1L207.1 203.0L207.3 206.9L207.4 211.8L207.5 218.0L207.7 226.1L207.8 236.5L207.9 249.1L208.0 256.8L208.2 255.5L208.3 252.4L208.4 248.5L208.6 244.5L208.7 240.8L208.8 237.4L208.9 234.4L209.1 231.7L209.2 229.3L209.3 227.1L209.5 225.1L209.6 223.4L209.7 221.8L209.9 220.4L210.0 219.1L210.1 217.9L210.2 216.9L210.4 216.0L210.5 215.2L210.6 214.5L210.8 213.8L210.9 213.3L211.0 212.9L211.1 212.5L211.3 212.2L211.4 212.0L211.5 211.9L211.7 211.9L211.8 212.1L211.9 212.8L212.1 214.0L212.2 215.7L212.4 218.0L212.5 221.0L212.6 224.7L212.8 229.4L212.9 235.2L213.1 242.7L213.2 252.0L213.3 262.9L213.5 269.2L213.6 268.2L213.7 265.9L213.9 262.7L214.0 259.4L214.1 256.2L214.3 253.1L214.4 250.4L214.5 247.9L214.7 245.6L214.8 243.5L214.9 241.7L215.1 240.0L215.2 238.4L215.3 237.0L215.4 235.7L215.6 234.5L215.7 233.5L215.8 232.5L216.0 231.6L216.1 230.8L216.2 230.1L216.4 229.4L216.5 228.8L216.6 228.3L216.8 227.9L216.9 227.5L217.0 227.2L217.2 226.9L217.3 226.7L217.4 226.6L217.6 226.5L217.7 226.4L217.8 226.7L217.9 227.4L218.1 228.7L218.2 230.4L218.3 232.8L218.5 235.9L218.6 239.8L218.7 244.7L218.9 250.8L219.0 258.5L219.1 268.3L219.2 279.6L219.4 286.2L219.5 285.0L219.6 282.0L219.8 278.1L219.9 274.0L220.0 270.1L220.2 266.6L220.3 263.4L220.4 260.4L220.5 257.8L220.7 255.5L220.8 253.3L220.9 251.4L221.1 249.6L221.2 248.0L221.3 246.6L221.5 245.3L221.6 244.1L221.7 243.0L221.8 242.1L222.0 241.2L222.1 240.5L222.2 239.8L222.4 239.2L222.5 238.7L222.6 238.3L222.8 238.0L222.9 237.7L223.0 237.5L223.2 237.4L223.3 237.4L223.4 237.7L223.5 238.5L223.7 240.1L223.8 242.3L223.9 245.2L224.1 249.1L224.2 254.0L224.3 260.3L224.4 268.4L224.6 278.8L224.7 291.4L224.8 299.1L225.0 297.6L225.1 293.7L225.2 288.9L225.4 284.1L225.5 279.6L225.6 275.6L225.8 272.0L225.9 268.8L226.0 266.0L226.2 263.4L226.3 261.2L226.4 259.1L226.6 257.3L226.7 255.6L226.8 254.2L227.0 252.8L227.1 251.7L227.2 250.6L227.4 249.7L227.5 248.9L227.6 248.3L227.8 247.7L227.9 247.3L228.0 246.9L228.2 246.7L228.3 246.5L228.5 246.5L228.6 246.7L228.7 247.5L228.8 248.9L229.0 250.9L229.1 253.5L229.2 256.9L229.4 261.2L229.5 266.6L229.6 273.4L229.7 282.0L229.9 292.8L230.0 305.3L230.1 312.6L230.3 311.2L230.4 307.7L230.5 303.2L230.7 298.5L230.8 294.0L230.9 289.9L231.0 286.2L231.2 282.8L231.3 279.8L231.4 277.1L231.6 274.6L231.7 272.4L231.8 270.4L232.0 268.5L232.1 266.8L232.2 265.3L232.3 264.0L232.5 262.7L232.6 261.6L232.7 260.6L232.9 259.8L233.0 259.0L233.1 258.3L233.3 257.7L233.4 257.3L233.5 256.9L233.7 256.6L233.8 256.3L233.9 256.2L234.0 256.2L234.2 256.5L234.3 257.3L234.4 258.7L234.6 260.8L234.7 263.6L234.8 267.2L235.0 271.7L235.1 277.4L235.2 284.5L235.3 293.5L235.5 304.9L235.6 318.0L235.7 325.6L235.9 324.2L236.0 320.4L236.1 315.6L236.2 310.6L236.4 305.8L236.5 301.4L236.6 297.4L236.8 293.8L236.9 290.6L237.0 287.6L237.2 285.0L237.3 282.6L237.4 280.4L237.6 278.5L237.7 276.7L237.8 275.1L237.9 273.6L238.1 272.3L238.2 271.1L238.3 270.1L238.5 269.1L238.6 268.3L238.7 267.6L238.9 266.9L239.0 266.4L239.1 266.0L239.3 265.7L239.4 265.5L239.5 265.3L239.6 265.3L239.8 265.6L239.9 266.5L240.1 268.1L240.2 270.3L240.3 273.4L240.5 277.3L240.6 282.4L240.8 288.9L240.9 297.3L241.0 308.1L241.2 321.1L241.3 329.0L241.5 327.7L241.6 324.3L241.7 319.9L241.8 315.4L242.0 311.1L242.1 307.1L242.2 303.5L242.4 300.2L242.5 297.3L242.6 294.6L242.8 292.2L242.9 290.1L243.0 288.1L243.2 286.3L243.3 284.7L243.4 283.3L243.5 281.9L243.7 280.7L243.8 279.7L243.9 278.7L244.1 277.9L244.2 277.1L244.3 276.4L244.5 275.9L244.6 275.4L244.7 275.0L244.8 274.8L245.0 274.5L245.1 274.4L245.2 274.4L245.4 274.6L245.5 275.4L245.7 276.8L245.8 278.8L245.9 281.4L246.1 284.9L246.2 289.3L246.4 295.0L246.5 302.3L246.6 311.7L246.8 323.1L246.9 330.0L247.1 328.9L247.2 325.9L247.3 322.0L247.4 318.1L247.6 314.2L247.7 310.7L247.8 307.6L248.0 304.7L248.1 302.1L248.2 299.8L248.4 297.7L248.5 295.8L248.6 294.0L248.7 292.5L248.9 291.1L249.0 289.8L249.1 288.6L249.3 287.6L249.4 286.6L249.5 285.8L249.7 285.0L249.8 284.4L249.9 283.8L250.1 283.3L250.2 282.9L250.3 282.5L250.4 282.3L250.6 282.1L250.7 282.0L250.8 282.0L251.0 282.2L251.1 282.9L251.3 284.1L251.4 285.8L251.5 288.2L251.7 291.2L251.8 295.1L252.0 300.1L252.1 306.5L252.2 314.8L252.4 324.7L252.5 330.8L252.6 329.7L252.8 327.0L252.9 323.5L253.0 319.8L253.2 316.3L253.3 313.0L253.4 310.1L253.6 307.5L253.7 305.1L253.8 302.9L254.0 301.0L254.1 299.2L254.2 297.6L254.3 296.2L254.5 294.9L254.6 293.7L254.7 292.6L254.9 291.7L255.0 290.8L255.1 290.0L255.3 289.3L255.4 288.7L255.5 288.2L255.6 287.7L255.8 287.4L255.9 287.1L256.0 286.8L256.2 286.6L256.3 286.5L256.4 286.5L256.6 286.7L256.7 287.4L256.8 288.6L257.0 290.3L257.1 292.6L257.2 295.6L257.3 299.5L257.5 304.4L257.6 310.7L257.7 318.9L257.9 328.7L258.0 334.7L258.1 333.5L258.3 330.3L258.4 326.4L258.5 322.5L258.7 318.9L258.8 315.6L258.9 312.7L259.1 310.1L259.2 307.8L259.3 305.8L259.5 303.9L259.6 302.2L259.7 300.7L259.9 299.4L260.0 298.2L260.1 297.1L260.3 296.2L260.4 295.4L260.5 294.6L260.7 294.0L260.8 293.4L260.9 293.0L261.1 292.6L261.2 292.3L261.3 292.1L261.5 292.0L261.6 292.0L261.7 292.3L261.9 293.2L262.0 294.8L262.2 297.1L262.3 300.3L262.4 304.5L262.6 309.9L262.7 317.1L262.9 326.6L263.0 338.4L263.1 346.2L263.3 344.9L263.4 341.6L263.5 337.4L263.7 333.1L263.8 329.1L263.9 325.5L264.1 322.2L264.2 319.3L264.3 316.7L264.4 314.4L264.6 312.3L264.7 310.4L264.8 308.7L265.0 307.2L265.1 305.8L265.2 304.5L265.3 303.4L265.5 302.5L265.6 301.6L265.7 300.8L265.9 300.1L266.0 299.6L266.1 299.1L266.2 298.7L266.4 298.4L266.5 298.2L266.6 298.1L266.8 298.0L266.9 298.3L267.0 299.1L267.2 300.5L267.3 302.5L267.5 305.2L267.6 308.7L267.7 313.1L267.9 318.9L268.0 326.2L268.2 335.7L268.3 347.2L268.4 354.2L268.6 353.0L268.7 349.9L268.8 345.9L269.0 341.7L269.1 337.7L269.2 334.1L269.4 330.8L269.5 327.8L269.6 325.1L269.8 322.7L269.9 320.5L270.0 318.5L270.1 316.7L270.3 315.1L270.4 313.6L270.5 312.2L270.7 311.0L270.8 309.9L270.9 309.0L271.1 308.1L271.2 307.3L271.3 306.6L271.4 306.0L271.6 305.5L271.7 305.1L271.8 304.7L272.0 304.4L272.1 304.3L272.2 304.1L272.4 304.1L272.5 304.3L272.6 305.1L272.8 306.3L272.9 308.0L273.1 310.4L273.2 313.5L273.3 317.4L273.5 322.5L273.6 328.9L273.8 337.3L273.9 347.4L274.0 353.6L274.2 352.5L274.3 349.6L274.4 345.9L274.6 342.1L274.7 338.4L274.8 335.1L275.0 332.0L275.1 329.3L275.2 326.8L275.3 324.6L275.5 322.5L275.6 320.7L275.7 319.0L275.9 317.5L276.0 316.2L276.1 314.9L276.3 313.8L276.4 312.8L276.5 311.9L276.7 311.1L276.8 310.4L276.9 309.7L277.0 309.2L277.2 308.7L277.3 308.3L277.4 308.0L277.6 307.8L277.7 307.6L277.8 307.5L278.0 307.4L278.1 307.7L278.2 308.3L278.4 309.4L278.5 311.0L278.7 313.1L278.8 315.9L278.9 319.3L279.1 323.6L279.2 329.1L279.3 335.9L279.5 344.6L279.6 354.6L279.8 360.5L279.9 359.6L280.0 357.2L280.2 354.1L280.3 350.8L280.4 347.6L280.6 344.7L280.7 342.0L280.8 339.5L281.0 337.3L281.1 335.2L281.2 333.4L281.3 331.7L281.5 330.2L281.6 328.8L281.7 327.5L281.9 326.3L282.0 325.3L282.1 324.3L282.3 323.4L282.4 322.6L282.5 321.9L282.7 321.3L282.8 320.7L282.9 320.2L283.1 319.8L283.2 319.4L283.3 319.1L283.5 318.8L283.6 318.6L283.7 318.5L283.9 318.4L284.0 318.4L284.1 318.6L284.3 319.1L284.4 320.2L284.5 321.6L284.7 323.6L284.8 326.1L285.0 329.4L285.1 333.6L285.2 338.9L285.4 345.9L285.5 354.2L285.7 359.3L285.8 358.4L285.9 356.1L286.1 353.0L286.2 349.9L286.3 346.9L286.4 344.1L286.6 341.6L286.7 339.3L286.8 337.3L287.0 335.5L287.1 333.8L287.2 332.3L287.4 330.9L287.5 329.7L287.6 328.6L287.8 327.6L287.9 326.6L288.0 325.8L288.1 325.1L288.3 324.4L288.4 323.8L288.5 323.3L288.7 322.8L288.8 322.4L288.9 322.1L289.1 321.9L289.2 321.7L289.3 321.5L289.5 321.4L289.6 321.4L289.7 321.6L289.9 322.1L290.0 322.9L290.1 324.2L290.3 325.9L290.4 328.1L290.6 331.0L290.7 334.6L290.8 339.2L291.0 345.2L291.1 352.5L291.3 356.9L291.4 356.1L291.5 354.0L291.7 351.3L291.8 348.4L291.9 345.7L292.0 343.3L292.2 341.0L292.3 339.0L292.4 337.2L292.6 335.5L292.7 334.0L292.8 332.7L293.0 331.5L293.1 330.4L293.2 329.3L293.4 328.4L293.5 327.6L293.6 326.9L293.7 326.2L293.9 325.6L294.0 325.1L294.1 324.6L294.3 324.2L294.4 323.9L294.5 323.6L294.7 323.3L294.8 323.1L294.9 323.0L295.0 322.9L295.2 322.9L295.3 323.1L295.5 323.5L295.6 324.3L295.7 325.4L295.9 326.9L296.0 328.9L296.2 331.4L296.3 334.6L296.4 338.8L296.6 344.1L296.7 350.5L296.9 354.5L297.0 353.8L297.1 351.9L297.2 349.5L297.4 347.0L297.5 344.6L297.6 342.4L297.8 340.4L297.9 338.6L298.0 337.0L298.2 335.6L298.3 334.3L298.4 333.1L298.6 332.0L298.7 331.0L298.8 330.1L298.9 329.3L299.1 328.6L299.2 327.9L299.3 327.3L299.5 326.8L299.6 326.3L299.7 325.9L299.9 325.6L300.0 325.3L300.1 325.0L300.3 324.8L300.4 324.6L300.5 324.5L300.6 324.5L300.8 324.4L300.9 324.6L301.1 324.9L301.2 325.6L301.3 326.6L301.5 327.9L301.6 329.6L301.8 331.7L301.9 334.5L302.0 338.0L302.2 342.6L302.3 348.1L302.5 351.5L302.6 350.8L302.7 349.2L302.8 347.0L303.0 344.7L303.1 342.6L303.2 340.6L303.4 338.8L303.5 337.2L303.6 335.8L303.8 334.5L303.9 333.3L304.0 332.2L304.2 331.2L304.3 330.4L304.4 329.6L304.5 328.8L304.7 328.2L304.8 327.6L304.9 327.0L305.1 326.6L305.2 326.2L305.3 325.8L305.5 325.5L305.6 325.2L305.7 324.9L305.8 324.8L306.0 324.6L306.1 324.5L306.2 324.5L306.4 324.4L306.5 324.6L306.7 324.9L306.8 325.6L306.9 326.6L307.1 327.8L307.2 329.5L307.4 331.7L307.5 334.4L307.6 337.9L307.8 342.5L307.9 348.0L308.1 351.3L308.2 350.7L308.3 349.0L308.4 346.9L308.6 344.8L308.7 342.7L308.8 340.8L309.0 339.0L309.1 337.5L309.2 336.1L309.4 334.8L309.5 333.6L309.6 332.6L309.7 331.6L309.9 330.8L310.0 330.0L310.1 329.3L310.3 328.7L310.4 328.1L310.5 327.6L310.7 327.1L310.8 326.7L310.9 326.3L311.1 326.0L311.2 325.8L311.3 325.5L311.4 325.4L311.6 325.2L311.7 325.1L311.8 325.1L312.0 325.0L312.1 325.2L312.2 325.5L312.4 326.2L312.5 327.1L312.7 328.3L312.8 329.9L312.9 331.9L313.1 334.5L313.2 337.8L313.4 342.1L313.5 347.3L313.6 350.5L313.8 349.9L313.9 348.3L314.0 346.2L314.2 344.0L314.3 341.9L314.4 340.0L314.6 338.3L314.7 336.8L314.8 335.4L315.0 334.1L315.1 333.0L315.2 331.9L315.3 331.0L315.5 330.1L315.6 329.4L315.7 328.7L315.9 328.0L316.0 327.5L316.1 327.0L316.3 326.5L316.4 326.1L316.5 325.7L316.7 325.4L316.8 325.2L316.9 324.9L317.0 324.7L317.2 324.6L317.3 324.5L317.4 324.5L317.6 324.4L317.7 324.5L317.8 324.9L318.0 325.5L318.1 326.4L318.3 327.6L318.4 329.1L318.5 331.1L318.7 333.6L318.8 336.8L319.0 341.0L319.1 346.0L319.2 349.1L319.4 348.5L319.5 347.0L319.6 345.0L319.8 343.0L319.9 341.0L320.0 339.2L320.2 337.6L320.3 336.1L320.4 334.8L320.5 333.6L320.7 332.5L320.8 331.5L320.9 330.6L321.1 329.8L321.2 329.1L321.3 328.4L321.5 327.8L321.6 327.3L321.7 326.8L321.9 326.4L322.0 326.0L322.1 325.7L322.2 325.4L322.4 325.1L322.5 324.9L322.6 324.7L322.8 324.6L322.9 324.5L323.0 324.4L323.2 324.4L323.3 324.5L323.4 324.8L323.5 325.4L323.7 326.1L323.8 327.2L323.9 328.5L324.1 330.1L324.2 332.2L324.3 334.8L324.5 338.1L324.6 342.3L324.7 347.1L324.8 349.9L325.0 349.3L325.1 347.8L325.2 345.9L325.4 343.9L325.5 342.0L325.6 340.3L325.8 338.7L325.9 337.3L326.0 336.0L326.1 334.8L326.3 333.8L326.4 332.8L326.5 332.0L326.7 331.2L326.8 330.5L326.9 329.8L327.1 329.3L327.2 328.7L327.3 328.3L327.5 327.8L327.6 327.5L327.7 327.1L327.8 326.9L328.0 326.6L328.1 326.4L328.2 326.2L328.4 326.1L328.5 326.0L328.6 326.0L328.8 325.9L328.9 326.1L329.0 326.4L329.2 327.0L329.3 327.9L329.5 329.1L329.6 330.6L329.7 332.6L329.9 335.1L330.0 338.3L330.2 342.5L330.3 347.5L330.4 350.6L330.6 350.0L330.7 348.6L330.8 346.7L331.0 344.8L331.1 343.0L331.2 341.3L331.4 339.8L331.5 338.4L331.6 337.2L331.7 336.0L331.9 335.0L332.0 334.1L332.1 333.3L332.3 332.5L332.4 331.8L332.5 331.2L332.7 330.7L332.8 330.2L332.9 329.7L333.0 329.3L333.2 328.9L333.3 328.6L333.4 328.3L333.6 328.1L333.7 327.9L333.8 327.7L334.0 327.6L334.1 327.5L334.2 327.5L334.4 327.5L334.5 327.6L334.6 327.9L334.8 328.5L334.9 329.4L335.1 330.5L335.2 332.0L335.3 333.9L335.5 336.3L335.6 339.4L335.8 343.5L335.9 348.3L336.0 351.3L336.2 350.8L336.3 349.4L336.4 347.6L336.6 345.7L336.7 344.0L336.8 342.3L336.9 340.9L337.1 339.5L337.2 338.3L337.3 337.3L337.5 336.3L337.6 335.4L337.7 334.6L337.9 333.9L338.0 333.2L338.1 332.6L338.3 332.1L338.4 331.6L338.5 331.1L338.6 330.8L338.8 330.4L338.9 330.1L339.0 329.8L339.2 329.6L339.3 329.4L339.4 329.3L339.6 329.1L339.7 329.0L339.8 329.0L340.0 329.0L340.1 329.1L340.2 329.4L340.4 330.0L340.5 330.8L340.7 331.9L340.8 333.3L340.9 335.2L341.1 337.5L341.2 340.6L341.3 344.5L341.5 349.2L341.6 352.0L341.8 351.5L341.9 350.2L342.0 348.5L342.2 346.7L342.3 345.0L342.4 343.4L342.5 342.0L342.7 340.7L342.8 339.5L342.9 338.5L343.1 337.5L343.2 336.7L343.3 335.9L343.5 335.2L343.6 334.6L343.7 334.0L343.8 333.5L344.0 333.0L344.1 332.6L344.2 332.2L344.4 331.9L344.5 331.6L344.6 331.3L344.8 331.1L344.9 330.9L345.0 330.8L345.2 330.6L345.3 330.6L345.4 330.5L345.5 330.5L345.7 330.6L345.8 330.9L346.0 331.5L346.1 332.3L346.2 333.3L346.4 334.7L346.5 336.5L346.7 338.7L346.8 341.7L346.9 345.4L347.1 349.9L347.2 352.7L347.4 352.2L347.5 350.9L347.6 349.3L347.7 347.6L347.9 345.9L348.0 344.4L348.1 343.0L348.3 341.8L348.4 340.7L348.5 339.7L348.7 338.8L348.8 338.0L348.9 337.2L349.1 336.5L349.2 335.9L349.3 335.4L349.4 334.9L349.6 334.4L349.7 334.0L349.8 333.7L350.0 333.3L350.1 333.0L350.2 332.8L350.4 332.6L350.5 332.4L350.6 332.3L350.8 332.2L350.9 332.1L351.0 332.0L351.1 332.0L351.3 332.1L351.4 332.4L351.6 332.9L351.7 333.7L351.8 334.7L352.0 336.1L352.1 337.8L352.3 339.9L352.4 342.7L352.5 346.3L352.7 350.7L352.8 353.4L353.0 352.9L353.1 351.6L353.2 350.1L353.3 348.4L353.5 346.8L353.6 345.4L353.7 344.1L353.9 342.9L354.0 341.8L354.1 340.9L354.3 340.0L354.4 339.2L354.5 338.5L354.7 337.9L354.8 337.3L354.9 336.8L355.0 336.3L355.2 335.8L355.3 335.5L355.4 335.1L355.6 334.8L355.7 334.5L355.8 334.3L356.0 334.1L356.1 333.9L356.2 333.8L356.3 333.7L356.5 333.6L356.6 333.5L356.7 333.5L356.9 333.6L357.0 333.9L357.2 334.4L357.3 335.2L357.4 336.1L357.6 337.4L357.7 339.0L357.9 341.1L358.0 343.8L358.1 347.3L358.3 351.4L358.4 354.0L358.5 353.5L358.7 352.4L358.8 350.8L358.9 349.3L359.1 347.8L359.2 346.4L359.3 345.1L359.5 344.0L359.6 343.0L359.7 342.1L359.9 341.2L360.0 340.5L360.1 339.8L360.2 339.2L360.4 338.6L360.5 338.1L360.6 337.7L360.8 337.3L360.9 336.9L361.0 336.5L361.2 336.3L361.3 336.0L361.4 335.8L361.6 335.6L361.7 335.4L361.8 335.3L361.9 335.2L362.1 335.1L362.2 335.1L362.3 335.0L362.5 335.1L362.6 335.4L362.8 335.9L362.9 336.6L363.0 337.5L363.2 338.8L363.3 340.3L363.5 342.3L363.6 344.9L363.7 348.2L363.9 352.2L364.0 354.6L364.1 354.2L364.3 353.1L364.4 351.6L364.5 350.1L364.7 348.7L364.8 347.4L364.9 346.2L365.1 345.1L365.2 344.1L365.3 343.3L365.5 342.5L365.6 341.8L365.7 341.1L365.8 340.5L366.0 340.0L366.1 339.5L366.2 339.1L366.4 338.7L366.5 338.3L366.6 338.0L366.8 337.7L366.9 337.5L367.0 337.3L367.1 337.1L367.3 336.9L367.4 336.8L367.5 336.7L367.7 336.6L367.8 336.6L367.9 336.6L368.1 336.6L368.2 336.9L368.3 337.3L368.4 337.8L368.6 338.6L368.7 339.5L368.8 340.8L369.0 342.3L369.1 344.2L369.2 346.6L369.4 349.7L369.5 353.2L369.6 355.3L369.7 354.9L369.9 353.8L370.0 352.4L370.1 351.0L370.3 349.6L370.4 348.4L370.5 347.2L370.7 346.2L370.8 345.3L370.9 344.5L371.0 343.7L371.2 343.0L371.3 342.4L371.4 341.8L371.6 341.3L371.7 340.9L371.8 340.5L372.0 340.1L372.1 339.7L372.2 339.4L372.4 339.2L372.5 338.9L372.6 338.7L372.7 338.6L372.9 338.4L373.0 338.3L373.1 338.2L373.3 338.1L373.4 338.1L373.5 338.1L373.7 338.2L373.8 338.4L373.9 338.9L374.1 339.5L374.2 340.4L374.4 341.6L374.5 343.0L374.6 344.9L374.8 347.3L374.9 350.5L375.1 354.2L375.2 356.5L375.3 356.1L375.5 355.1L375.6 353.8L375.7 352.5L375.9 351.2L376.0 350.0L376.1 348.9L376.3 347.9L376.4 347.0L376.5 346.3L376.6 345.5L376.8 344.9L376.9 344.3L377.0 343.8L377.2 343.3L377.3 342.9L377.4 342.5L377.6 342.1L377.7 341.8L377.8 341.5L378.0 341.2L378.1 341.0L378.2 340.8L378.3 340.7L378.5 340.5L378.6 340.4L378.7 340.3L378.9 340.3L379.0 340.2L379.1 340.2L379.3 340.3L379.4 340.6L379.5 341.1L379.7 341.9L379.8 342.9L380.0 344.2L380.1 345.8L380.2 348.0L380.4 350.7L380.5 354.2L380.7 358.5L380.8 361.1L380.9 360.7L381.1 359.8L381.2 358.5L381.3 357.3L381.5 356.0L381.6 354.9L381.7 353.9L381.8 353.0L382.0 352.1L382.1 351.4L382.2 350.7L382.4 350.1L382.5 349.5L382.6 349.0L382.8 348.6L382.9 348.2L383.0 347.8L383.2 347.5L383.3 347.2L383.4 346.9L383.5 346.6L383.7 346.4L383.8 346.3L383.9 346.1L384.1 346.0L384.2 345.9L384.3 345.8L384.5 345.7L384.6 345.7L384.7 345.7L384.9 345.7L385.0 345.7L385.1 345.7L385.2 345.8L385.4 345.9L385.5 345.9L385.6 346.0L385.8 346.2L385.9 346.3L386.0 346.5L386.2 346.6L386.3 346.8L386.4 347.0L386.6 347.2L386.7 347.5L386.8 347.7L387.0 348.0L387.1 348.3L387.2 348.6L387.4 349.0L387.5 349.4L387.6 349.7L387.8 350.2L387.9 350.6L388.0 351.1L388.1 351.6L388.3 352.1L388.4 352.7L388.5 353.3L388.7 353.9L388.8 354.6L388.9 355.3L389.1 356.0L389.2 356.9L389.3 357.7L389.5 358.6L389.6 359.6L389.7 360.7L389.9 361.8L390.0 363.0L390.1 364.2L390.3 365.5L390.4 366.9L390.5 368.3L390.7 369.7L390.8 369.9L390.9 369.9L391.0 369.9L391.2 369.9" stroke="#00bfbf"/>
<path d="M322.3 369.9L322.4 369.9L322.5 369.9L322.6 369.9L322.7 369.9L322.8 369.3L322.9 368.7L323.0 368.1L323.1 367.6L323.2 367.0L323.2 366.4L323.3 365.8L323.4 365.3L323.5 364.7L323.6 364.2L323.7 363.6L323.8 363.1L323.9 362.6L323.9 362.0L324.0 361.5L324.1 361.0L324.2 360.5L324.3 359.9L324.4 359.4L324.5 358.9L324.5 358.5L324.6 358.0L324.7 357.5L324.8 357.0L324.9 356.5L325.0 356.1L325.1 355.6L325.1 355.2L325.2 354.7L325.3 354.3L325.4 353.9L325.5 353.4L325.6 353.0L325.7 352.6L325.8 352.2L325.8 351.8L325.9 351.4L326.0 351.0L326.1 350.7L326.2 350.3L326.3 349.9L326.4 349.6L326.4 349.2L326.5 348.9L326.6 348.6L326.7 348.2L326.8 347.9L326.9 347.6L327.0 347.3L327.0 347.0L327.1 346.7L327.2 346.4L327.3 346.2L327.4 345.9L327.5 345.6L327.6 345.4L327.6 345.2L327.7 344.9L327.8 344.7L327.9 344.5L328.0 344.4L328.1 344.2L328.2 344.0L328.3 343.9L328.3 343.7L328.4 343.6L328.5 343.4L328.6 343.3L328.7 343.2L328.8 343.0L328.9 342.9L328.9 342.8L329.0 342.6L329.1 342.5L329.2 342.4L329.3 342.3L329.4 342.1L329.5 342.0L329.5 341.9L329.6 341.7L329.7 341.6L329.8 341.4L329.9 341.2L330.0 341.1L330.1 340.9L330.1 340.7L330.2 340.5L330.3 340.3L330.4 340.0L330.5 339.8L330.6 339.5L330.7 339.2L330.8 339.0L330.8 338.6L330.9 338.3L331.0 337.9L331.1 337.5L331.2 336.9L331.3 336.3L331.4 335.5L331.4 334.8L331.5 333.9L331.6 333.0L331.7 332.0L331.8 331.0L331.9 329.9L332.0 328.8L332.0 327.6L332.1 326.4L332.2 325.2L332.3 323.9L332.4 322.6L332.5 321.2L332.6 319.9L332.7 318.5L332.7 317.1L332.8 315.7L332.9 314.2L333.0 312.5L333.1 310.6L333.2 308.6L333.3 306.3L333.3 304.0L333.4 301.6L333.5 299.1L333.6 296.6L333.7 294.1L333.8 291.6L333.9 289.2L333.9 286.9L334.0 284.7L334.1 282.7L334.2 280.8L334.3 279.1L334.4 277.7L334.5 276.4L334.5 275.2L334.6 274.1L334.7 273.0L334.8 272.0L334.9 271.0L335.0 270.1L335.1 269.1L335.2 268.2L335.2 267.3L335.3 266.4L335.4 265.4L335.5 264.4L335.6 263.4L335.7 262.5L335.8 261.5L335.8 260.6L335.9 259.6L336.0 258.7L336.1 257.7L336.2 256.8L336.3 255.9L336.4 255.0L336.4 254.1L336.5 253.2L336.6 252.3L336.7 251.4L336.8 250.6L336.9 249.7L337.0 248.8L337.1 248.0L337.1 247.1L337.2 246.3L337.3 245.5L337.4 244.6L337.5 243.8L337.6 243.0L337.7 242.2L337.7 241.4L337.8 240.6L337.9 239.9L338.0 239.1L338.1 238.3L338.2 237.6L338.3 236.8L338.3 236.1L338.4 235.3L338.5 234.6L338.6 233.9L338.7 233.2L338.8 232.5L338.9 231.8L338.9 231.1L339.0 230.4L339.1 229.7L339.2 229.1L339.3 228.4L339.4 227.8L339.5 227.1L339.6 226.5L339.6 225.8L339.7 225.2L339.8 224.6L339.9 224.0L340.0 223.4L340.1 222.8L340.2 222.2L340.2 221.6L340.3 221.0L340.4 220.5L340.5 219.9L340.6 219.4L340.7 218.8L340.8 218.3L340.8 217.8L340.9 217.2L341.0 216.7L341.1 216.2L341.2 215.7L341.3 215.2L341.4 214.7L341.4 214.3L341.5 213.8L341.6 213.3L341.7 212.9L341.8 212.4L341.9 212.0L342.0 211.5L342.1 211.1L342.1 210.7L342.2 210.3L342.3 209.9L342.4 209.5L342.5 209.1L342.6 208.7L342.7 208.3L342.7 208.0L342.8 207.6L342.9 207.2L343.0 206.9L343.1 206.6L343.2 206.2L343.3 205.9L343.3 205.6L343.4 205.3L343.5 205.0L343.6 204.7L343.7 204.4L343.8 204.1L343.9 203.8L344.0 203.6L344.0 203.3L344.1 203.1L344.2 202.8L344.3 202.6L344.4 202.3L344.5 202.1L344.6 201.9L344.6 201.7L344.7 201.5L344.8 201.3L344.9 201.1L345.0 200.9L345.1 200.8L345.2 200.6L345.2 200.5L345.3 200.3L345.4 200.2L345.5 200.0L345.6 199.9L345.7 199.7L345.8 199.6L345.8 199.5L345.9 199.4L346.0 199.3L346.1 199.3L346.2 199.2L346.3 199.2L346.4 199.1L346.5 199.1L346.5 199.0L346.6 199.0L346.7 199.0L346.8 198.9L346.9 198.9L347.0 198.9L347.1 198.9L347.2 198.9L347.3 198.9L347.4 198.9L347.5 198.9L347.6 199.0L347.7 199.0L347.7 199.1L347.8 199.1L347.9 199.2L348.0 199.3L348.1 199.4L348.2 199.5L348.3 199.6L348.4 199.7L348.4 199.8L348.5 199.9L348.6 200.0L348.7 200.1L348.8 200.3L348.9 200.4L349.0 200.6L349.0 200.8L349.1 201.0L349.2 201.1L349.3 201.3L349.4 201.5L349.5 201.7L349.6 201.9L349.6 202.1L349.7 202.3L349.8 202.6L349.9 202.8L350.0 203.1L350.1 203.3L350.2 203.6L350.2 203.9L350.3 204.1L350.4 204.4L350.5 204.7L350.6 205.0L350.7 205.3L350.8 205.6L350.9 205.9L350.9 206.2L351.0 206.6L351.1 206.9L351.2 207.3L351.3 207.6L351.4 208.0L351.5 208.4L351.5 208.7L351.6 209.1L351.7 209.5L351.8 209.9L351.9 210.3L352.0 210.7L352.1 211.1L352.1 211.6L352.2 212.0L352.3 212.5L352.4 212.9L352.5 213.4L352.6 213.8L352.7 214.3L352.7 214.8L352.8 215.3L352.9 215.7L353.0 216.2L353.1 216.8L353.2 217.3L353.3 217.8L353.4 218.3L353.4 218.9L353.5 219.4L353.6 220.0L353.7 220.5L353.8 221.1L353.9 221.7L354.0 222.2L354.0 222.8L354.1 223.4L354.2 224.0L354.3 224.6L354.4 225.3L354.5 225.9L354.6 226.5L354.6 227.2L354.7 227.8L354.8 228.5L354.9 229.1L355.0 229.8L355.1 230.5L355.2 231.1L355.3 231.8L355.3 232.5L355.4 233.2L355.5 234.0L355.6 234.7L355.7 235.4L355.8 236.1L355.9 236.9L355.9 237.6L356.0 238.4L356.1 239.1L356.2 239.9L356.3 240.7L356.4 241.5L356.5 242.3L356.5 243.1L356.6 243.9L356.7 244.7L356.8 245.5L356.9 246.4L357.0 247.2L357.1 248.0L357.1 248.9L357.2 249.7L357.3 250.6L357.4 251.5L357.5 252.4L357.6 253.3L357.7 254.1L357.8 255.1L357.8 256.0L357.9 256.9L358.0 257.8L358.1 258.7L358.2 259.7L358.3 260.6L358.4 261.6L358.4 262.5L358.5 263.5L358.6 264.5L358.7 265.5L358.8 266.5L358.9 267.5L359.0 268.5L359.0 269.5L359.1 270.5L359.2 271.5L359.3 272.6L359.4 273.7L359.5 274.7L359.6 275.8L359.7 276.9L359.7 278.0L359.8 279.1L359.9 280.2L360.0 281.3L360.1 282.3L360.2 283.3L360.3 284.3L360.3 285.3L360.4 286.3L360.5 287.3L360.6 288.3L360.7 289.3L360.8 290.3L360.9 291.2L360.9 292.2L361.0 293.2L361.1 294.2L361.2 295.1L361.3 296.1L361.4 297.0L361.5 298.0L361.5 298.9L361.6 299.9L361.7 300.8L361.8 301.7L361.9 302.7L362.0 303.6L362.1 304.5L362.2 305.4L362.2 306.2L362.3 307.1L362.4 308.0L362.5 308.8L362.6 309.7L362.7 310.5L362.8 311.3L362.8 312.1L362.9 312.9L363.0 313.7L363.1 314.5L363.2 315.2L363.3 316.0L363.4 316.7L363.4 317.4L363.5 318.1L363.6 318.7L363.7 319.4L363.8 320.0L363.9 320.6L364.0 321.2L364.0 321.8L364.1 322.3L364.2 322.9L364.3 323.5L364.4 324.0L364.5 324.6L364.6 325.1L364.7 325.6L364.7 326.2L364.8 326.7L364.9 327.3L365.0 327.8L365.1 328.3L365.2 328.9L365.3 329.5L365.3 330.0L365.4 330.6L365.5 331.2L365.6 331.8L365.7 332.4L365.8 333.0L365.9 333.7L365.9 334.3L366.0 335.0L366.1 335.7L366.2 336.5L366.3 337.2L366.4 338.0L366.5 338.8L366.6 339.6L366.6 340.5L366.7 341.4L366.8 342.3L366.9 343.3L367.0 344.3L367.1 345.4L367.2 346.5L367.2 347.6L367.3 348.8L367.4 350.0L367.5 351.3L367.6 352.6L367.7 353.9L367.8 355.2L367.8 356.6L367.9 358.0L368.0 359.4L368.1 360.9L368.2 362.3L368.3 363.8L368.4 365.3L368.4 366.8L368.5 368.3L368.6 369.9L368.7 369.9L368.8 369.9" stroke="#000000" stroke-dasharray="6.4 5.6"/>
<path d="M320.1 369.9L320.2 369.9L320.3 369.9L320.4 369.9L320.5 369.9L320.6 369.9L320.7 369.9L320.8 369.9L320.8 369.8L320.9 369.4L321.0 369.0L321.1 368.5L321.2 368.1L321.3 367.7L321.4 367.3L321.4 366.8L321.5 366.4L321.6 366.0L321.7 365.5L321.8 365.1L321.9 364.6L322.0 364.2L322.0 363.7L322.1 363.3L322.2 362.8L322.3 362.3L322.4 361.9L322.5 361.4L322.6 361.0L322.7 360.5L322.7 360.0L322.8 359.5L322.9 359.1L323.0 358.6L323.1 358.1L323.2 357.6L323.3 357.1L323.3 356.6L323.4 356.1L323.5 355.6L323.6 355.1L323.7 354.6L323.8 354.1L323.9 353.6L323.9 353.1L324.0 352.6L324.1 352.1L324.2 351.6L324.3 351.1L324.4 350.6L324.5 350.0L324.6 349.5L324.6 349.0L324.7 348.5L324.8 347.9L324.9 347.4L325.0 346.9L325.1 346.3L325.2 345.8L325.2 345.3L325.3 344.7L325.4 344.2L325.5 343.6L325.6 343.1L325.7 342.6L325.8 342.0L325.8 341.5L325.9 340.9L326.0 340.4L326.1 339.8L326.2 339.3L326.3 338.7L326.4 338.1L326.4 337.6L326.5 337.0L326.6 336.5L326.7 335.9L326.8 335.2L326.9 334.6L327.0 333.9L327.1 333.2L327.1 332.5L327.2 331.7L327.3 330.9L327.4 330.1L327.5 329.3L327.6 328.5L327.7 327.6L327.7 326.8L327.8 325.9L327.9 325.1L328.0 324.2L328.1 323.3L328.2 322.5L328.3 321.6L328.3 320.7L328.4 319.9L328.5 319.0L328.6 318.2L328.7 317.4L328.8 316.6L328.9 315.8L329.0 315.1L329.0 314.3L329.1 313.6L329.2 312.9L329.3 312.3L329.4 311.7L329.5 311.1L329.6 310.5L329.6 310.0L329.7 309.5L329.8 309.1L329.9 308.7L330.0 308.4L330.1 308.1L330.2 307.8L330.2 307.7L330.3 307.5L330.4 307.5L330.5 307.5L330.6 307.6L330.7 307.8L330.8 308.2L330.9 308.7L330.9 309.3L331.0 309.9L331.1 310.7L331.2 311.5L331.3 312.4L331.4 313.3L331.5 314.3L331.5 315.3L331.6 316.3L331.7 317.3L331.8 318.3L331.9 319.3L332.0 320.3L332.1 321.2L332.1 322.1L332.2 322.9L332.3 323.6L332.4 324.3L332.5 324.8L332.6 325.3L332.7 325.6L332.8 325.9L332.9 325.8L333.0 325.3L333.1 324.5L333.2 323.4L333.3 322.0L333.4 320.4L333.4 318.5L333.5 316.4L333.6 314.2L333.7 311.8L333.8 309.2L333.9 306.5L334.0 303.8L334.0 300.9L334.1 298.1L334.2 295.2L334.3 292.3L334.4 289.4L334.5 286.6L334.6 283.8L334.7 281.1L334.7 278.6L334.8 276.2L334.9 273.9L335.0 271.9L335.1 270.0L335.2 268.4L335.3 267.0L335.3 265.7L335.4 264.5L335.5 263.4L335.6 262.3L335.7 261.2L335.8 260.2L335.9 259.2L335.9 258.3L336.0 257.3L336.1 256.3L336.2 255.3L336.3 254.3L336.4 253.3L336.5 252.3L336.6 251.3L336.6 250.3L336.7 249.4L336.8 248.4L336.9 247.4L337.0 246.4L337.1 245.5L337.2 244.5L337.2 243.6L337.3 242.7L337.4 241.7L337.5 240.8L337.6 239.9L337.7 239.0L337.8 238.1L337.8 237.2L337.9 236.4L338.0 235.5L338.1 234.6L338.2 233.8L338.3 232.9L338.4 232.1L338.4 231.3L338.5 230.4L338.6 229.6L338.7 228.8L338.8 228.0L338.9 227.2L339.0 226.4L339.1 225.6L339.1 224.9L339.2 224.1L339.3 223.3L339.4 222.6L339.5 221.8L339.6 221.1L339.7 220.4L339.7 219.7L339.8 219.0L339.9 218.2L340.0 217.5L340.1 216.9L340.2 216.2L340.3 215.5L340.3 214.8L340.4 214.2L340.5 213.5L340.6 212.9L340.7 212.2L340.8 211.6L340.9 211.0L341.0 210.4L341.0 209.8L341.1 209.2L341.2 208.6L341.3 208.0L341.4 207.4L341.5 206.9L341.6 206.3L341.6 205.7L341.7 205.2L341.8 204.7L341.9 204.1L342.0 203.6L342.1 203.1L342.2 202.6L342.2 202.1L342.3 201.6L342.4 201.1L342.5 200.6L342.6 200.2L342.7 199.7L342.8 199.2L342.9 198.8L342.9 198.4L343.0 197.9L343.1 197.5L343.2 197.1L343.3 196.7L343.4 196.3L343.5 195.9L343.5 195.5L343.6 195.1L343.7 194.7L343.8 194.4L343.9 194.0L344.0 193.7L344.1 193.3L344.1 193.0L344.2 192.7L344.3 192.3L344.4 192.0L344.5 191.7L344.6 191.4L344.7 191.1L344.8 190.9L344.8 190.6L344.9 190.3L345.0 190.1L345.1 189.8L345.2 189.6L345.3 189.3L345.4 189.1L345.4 188.9L345.5 188.7L345.6 188.5L345.7 188.3L345.8 188.1L345.9 187.9L346.0 187.7L346.0 187.6L346.1 187.4L346.2 187.3L346.3 187.1L346.4 187.0L346.5 186.8L346.6 186.7L346.7 186.6L346.7 186.5L346.8 186.4L346.9 186.3L347.0 186.2L347.1 186.2L347.2 186.1L347.3 186.1L347.3 186.0L347.4 186.0L347.5 186.0L347.6 185.9L347.7 185.9L347.8 185.9L347.9 185.8L348.0 185.8L348.1 185.8L348.2 185.8L348.3 185.8L348.4 185.9L348.5 185.9L348.6 186.0L348.6 186.1L348.7 186.1L348.8 186.2L348.9 186.3L349.0 186.4L349.1 186.5L349.2 186.6L349.2 186.7L349.3 186.8L349.4 186.9L349.5 187.0L349.6 187.2L349.7 187.3L349.8 187.5L349.8 187.7L349.9 187.9L350.0 188.0L350.1 188.2L350.2 188.4L350.3 188.6L350.4 188.8L350.5 189.0L350.5 189.3L350.6 189.5L350.7 189.7L350.8 190.0L350.9 190.3L351.0 190.5L351.1 190.8L351.1 191.1L351.2 191.4L351.3 191.7L351.4 192.0L351.5 192.3L351.6 192.6L351.7 192.9L351.7 193.2L351.8 193.6L351.9 193.9L352.0 194.3L352.1 194.6L352.2 195.0L352.3 195.4L352.3 195.8L352.4 196.2L352.5 196.6L352.6 197.0L352.7 197.4L352.8 197.8L352.9 198.2L353.0 198.7L353.0 199.1L353.1 199.6L353.2 200.0L353.3 200.5L353.4 201.0L353.5 201.5L353.6 202.0L353.6 202.4L353.7 203.0L353.8 203.5L353.9 204.0L354.0 204.5L354.1 205.1L354.2 205.6L354.2 206.2L354.3 206.7L354.4 207.3L354.5 207.9L354.6 208.4L354.7 209.0L354.8 209.6L354.9 210.2L354.9 210.8L355.0 211.4L355.1 212.1L355.2 212.7L355.3 213.4L355.4 214.0L355.5 214.7L355.5 215.3L355.6 216.0L355.7 216.7L355.8 217.4L355.9 218.1L356.0 218.8L356.1 219.5L356.1 220.2L356.2 220.9L356.3 221.7L356.4 222.4L356.5 223.1L356.6 223.9L356.7 224.7L356.8 225.4L356.8 226.2L356.9 227.0L357.0 227.8L357.1 228.6L357.2 229.4L357.3 230.2L357.4 231.0L357.4 231.9L357.5 232.7L357.6 233.6L357.7 234.4L357.8 235.3L357.9 236.1L358.0 237.0L358.0 237.9L358.1 238.8L358.2 239.7L358.3 240.6L358.4 241.5L358.5 242.4L358.6 243.4L358.7 244.3L358.7 245.2L358.8 246.2L358.9 247.1L359.0 248.1L359.1 249.1L359.2 250.1L359.3 251.1L359.3 252.1L359.4 253.1L359.5 254.1L359.6 255.1L359.7 256.1L359.8 257.2L359.9 258.2L359.9 259.3L360.0 260.3L360.1 261.4L360.2 262.4L360.3 263.5L360.4 264.6L360.5 265.7L360.6 266.8L360.6 267.9L360.7 269.0L360.8 270.2L360.9 271.3L361.0 272.4L361.1 273.6L361.2 274.8L361.2 275.9L361.3 277.1L361.4 278.3L361.5 279.5L361.6 280.6L361.7 281.9L361.8 283.1L361.8 284.3L361.9 285.5L362.0 286.7L362.1 288.0L362.2 289.2L362.3 290.5L362.4 291.8L362.5 293.1L362.5 294.5L362.6 295.8L362.7 297.1L362.8 298.4L362.9 299.7L363.0 301.0L363.1 302.3L363.1 303.5L363.2 304.7L363.3 306.0L363.4 307.4L363.5 308.8L363.6 310.2L363.7 311.5L363.7 312.7L363.8 313.8L363.9 314.6L364.0 315.1L364.1 315.4L364.2 315.6L364.3 315.7L364.3 315.8L364.4 315.9L364.5 316.0L364.6 316.1L364.7 316.1L364.8 316.2L364.9 316.3L365.0 316.3L365.0 316.4L365.1 316.5L365.2 316.6L365.3 316.8L365.4 316.9L365.5 317.1L365.6 317.4L365.6 317.7L365.7 318.0L365.8 318.4L365.9 318.9L366.0 319.3L366.1 319.9L366.2 320.4L366.2 321.1L366.3 321.7L366.4 322.4L366.5 323.2L366.6 324.0L366.7 324.8L366.8 326.0L366.9 327.4L366.9 329.1L367.0 331.0L367.1 333.2L367.2 335.6L367.3 338.2L367.4 341.0L367.5 344.0L367.5 347.2L367.6 350.5L367.7 354.0L367.8 357.6L367.9 361.3L368.0 365.1L368.1 369.0L368.1 369.9" stroke="#8b0000"/>
</g>
<rect x="64.00" y="15.00" width="430.50" height="333.70" fill="none" stroke="#000" stroke-width="1.3"/>
<path d="M64.00 348.70v-4.5M64.00 15.00v4.5M150.10 348.70v-4.5M150.10 15.00v4.5M236.20 348.70v-4.5M236.20 15.00v4.5M322.30 348.70v-4.5M322.30 15.00v4.5M408.40 348.70v-4.5M408.40 15.00v4.5M494.50 348.70v-4.5M494.50 15.00v4.5M64.00 348.70h4.5M494.50 348.70h-4.5M64.00 339.57h2.3M494.50 339.57h-2.3M64.00 330.44h2.3M494.50 330.44h-2.3M64.00 325.09h2.3M494.50 325.09h-2.3M64.00 321.30h2.3M494.50 321.30h-2.3M64.00 318.36h4.5M494.50 318.36h-4.5M64.00 309.23h2.3M494.50 309.23h-2.3M64.00 300.10h2.3M494.50 300.10h-2.3M64.00 294.76h2.3M494.50 294.76h-2.3M64.00 290.97h2.3M494.50 290.97h-2.3M64.00 288.03h4.5M494.50 288.03h-4.5M64.00 278.90h2.3M494.50 278.90h-2.3M64.00 269.76h2.3M494.50 269.76h-2.3M64.00 264.42h2.3M494.50 264.42h-2.3M64.00 260.63h2.3M494.50 260.63h-2.3M64.00 257.69h4.5M494.50 257.69h-4.5M64.00 248.56h2.3M494.50 248.56h-2.3M64.00 239.43h2.3M494.50 239.43h-2.3M64.00 234.08h2.3M494.50 234.08h-2.3M64.00 230.29h2.3M494.50 230.29h-2.3M64.00 227.35h4.5M494.50 227.35h-4.5M64.00 218.22h2.3M494.50 218.22h-2.3M64.00 209.09h2.3M494.50 209.09h-2.3M64.00 203.75h2.3M494.50 203.75h-2.3M64.00 199.96h2.3M494.50 199.96h-2.3M64.00 197.02h4.5M494.50 197.02h-4.5M64.00 187.89h2.3M494.50 187.89h-2.3M64.00 178.75h2.3M494.50 178.75h-2.3M64.00 173.41h2.3M494.50 173.41h-2.3M64.00 169.62h2.3M494.50 169.62h-2.3M64.00 166.68h4.5M494.50 166.68h-4.5M64.00 157.55h2.3M494.50 157.55h-2.3M64.00 148.42h2.3M494.50 148.42h-2.3M64.00 143.08h2.3M494.50 143.08h-2.3M64.00 139.29h2.3M494.50 139.29h-2.3M64.00 136.35h4.5M494.50 136.35h-4.5M64.00 127.21h2.3M494.50 127.21h-2.3M64.00 118.08h2.3M494.50 118.08h-2.3M64.00 112.74h2.3M494.50 112.74h-2.3M64.00 108.95h2.3M494.50 108.95h-2.3M64.00 106.01h4.5M494.50 106.01h-4.5M64.00 96.88h2.3M494.50 96.88h-2.3M64.00 87.74h2.3M494.50 87.74h-2.3M64.00 82.40h2.3M494.50 82.40h-2.3M64.00 78.61h2.3M494.50 78.61h-2.3M64.00 75.67h4.5M494.50 75.67h-4.5M64.00 66.54h2.3M494.50 66.54h-2.3M64.00 57.41h2.3M494.50 57.41h-2.3M64.00 52.07h2.3M494.50 52.07h-2.3M64.00 48.28h2.3M494.50 48.28h-2.3M64.00 45.34h4.5M494.50 45.34h-4.5M64.00 36.20h2.3M494.50 36.20h-2.3M64.00 27.07h2.3M494.50 27.07h-2.3M64.00 21.73h2.3M494.50 21.73h-2.3M64.00 17.94h2.3M494.50 17.94h-2.3" stroke="#000" stroke-width="0.9" fill="none"/>
<text x="60.53" y="362.60" font-size="14.5" textLength="8.14" lengthAdjust="spacingAndGlyphs" stroke="#000" stroke-width="0.35">0</text>
<text x="146.43" y="362.60" font-size="14.5" textLength="8.55" lengthAdjust="spacingAndGlyphs" stroke="#000" stroke-width="0.35">2</text>
<text x="232.98" y="362.60" font-size="14.5" textLength="7.73" lengthAdjust="spacingAndGlyphs" stroke="#000" stroke-width="0.35">4</text>
<text x="318.63" y="362.60" font-size="14.5" textLength="8.44" lengthAdjust="spacingAndGlyphs" stroke="#000" stroke-width="0.35">6</text>
<text x="404.85" y="362.60" font-size="14.5" textLength="8.30" lengthAdjust="spacingAndGlyphs" stroke="#000" stroke-width="0.35">8</text>
<text x="486.45" y="362.60" font-size="14.5" textLength="16.73" lengthAdjust="spacingAndGlyphs" stroke="#000" stroke-width="0.35">10</text>
<text x="236.16" y="380.90" font-size="14.5" textLength="87.69" lengthAdjust="spacingAndGlyphs" stroke="#000" stroke-width="0.35">Energy&#160;(a.u.)</text>
<text x="30.24" y="19.60" font-size="14.5" textLength="16.96" lengthAdjust="spacingAndGlyphs" stroke="#000" stroke-width="0.35">10</text>
<text x="46.90" y="12.70" font-size="9.6" textLength="9.96" lengthAdjust="spacingAndGlyphs" stroke="#000" stroke-width="0.35">-2</text>
<text x="30.24" y="49.94" font-size="14.5" textLength="16.96" lengthAdjust="spacingAndGlyphs" stroke="#000" stroke-width="0.35">10</text>
<text x="46.91" y="43.04" font-size="9.6" textLength="9.88" lengthAdjust="spacingAndGlyphs" stroke="#000" stroke-width="0.35">-3</text>
<text x="30.24" y="80.27" font-size="14.5" textLength="16.96" lengthAdjust="spacingAndGlyphs" stroke="#000" stroke-width="0.35">10</text>
<text x="46.92" y="73.37" font-size="9.6" textLength="9.70" lengthAdjust="spacingAndGlyphs" stroke="#000" stroke-width="0.35">-4</text>
<text x="30.24" y="110.61" font-size="14.5" textLength="16.96" lengthAdjust="spacingAndGlyphs" stroke="#000" stroke-width="0.35">10</text>
<text x="46.91" y="103.71" font-size="9.6" textLength="9.86" lengthAdjust="spacingAndGlyphs" stroke="#000" stroke-width="0.35">-5</text>
<text x="30.24" y="140.95" font-size="14.5" textLength="16.96" lengthAdjust="spacingAndGlyphs" stroke="#000" stroke-width="0.35">10</text>
<text x="46.91" y="134.05" font-size="9.6" textLength="9.88" lengthAdjust="spacingAndGlyphs" stroke="#000" stroke-width="0.35">-6</text>
<text x="30.24" y="171.28" font-size="14.5" textLength="16.96" lengthAdjust="spacingAndGlyphs" stroke="#000" stroke-width="0.35">10</text>
<text x="46.90" y="164.38" font-size="9.6" textLength="9.96" lengthAdjust="spacingAndGlyphs" stroke="#000" stroke-width="0.35">-7</text>
<text x="30.24" y="201.62" font-size="14.5" textLength="16.96" lengthAdjust="spacingAndGlyphs" stroke="#000" stroke-width="0.35">10</text>
<text x="46.91" y="194.72" font-size="9.6" textLength="9.88" lengthAdjust="spacingAndGlyphs" stroke="#000" stroke-width="0.35">-8</text>
<text x="30.24" y="231.95" font-size="14.5" textLength="16.96" lengthAdjust="spacingAndGlyphs" stroke="#000" stroke-width="0.35">10</text>
<text x="46.90" y="225.05" font-size="9.6" textLength="9.92" lengthAdjust="spacingAndGlyphs" stroke="#000" stroke-width="0.35">-9</text>
<text x="24.48" y="262.29" font-size="14.5" textLength="16.40" lengthAdjust="spacingAndGlyphs" stroke="#000" stroke-width="0.35">10</text>
<text x="41.22" y="255.39" font-size="9.6" textLength="15.71" lengthAdjust="spacingAndGlyphs" stroke="#000" stroke-width="0.35">-10</text>
<text x="24.48" y="292.63" font-size="14.5" textLength="16.40" lengthAdjust="spacingAndGlyphs" stroke="#000" stroke-width="0.35">10</text>
<text x="41.21" y="285.73" font-size="9.6" textLength="15.82" lengthAdjust="spacingAndGlyphs" stroke="#000" stroke-width="0.35">-11</text>
<text x="24.48" y="322.96" font-size="14.5" textLength="16.40" lengthAdjust="spacingAndGlyphs" stroke="#000" stroke-width="0.35">10</text>
<text x="41.21" y="316.06" font-size="9.6" textLength="15.84" lengthAdjust="spacingAndGlyphs" stroke="#000" stroke-width="0.35">-12</text>
<text x="24.48" y="353.30" font-size="14.5" textLength="16.40" lengthAdjust="spacingAndGlyphs" stroke="#000" stroke-width="0.35">10</text>
<text x="41.22" y="346.40" font-size="9.6" textLength="15.76" lengthAdjust="spacingAndGlyphs" stroke="#000" stroke-width="0.35">-13</text>
<text transform="translate(16.50,267.70) rotate(-90)" x="-1.26" y="0" font-size="14.5" textLength="175.51" lengthAdjust="spacingAndGlyphs" stroke="#000" stroke-width="0.35">Photo-electron&#160;yield&#160;(a.u.)</text>
<text x="417.96" y="39.50" font-size="13.7" textLength="58.66" lengthAdjust="spacingAndGlyphs" stroke="#000" stroke-width="0.35">ion:&#160;&#160;l,&#160;m</text>
<path d="M388 57.70H412.3" stroke="#0000ff" stroke-width="2.4"/>
<text x="429.60" y="62.70" font-size="16.5" textLength="50.99" lengthAdjust="spacingAndGlyphs" stroke="#000" stroke-width="0.35">1:&#160;2,&#160;1</text>
<path d="M388 81.66H412.3" stroke="#bf00bf" stroke-width="2.4"/>
<text x="429.60" y="86.66" font-size="16.5" textLength="50.99" lengthAdjust="spacingAndGlyphs" stroke="#000" stroke-width="0.35">1:&#160;3,&#160;1</text>
<path d="M388 105.62H412.3" stroke="#008000" stroke-width="2.4"/>
<text x="430.09" y="110.62" font-size="16.5" textLength="50.32" lengthAdjust="spacingAndGlyphs" stroke="#000" stroke-width="0.35">2:&#160;0,&#160;0</text>
<path d="M388.4 129.58H394.8M400.2 129.58H406.5" stroke="#ff0000" stroke-width="2.3"/>
<text x="430.09" y="134.58" font-size="16.5" textLength="50.32" lengthAdjust="spacingAndGlyphs" stroke="#000" stroke-width="0.35">2:&#160;2,&#160;0</text>
<path d="M388.4 153.54H394.8M400.2 153.54H406.5" stroke="#0000ff" stroke-width="2.3"/>
<text x="430.09" y="158.54" font-size="16.5" textLength="50.32" lengthAdjust="spacingAndGlyphs" stroke="#000" stroke-width="0.35">2:&#160;3,&#160;0</text>
<path d="M388 177.50H412.3" stroke="#00bfbf" stroke-width="2.4"/>
<text x="430.31" y="182.50" font-size="16.5" textLength="50.09" lengthAdjust="spacingAndGlyphs" stroke="#000" stroke-width="0.35">3:&#160;1,&#160;0</text>
<path d="M388.4 201.46H394.8M400.2 201.46H406.5" stroke="#000000" stroke-width="2.3"/>
<text x="430.31" y="206.46" font-size="16.5" textLength="50.09" lengthAdjust="spacingAndGlyphs" stroke="#000" stroke-width="0.35">3:&#160;0,&#160;0</text>
<path d="M388 225.42H412.3" stroke="#8b0000" stroke-width="2.4"/>
<text x="430.31" y="230.42" font-size="16.5" textLength="50.09" lengthAdjust="spacingAndGlyphs" stroke="#000" stroke-width="0.35">3:&#160;2,&#160;0</text>
</svg>
<svg width="1024" height="389" viewBox="0 0 1024 389">
<circle cx="749.40" cy="199.70" r="153.00" fill="#00008c"/>
</svg>
<div style="position:absolute;left:0;top:0"><div style="position:absolute;left:630.40px;top:80.70px;width:238px;height:238px;border-radius:50%;background:conic-gradient(#00008c 0deg,#00008c 10deg,#00008c 20deg,#00008c 30deg,#00008c 40deg,#00008c 50deg,#00008c 60deg,#00008c 70deg,#00008c 80deg,#00008c 90deg,#00008c 100deg,#00008c 110deg,#00008c 120deg,#00008c 130deg,#00008c 140deg,#00008c 150deg,#00008c 160deg,#00008c 170deg,#00008c 180deg,#00008c 190deg,#00008c 200deg,#00008c 210deg,#00008c 220deg,#00008c 230deg,#00008c 240deg,#00008c 250deg,#00008c 260deg,#00008c 270deg,#00008c 280deg,#00008c 290deg,#00008c 300deg,#00008c 310deg,#00008c 320deg,#00008c 330deg,#00008c 340deg,#00008c 350deg,#00008c 360deg)"></div><div style="position:absolute;left:631.40px;top:81.70px;width:236px;height:236px;border-radius:50%;background:conic-gradient(#00008c 0deg,#00008c 10deg,#00008c 20deg,#00008c 30deg,#00008c 40deg,#00008c 50deg,#00008c 60deg,#00008c 70deg,#00008c 80deg,#00008c 90deg,#00008c 100deg,#00008c 110deg,#00008c 120deg,#00008c 130deg,#00008c 140deg,#00008c 150deg,#00008c 160deg,#00008c 170deg,#00008c 180deg,#00008c 190deg,#00008c 200deg,#00008c 210deg,#00008c 220deg,#00008c 230deg,#00008c 240deg,#00008c 250deg,#00008c 260deg,#00008c 270deg,#00008c 280deg,#00008c 290deg,#00008c 300deg,#00008c 310deg,#00008c 320deg,#00008c 330deg,#00008c 340deg,#00008c 350deg,#00008c 360deg)"></div><div style="position:absolute;left:632.40px;top:82.70px;width:234px;height:234px;border-radius:50%;background:conic-gradient(#00008c 0deg,#00008c 10deg,#00008c 20deg,#00008c 30deg,#00008c 40deg,#00008c 50deg,#00008c 60deg,#00008c 70deg,#00008c 80deg,#00008c 90deg,#00008c 100deg,#00008c 110deg,#00008c 120deg,#00008c 130deg,#00008c 140deg,#00008c 150deg,#00008c 160deg,#00008c 170deg,#00008c 180deg,#00008c 190deg,#00008c 200deg,#00008c 210deg,#00008c 220deg,#00008c 230deg,#00008c 240deg,#00008c 250deg,#00008c 260deg,#00008c 270deg,#00008c 280deg,#00008c 290deg,#00008c 300deg,#00008c 310deg,#00008c 320deg,#00008c 330deg,#00008c 340deg,#00008c 350deg,#00008c 360deg)"></div><div style="position:absolute;left:633.40px;top:83.70px;width:232px;height:232px;border-radius:50%;background:conic-gradient(#00008c 0deg,#00008c 10deg,#00008c 20deg,#00008c 30deg,#00008c 40deg,#00008c 50deg,#00008c 60deg,#00008c 70deg,#00008c 80deg,#00008c 90deg,#00008c 100deg,#00008c 110deg,#00008c 120deg,#00008c 130deg,#00008c 140deg,#00008c 150deg,#00008c 160deg,#00008c 170deg,#00008c 180deg,#00008c 190deg,#00008c 200deg,#00008c 210deg,#00008c 220deg,#00008c 230deg,#00008c 240deg,#00008c 250deg,#00008c 260deg,#00008c 270deg,#00008c 280deg,#00008c 290deg,#00008c 300deg,#00008c 310deg,#00008c 320deg,#00008c 330deg,#00008c 340deg,#00008c 350deg,#00008c 360deg)"></div><div style="position:absolute;left:634.40px;top:84.70px;width:230px;height:230px;border-radius:50%;background:conic-gradient(#00008c 0deg,#00008c 10deg,#00008c 20deg,#00008c 30deg,#00008c 40deg,#0000a6 50deg,#0000a6 60deg,#0000a6 70deg,#0000a6 80deg,#0000a6 90deg,#0000a6 100deg,#0000a6 110deg,#0000a6 120deg,#0000a6 130deg,#00008c 140deg,#00008c 150deg,#00008c 160deg,#00008c 170deg,#00008c 180deg,#00008c 190deg,#00008c 200deg,#00008c 210deg,#00008c 220deg,#0000a6 230deg,#0000a6 240deg,#0000a6 250deg,#0000a6 260deg,#0000a6 270deg,#0000a6 280deg,#0000a6 290deg,#0000a6 300deg,#0000a6 310deg,#00008c 320deg,#00008c 330deg,#00008c 340deg,#00008c 350deg,#00008c 360deg)"></div><div style="position:absolute;left:635.40px;top:85.70px;width:228px;height:228px;border-radius:50%;background:conic-gradient(#00008c 0deg,#00008c 10deg,#0000a6 20deg,#0000a6 30deg,#0000c0 40deg,#0000c0 50deg,#0000da 60deg,#0000da 70deg,#0000da 80deg,#0000f3 90deg,#0000da 100deg,#0000da 110deg,#0000da 120deg,#0000c0 130deg,#0000c0 140deg,#0000a6 150deg,#0000a6 160deg,#00008c 170deg,#00008c 180deg,#00008c 190deg,#0000a6 200deg,#0000a6 210deg,#0000c0 220deg,#0000c0 230deg,#0000da 240deg,#0000da 250deg,#0000da 260deg,#0000f3 270deg,#0000da 280deg,#0000da 290deg,#0000da 300deg,#0000c0 310deg,#0000c0 320deg,#0000a6 330deg,#0000a6 340deg,#00008c 350deg,#00008c 360deg)"></div><div style="position:absolute;left:636.40px;top:86.70px;width:226px;height:226px;border-radius:50%;background:conic-gradient(#0000a6 0deg,#0000a6 10deg,#0000c0 20deg,#0000da 30deg,#0000f3 40deg,#0000ff 50deg,#002aff 60deg,#002aff 70deg,#0041ff 80deg,#0041ff 90deg,#0041ff 100deg,#002aff 110deg,#002aff 120deg,#0000ff 130deg,#0000f3 140deg,#0000da 150deg,#0000c0 160deg,#0000a6 170deg,#0000a6 180deg,#0000a6 190deg,#0000c0 200deg,#0000da 210deg,#0000f3 220deg,#0000ff 230deg,#002aff 240deg,#002aff 250deg,#0041ff 260deg,#0041ff 270deg,#0041ff 280deg,#002aff 290deg,#002aff 300deg,#0000ff 310deg,#0000f3 320deg,#0000da 330deg,#0000c0 340deg,#0000a6 350deg,#0000a6 360deg)"></div><div style="position:absolute;left:637.40px;top:87.70px;width:224px;height:224px;border-radius:50%;background:conic-gradient(#0000c0 0deg,#0000da 10deg,#0000f3 20deg,#0014ff 30deg,#0041ff 40deg,#006eff 50deg,#00b2ff 60deg,#00e0fb 70deg,#0ef6e9 80deg,#0ef6e9 90deg,#0ef6e9 100deg,#00e0fb 110deg,#00b2ff 120deg,#006eff 130deg,#0041ff 140deg,#0014ff 150deg,#0000f3 160deg,#0000da 170deg,#0000c0 180deg,#0000da 190deg,#0000f3 200deg,#0014ff 210deg,#0041ff 220deg,#006eff 230deg,#00b2ff 240deg,#00e0fb 250deg,#0ef6e9 260deg,#0ef6e9 270deg,#0ef6e9 280deg,#00e0fb 290deg,#00b2ff 300deg,#006eff 310deg,#0041ff 320deg,#0014ff 330deg,#0000f3 340deg,#0000da 350deg,#0000c0 360deg)"></div><div style="position:absolute;left:638.40px;top:88.70px;width:222px;height:222px;border-radius:50%;background:conic-gradient(#0000f3 0deg,#0000ff 10deg,#002aff 20deg,#006eff 30deg,#00b2ff 40deg,#20ffd7 50deg,#69ff8e 60deg,#a0ff57 70deg,#c5ff32 80deg,#c5ff32 90deg,#c5ff32 100deg,#a0ff57 110deg,#69ff8e 120deg,#20ffd7 130deg,#00b2ff 140deg,#006eff 150deg,#002aff 160deg,#0000ff 170deg,#0000f3 180deg,#0000ff 190deg,#002aff 200deg,#006eff 210deg,#00b2ff 220deg,#20ffd7 230deg,#69ff8e 240deg,#a0ff57 250deg,#c5ff32 260deg,#c5ff32 270deg,#c5ff32 280deg,#a0ff57 290deg,#69ff8e 300deg,#20ffd7 310deg,#00b2ff 320deg,#006eff 330deg,#002aff 340deg,#0000ff 350deg,#0000f3 360deg)"></div><div style="position:absolute;left:639.40px;top:89.70px;width:220px;height:220px;border-radius:50%;background:conic-gradient(#0014ff 0deg,#002aff 10deg,#006eff 20deg,#00c9ff 30deg,#45ffb2 40deg,#a0ff57 50deg,#fbf000 60deg,#ff9c00 70deg,#ff5d00 80deg,#ff5d00 90deg,#ff5d00 100deg,#ff9c00 110deg,#fbf000 120deg,#a0ff57 130deg,#45ffb2 140deg,#00c9ff 150deg,#006eff 160deg,#002aff 170deg,#0014ff 180deg,#002aff 190deg,#006eff 200deg,#00c9ff 210deg,#45ffb2 220deg,#a0ff57 230deg,#fbf000 240deg,#ff9c00 250deg,#ff5d00 260deg,#ff5d00 270deg,#ff5d00 280deg,#ff9c00 290deg,#fbf000 300deg,#a0ff57 310deg,#45ffb2 320deg,#00c9ff 330deg,#006eff 340deg,#002aff 350deg,#0014ff 360deg)"></div><div style="position:absolute;left:640.40px;top:90.70px;width:218px;height:218px;border-radius:50%;background:conic-gradient(#002aff 0deg,#0041ff 10deg,#009cff 20deg,#0ef6e9 30deg,#7bff7b 40deg,#e9ff0e 50deg,#ff8700 60deg,#ff1e00 70deg,#c00000 80deg,#a60000 90deg,#c00000 100deg,#ff1e00 110deg,#ff8700 120deg,#e9ff0e 130deg,#7bff7b 140deg,#0ef6e9 150deg,#009cff 160deg,#0041ff 170deg,#002aff 180deg,#0041ff 190deg,#009cff 200deg,#0ef6e9 210deg,#7bff7b 220deg,#e9ff0e 230deg,#ff8700 240deg,#ff1e00 250deg,#c00000 260deg,#a60000 270deg,#c00000 280deg,#ff1e00 290deg,#ff8700 300deg,#e9ff0e 310deg,#7bff7b 320deg,#0ef6e9 330deg,#009cff 340deg,#0041ff 350deg,#002aff 360deg)"></div><div style="position:absolute;left:641.40px;top:91.70px;width:216px;height:216px;border-radius:50%;background:conic-gradient(#0041ff 0deg,#0058ff 10deg,#009cff 20deg,#20ffd7 30deg,#8eff69 40deg,#fbf000 50deg,#ff7200 60deg,#f30900 70deg,#a60000 80deg,#8c0000 90deg,#a60000 100deg,#f30900 110deg,#ff7200 120deg,#fbf000 130deg,#8eff69 140deg,#20ffd7 150deg,#009cff 160deg,#0058ff 170deg,#0041ff 180deg,#0058ff 190deg,#009cff 200deg,#20ffd7 210deg,#8eff69 220deg,#fbf000 230deg,#ff7200 240deg,#f30900 250deg,#a60000 260deg,#8c0000 270deg,#a60000 280deg,#f30900 290deg,#ff7200 300deg,#fbf000 310deg,#8eff69 320deg,#20ffd7 330deg,#009cff 340deg,#0058ff 350deg,#0041ff 360deg)"></div><div style="position:absolute;left:642.40px;top:92.70px;width:214px;height:214px;border-radius:50%;background:conic-gradient(#0014ff 0deg,#002aff 10deg,#006eff 20deg,#00c9ff 30deg,#57ffa0 40deg,#b2ff45 50deg,#ffdb00 60deg,#ff8700 70deg,#ff4800 80deg,#ff3300 90deg,#ff4800 100deg,#ff8700 110deg,#ffdb00 120deg,#b2ff45 130deg,#57ffa0 140deg,#00c9ff 150deg,#006eff 160deg,#002aff 170deg,#0014ff 180deg,#002aff 190deg,#006eff 200deg,#00c9ff 210deg,#57ffa0 220deg,#b2ff45 230deg,#ffdb00 240deg,#ff8700 250deg,#ff4800 260deg,#ff3300 270deg,#ff4800 280deg,#ff8700 290deg,#ffdb00 300deg,#b2ff45 310deg,#57ffa0 320deg,#00c9ff 330deg,#006eff 340deg,#002aff 350deg,#0014ff 360deg)"></div><div style="position:absolute;left:643.40px;top:93.70px;width:212px;height:212px;border-radius:50%;background:conic-gradient(#0000ff 0deg,#0000ff 10deg,#002aff 20deg,#0085ff 30deg,#00c9ff 40deg,#45ffb2 50deg,#7bff7b 60deg,#c5ff32 70deg,#e9ff0e 80deg,#e9ff0e 90deg,#e9ff0e 100deg,#c5ff32 110deg,#7bff7b 120deg,#45ffb2 130deg,#00c9ff 140deg,#0085ff 150deg,#002aff 160deg,#0000ff 170deg,#0000ff 180deg,#0000ff 190deg,#002aff 200deg,#0085ff 210deg,#00c9ff 220deg,#45ffb2 230deg,#7bff7b 240deg,#c5ff32 250deg,#e9ff0e 260deg,#e9ff0e 270deg,#e9ff0e 280deg,#c5ff32 290deg,#7bff7b 300deg,#45ffb2 310deg,#00c9ff 320deg,#0085ff 330deg,#002aff 340deg,#0000ff 350deg,#0000ff 360deg)"></div><div style="position:absolute;left:644.40px;top:94.70px;width:210px;height:210px;border-radius:50%;background:conic-gradient(#0000da 0deg,#0000da 10deg,#0000ff 20deg,#002aff 30deg,#0058ff 40deg,#009cff 50deg,#00c9ff 60deg,#0ef6e9 70deg,#32ffc5 80deg,#32ffc5 90deg,#32ffc5 100deg,#0ef6e9 110deg,#00c9ff 120deg,#009cff 130deg,#0058ff 140deg,#002aff 150deg,#0000ff 160deg,#0000da 170deg,#0000da 180deg,#0000da 190deg,#0000ff 200deg,#002aff 210deg,#0058ff 220deg,#009cff 230deg,#00c9ff 240deg,#0ef6e9 250deg,#32ffc5 260deg,#32ffc5 270deg,#32ffc5 280deg,#0ef6e9 290deg,#00c9ff 300deg,#009cff 310deg,#0058ff 320deg,#002aff 330deg,#0000ff 340deg,#0000da 350deg,#0000da 360deg)"></div><div style="position:absolute;left:645.40px;top:95.70px;width:208px;height:208px;border-radius:50%;background:conic-gradient(#0000a6 0deg,#0000c0 10deg,#0000c0 20deg,#0000da 30deg,#0000ff 40deg,#0014ff 50deg,#0041ff 60deg,#0058ff 70deg,#0058ff 80deg,#006eff 90deg,#0058ff 100deg,#0058ff 110deg,#0041ff 120deg,#0014ff 130deg,#0000ff 140deg,#0000da 150deg,#0000c0 160deg,#0000c0 170deg,#0000a6 180deg,#0000c0 190deg,#0000c0 200deg,#0000da 210deg,#0000ff 220deg,#0014ff 230deg,#0041ff 240deg,#0058ff 250deg,#0058ff 260deg,#006eff 270deg,#0058ff 280deg,#0058ff 290deg,#0041ff 300deg,#0014ff 310deg,#0000ff 320deg,#0000da 330deg,#0000c0 340deg,#0000c0 350deg,#0000a6 360deg)"></div><div style="position:absolute;left:646.40px;top:96.70px;width:206px;height:206px;border-radius:50%;background:conic-gradient(#00008c 0deg,#00008c 10deg,#0000a6 20deg,#0000a6 30deg,#0000c0 40deg,#0000da 50deg,#0000da 60deg,#0000f3 70deg,#0000f3 80deg,#0000f3 90deg,#0000f3 100deg,#0000f3 110deg,#0000da 120deg,#0000da 130deg,#0000c0 140deg,#0000a6 150deg,#0000a6 160deg,#00008c 170deg,#00008c 180deg,#00008c 190deg,#0000a6 200deg,#0000a6 210deg,#0000c0 220deg,#0000da 230deg,#0000da 240deg,#0000f3 250deg,#0000f3 260deg,#0000f3 270deg,#0000f3 280deg,#0000f3 290deg,#0000da 300deg,#0000da 310deg,#0000c0 320deg,#0000a6 330deg,#0000a6 340deg,#00008c 350deg,#00008c 360deg)"></div><div style="position:absolute;left:647.40px;top:97.70px;width:204px;height:204px;border-radius:50%;background:conic-gradient(#00008c 0deg,#00008c 10deg,#00008c 20deg,#00008c 30deg,#0000a6 40deg,#0000a6 50deg,#0000a6 60deg,#0000a6 70deg,#0000a6 80deg,#0000a6 90deg,#0000a6 100deg,#0000a6 110deg,#0000a6 120deg,#0000a6 130deg,#0000a6 140deg,#00008c 150deg,#00008c 160deg,#00008c 170deg,#00008c 180deg,#00008c 190deg,#00008c 200deg,#00008c 210deg,#0000a6 220deg,#0000a6 230deg,#0000a6 240deg,#0000a6 250deg,#0000a6 260deg,#0000a6 270deg,#0000a6 280deg,#0000a6 290deg,#0000a6 300deg,#0000a6 310deg,#0000a6 320deg,#00008c 330deg,#00008c 340deg,#00008c 350deg,#00008c 360deg)"></div><div style="position:absolute;left:648.40px;top:98.70px;width:202px;height:202px;border-radius:50%;background:conic-gradient(#00008c 0deg,#00008c 10deg,#00008c 20deg,#00008c 30deg,#00008c 40deg,#00008c 50deg,#00008c 60deg,#00008c 70deg,#00008c 80deg,#00008c 90deg,#00008c 100deg,#00008c 110deg,#00008c 120deg,#00008c 130deg,#00008c 140deg,#00008c 150deg,#00008c 160deg,#00008c 170deg,#00008c 180deg,#00008c 190deg,#00008c 200deg,#00008c 210deg,#00008c 220deg,#00008c 230deg,#00008c 240deg,#00008c 250deg,#00008c 260deg,#00008c 270deg,#00008c 280deg,#00008c 290deg,#00008c 300deg,#00008c 310deg,#00008c 320deg,#00008c 330deg,#00008c 340deg,#00008c 350deg,#00008c 360deg)"></div><div style="position:absolute;left:649.40px;top:99.70px;width:200px;height:200px;border-radius:50%;background:conic-gradient(#00008c 0deg,#00008c 10deg,#00008c 20deg,#00008c 30deg,#00008c 40deg,#00008c 50deg,#00008c 60deg,#00008c 70deg,#00008c 80deg,#00008c 90deg,#00008c 100deg,#00008c 110deg,#00008c 120deg,#00008c 130deg,#00008c 140deg,#00008c 150deg,#00008c 160deg,#00008c 170deg,#00008c 180deg,#00008c 190deg,#00008c 200deg,#00008c 210deg,#00008c 220deg,#00008c 230deg,#00008c 240deg,#00008c 250deg,#00008c 260deg,#00008c 270deg,#00008c 280deg,#00008c 290deg,#00008c 300deg,#00008c 310deg,#00008c 320deg,#00008c 330deg,#00008c 340deg,#00008c 350deg,#00008c 360deg)"></div><div style="position:absolute;left:650.40px;top:100.70px;width:198px;height:198px;border-radius:50%;background:conic-gradient(#00008c 0deg,#00008c 10deg,#00008c 20deg,#00008c 30deg,#00008c 40deg,#00008c 50deg,#00008c 60deg,#00008c 70deg,#00008c 80deg,#00008c 90deg,#00008c 100deg,#00008c 110deg,#00008c 120deg,#00008c 130deg,#00008c 140deg,#00008c 150deg,#00008c 160deg,#00008c 170deg,#00008c 180deg,#00008c 190deg,#00008c 200deg,#00008c 210deg,#00008c 220deg,#00008c 230deg,#00008c 240deg,#00008c 250deg,#00008c 260deg,#00008c 270deg,#00008c 280deg,#00008c 290deg,#00008c 300deg,#00008c 310deg,#00008c 320deg,#00008c 330deg,#00008c 340deg,#00008c 350deg,#00008c 360deg)"></div><div style="position:absolute;left:651.40px;top:101.70px;width:196px;height:196px;border-radius:50%;background:conic-gradient(#00008c 0deg,#00008c 10deg,#00008c 20deg,#00008c 30deg,#00008c 40deg,#00008c 50deg,#00008c 60deg,#00008c 70deg,#00008c 80deg,#00008c 90deg,#00008c 100deg,#00008c 110deg,#00008c 120deg,#00008c 130deg,#00008c 140deg,#00008c 150deg,#00008c 160deg,#00008c 170deg,#00008c 180deg,#00008c 190deg,#00008c 200deg,#00008c 210deg,#00008c 220deg,#00008c 230deg,#00008c 240deg,#00008c 250deg,#00008c 260deg,#00008c 270deg,#00008c 280deg,#00008c 290deg,#00008c 300deg,#00008c 310deg,#00008c 320deg,#00008c 330deg,#00008c 340deg,#00008c 350deg,#00008c 360deg)"></div><div style="position:absolute;left:652.40px;top:102.70px;width:194px;height:194px;border-radius:50%;background:conic-gradient(#00008c 0deg,#00008c 10deg,#00008c 20deg,#00008c 30deg,#00008c 40deg,#00008c 50deg,#00008c 60deg,#00008c 70deg,#00008c 80deg,#00008c 90deg,#00008c 100deg,#00008c 110deg,#00008c 120deg,#00008c 130deg,#00008c 140deg,#00008c 150deg,#00008c 160deg,#00008c 170deg,#00008c 180deg,#00008c 190deg,#00008c 200deg,#00008c 210deg,#00008c 220deg,#00008c 230deg,#00008c 240deg,#00008c 250deg,#00008c 260deg,#00008c 270deg,#00008c 280deg,#00008c 290deg,#00008c 300deg,#00008c 310deg,#00008c 320deg,#00008c 330deg,#00008c 340deg,#00008c 350deg,#00008c 360deg)"></div><div style="position:absolute;left:653.40px;top:103.70px;width:192px;height:192px;border-radius:50%;background:conic-gradient(#00008c 0deg,#00008c 10deg,#00008c 20deg,#00008c 30deg,#00008c 40deg,#0000a6 50deg,#0000a6 60deg,#0000a6 70deg,#0000a6 80deg,#0000a6 90deg,#0000a6 100deg,#0000a6 110deg,#0000a6 120deg,#0000a6 130deg,#00008c 140deg,#00008c 150deg,#00008c 160deg,#00008c 170deg,#00008c 180deg,#00008c 190deg,#00008c 200deg,#00008c 210deg,#00008c 220deg,#0000a6 230deg,#0000a6 240deg,#0000a6 250deg,#0000a6 260deg,#0000a6 270deg,#0000a6 280deg,#0000a6 290deg,#0000a6 300deg,#0000a6 310deg,#00008c 320deg,#00008c 330deg,#00008c 340deg,#00008c 350deg,#00008c 360deg)"></div><div style="position:absolute;left:654.40px;top:104.70px;width:190px;height:190px;border-radius:50%;background:conic-gradient(#00008c 0deg,#00008c 10deg,#00008c 20deg,#00008c 30deg,#0000a6 40deg,#0000c0 50deg,#0000c0 60deg,#0000da 70deg,#0000da 80deg,#0000da 90deg,#0000da 100deg,#0000da 110deg,#0000c0 120deg,#0000c0 130deg,#0000a6 140deg,#00008c 150deg,#00008c 160deg,#00008c 170deg,#00008c 180deg,#00008c 190deg,#00008c 200deg,#00008c 210deg,#0000a6 220deg,#0000c0 230deg,#0000c0 240deg,#0000da 250deg,#0000da 260deg,#0000da 270deg,#0000da 280deg,#0000da 290deg,#0000c0 300deg,#0000c0 310deg,#0000a6 320deg,#00008c 330deg,#00008c 340deg,#00008c 350deg,#00008c 360deg)"></div><div style="position:absolute;left:655.40px;top:105.70px;width:188px;height:188px;border-radius:50%;background:conic-gradient(#00008c 0deg,#00008c 10deg,#00008c 20deg,#0000a6 30deg,#0000da 40deg,#0000f3 50deg,#0000ff 60deg,#0014ff 70deg,#002aff 80deg,#002aff 90deg,#002aff 100deg,#0014ff 110deg,#0000ff 120deg,#0000f3 130deg,#0000da 140deg,#0000a6 150deg,#00008c 160deg,#00008c 170deg,#00008c 180deg,#00008c 190deg,#00008c 200deg,#0000a6 210deg,#0000da 220deg,#0000f3 230deg,#0000ff 240deg,#0014ff 250deg,#002aff 260deg,#002aff 270deg,#002aff 280deg,#0014ff 290deg,#0000ff 300deg,#0000f3 310deg,#0000da 320deg,#0000a6 330deg,#00008c 340deg,#00008c 350deg,#00008c 360deg)"></div><div style="position:absolute;left:656.40px;top:106.70px;width:186px;height:186px;border-radius:50%;background:conic-gradient(#00008c 0deg,#00008c 10deg,#0000a6 20deg,#0000c0 30deg,#0000f3 40deg,#0014ff 50deg,#0041ff 60deg,#0058ff 70deg,#006eff 80deg,#0085ff 90deg,#006eff 100deg,#0058ff 110deg,#0041ff 120deg,#0014ff 130deg,#0000f3 140deg,#0000c0 150deg,#0000a6 160deg,#00008c 170deg,#00008c 180deg,#00008c 190deg,#0000a6 200deg,#0000c0 210deg,#0000f3 220deg,#0014ff 230deg,#0041ff 240deg,#0058ff 250deg,#006eff 260deg,#0085ff 270deg,#006eff 280deg,#0058ff 290deg,#0041ff 300deg,#0014ff 310deg,#0000f3 320deg,#0000c0 330deg,#0000a6 340deg,#00008c 350deg,#00008c 360deg)"></div><div style="position:absolute;left:657.40px;top:107.70px;width:184px;height:184px;border-radius:50%;background:conic-gradient(#00008c 0deg,#00008c 10deg,#0000a6 20deg,#0000da 30deg,#0000ff 40deg,#0041ff 50deg,#006eff 60deg,#009cff 70deg,#00b2ff 80deg,#00c9ff 90deg,#00b2ff 100deg,#009cff 110deg,#006eff 120deg,#0041ff 130deg,#0000ff 140deg,#0000da 150deg,#0000a6 160deg,#00008c 170deg,#00008c 180deg,#00008c 190deg,#0000a6 200deg,#0000da 210deg,#0000ff 220deg,#0041ff 230deg,#006eff 240deg,#009cff 250deg,#00b2ff 260deg,#00c9ff 270deg,#00b2ff 280deg,#009cff 290deg,#006eff 300deg,#0041ff 310deg,#0000ff 320deg,#0000da 330deg,#0000a6 340deg,#00008c 350deg,#00008c 360deg)"></div><div style="position:absolute;left:658.40px;top:108.70px;width:182px;height:182px;border-radius:50%;background:conic-gradient(#00008c 0deg,#00008c 10deg,#0000a6 20deg,#0000da 30deg,#0014ff 40deg,#0041ff 50deg,#0085ff 60deg,#00b2ff 70deg,#00c9ff 80deg,#00c9ff 90deg,#00c9ff 100deg,#00b2ff 110deg,#0085ff 120deg,#0041ff 130deg,#0014ff 140deg,#0000da 150deg,#0000a6 160deg,#00008c 170deg,#00008c 180deg,#00008c 190deg,#0000a6 200deg,#0000da 210deg,#0014ff 220deg,#0041ff 230deg,#0085ff 240deg,#00b2ff 250deg,#00c9ff 260deg,#00c9ff 270deg,#00c9ff 280deg,#00b2ff 290deg,#0085ff 300deg,#0041ff 310deg,#0014ff 320deg,#0000da 330deg,#0000a6 340deg,#00008c 350deg,#00008c 360deg)"></div><div style="position:absolute;left:659.40px;top:109.70px;width:180px;height:180px;border-radius:50%;background:conic-gradient(#00008c 0deg,#00008c 10deg,#0000a6 20deg,#0000da 30deg,#0000ff 40deg,#002aff 50deg,#0058ff 60deg,#0085ff 70deg,#009cff 80deg,#009cff 90deg,#009cff 100deg,#0085ff 110deg,#0058ff 120deg,#002aff 130deg,#0000ff 140deg,#0000da 150deg,#0000a6 160deg,#00008c 170deg,#00008c 180deg,#00008c 190deg,#0000a6 200deg,#0000da 210deg,#0000ff 220deg,#002aff 230deg,#0058ff 240deg,#0085ff 250deg,#009cff 260deg,#009cff 270deg,#009cff 280deg,#0085ff 290deg,#0058ff 300deg,#002aff 310deg,#0000ff 320deg,#0000da 330deg,#0000a6 340deg,#00008c 350deg,#00008c 360deg)"></div><div style="position:absolute;left:660.40px;top:110.70px;width:178px;height:178px;border-radius:50%;background:conic-gradient(#00008c 0deg,#00008c 10deg,#0000a6 20deg,#0000c0 30deg,#0000da 40deg,#0000ff 50deg,#0014ff 60deg,#0041ff 70deg,#0041ff 80deg,#0058ff 90deg,#0041ff 100deg,#0041ff 110deg,#0014ff 120deg,#0000ff 130deg,#0000da 140deg,#0000c0 150deg,#0000a6 160deg,#00008c 170deg,#00008c 180deg,#00008c 190deg,#0000a6 200deg,#0000c0 210deg,#0000da 220deg,#0000ff 230deg,#0014ff 240deg,#0041ff 250deg,#0041ff 260deg,#0058ff 270deg,#0041ff 280deg,#0041ff 290deg,#0014ff 300deg,#0000ff 310deg,#0000da 320deg,#0000c0 330deg,#0000a6 340deg,#00008c 350deg,#00008c 360deg)"></div><div style="position:absolute;left:661.40px;top:111.70px;width:176px;height:176px;border-radius:50%;background:conic-gradient(#00008c 0deg,#00008c 10deg,#00008c 20deg,#0000a6 30deg,#0000c0 40deg,#0000da 50deg,#0000f3 60deg,#0000f3 70deg,#0000ff 80deg,#0000ff 90deg,#0000ff 100deg,#0000f3 110deg,#0000f3 120deg,#0000da 130deg,#0000c0 140deg,#0000a6 150deg,#00008c 160deg,#00008c 170deg,#00008c 180deg,#00008c 190deg,#00008c 200deg,#0000a6 210deg,#0000c0 220deg,#0000da 230deg,#0000f3 240deg,#0000f3 250deg,#0000ff 260deg,#0000ff 270deg,#0000ff 280deg,#0000f3 290deg,#0000f3 300deg,#0000da 310deg,#0000c0 320deg,#0000a6 330deg,#00008c 340deg,#00008c 350deg,#00008c 360deg)"></div><div style="position:absolute;left:662.40px;top:112.70px;width:174px;height:174px;border-radius:50%;background:conic-gradient(#00008c 0deg,#00008c 10deg,#00008c 20deg,#00008c 30deg,#0000a6 40deg,#0000a6 50deg,#0000c0 60deg,#0000c0 70deg,#0000c0 80deg,#0000c0 90deg,#0000c0 100deg,#0000c0 110deg,#0000c0 120deg,#0000a6 130deg,#0000a6 140deg,#00008c 150deg,#00008c 160deg,#00008c 170deg,#00008c 180deg,#00008c 190deg,#00008c 200deg,#00008c 210deg,#0000a6 220deg,#0000a6 230deg,#0000c0 240deg,#0000c0 250deg,#0000c0 260deg,#0000c0 270deg,#0000c0 280deg,#0000c0 290deg,#0000c0 300deg,#0000a6 310deg,#0000a6 320deg,#00008c 330deg,#00008c 340deg,#00008c 350deg,#00008c 360deg)"></div><div style="position:absolute;left:663.40px;top:113.70px;width:172px;height:172px;border-radius:50%;background:conic-gradient(#00008c 0deg,#00008c 10deg,#00008c 20deg,#00008c 30deg,#00008c 40deg,#00008c 50deg,#00008c 60deg,#00008c 70deg,#0000a6 80deg,#0000a6 90deg,#0000a6 100deg,#00008c 110deg,#00008c 120deg,#00008c 130deg,#00008c 140deg,#00008c 150deg,#00008c 160deg,#00008c 170deg,#00008c 180deg,#00008c 190deg,#00008c 200deg,#00008c 210deg,#00008c 220deg,#00008c 230deg,#00008c 240deg,#00008c 250deg,#0000a6 260deg,#0000a6 270deg,#0000a6 280deg,#00008c 290deg,#00008c 300deg,#00008c 310deg,#00008c 320deg,#00008c 330deg,#00008c 340deg,#00008c 350deg,#00008c 360deg)"></div><div style="position:absolute;left:664.40px;top:114.70px;width:170px;height:170px;border-radius:50%;background:conic-gradient(#00008c 0deg,#00008c 10deg,#00008c 20deg,#00008c 30deg,#00008c 40deg,#00008c 50deg,#00008c 60deg,#00008c 70deg,#00008c 80deg,#00008c 90deg,#00008c 100deg,#00008c 110deg,#00008c 120deg,#00008c 130deg,#00008c 140deg,#00008c 150deg,#00008c 160deg,#00008c 170deg,#00008c 180deg,#00008c 190deg,#00008c 200deg,#00008c 210deg,#00008c 220deg,#00008c 230deg,#00008c 240deg,#00008c 250deg,#00008c 260deg,#00008c 270deg,#00008c 280deg,#00008c 290deg,#00008c 300deg,#00008c 310deg,#00008c 320deg,#00008c 330deg,#00008c 340deg,#00008c 350deg,#00008c 360deg)"></div><div style="position:absolute;left:665.40px;top:115.70px;width:168px;height:168px;border-radius:50%;background:conic-gradient(#00008c 0deg,#00008c 10deg,#00008c 20deg,#00008c 30deg,#00008c 40deg,#00008c 50deg,#00008c 60deg,#00008c 70deg,#00008c 80deg,#00008c 90deg,#00008c 100deg,#00008c 110deg,#00008c 120deg,#00008c 130deg,#00008c 140deg,#00008c 150deg,#00008c 160deg,#00008c 170deg,#00008c 180deg,#00008c 190deg,#00008c 200deg,#00008c 210deg,#00008c 220deg,#00008c 230deg,#00008c 240deg,#00008c 250deg,#00008c 260deg,#00008c 270deg,#00008c 280deg,#00008c 290deg,#00008c 300deg,#00008c 310deg,#00008c 320deg,#00008c 330deg,#00008c 340deg,#00008c 350deg,#00008c 360deg)"></div><div style="position:absolute;left:666.40px;top:116.70px;width:166px;height:166px;border-radius:50%;background:conic-gradient(#00008c 0deg,#00008c 10deg,#00008c 20deg,#00008c 30deg,#00008c 40deg,#00008c 50deg,#00008c 60deg,#00008c 70deg,#00008c 80deg,#00008c 90deg,#00008c 100deg,#00008c 110deg,#00008c 120deg,#00008c 130deg,#00008c 140deg,#00008c 150deg,#00008c 160deg,#00008c 170deg,#00008c 180deg,#00008c 190deg,#00008c 200deg,#00008c 210deg,#00008c 220deg,#00008c 230deg,#00008c 240deg,#00008c 250deg,#00008c 260deg,#00008c 270deg,#00008c 280deg,#00008c 290deg,#00008c 300deg,#00008c 310deg,#00008c 320deg,#00008c 330deg,#00008c 340deg,#00008c 350deg,#00008c 360deg)"></div><div style="position:absolute;left:667.40px;top:117.70px;width:164px;height:164px;border-radius:50%;background:conic-gradient(#00008c 0deg,#00008c 10deg,#00008c 20deg,#00008c 30deg,#00008c 40deg,#00008c 50deg,#00008c 60deg,#00008c 70deg,#00008c 80deg,#00008c 90deg,#00008c 100deg,#00008c 110deg,#00008c 120deg,#00008c 130deg,#00008c 140deg,#00008c 150deg,#00008c 160deg,#00008c 170deg,#00008c 180deg,#00008c 190deg,#00008c 200deg,#00008c 210deg,#00008c 220deg,#00008c 230deg,#00008c 240deg,#00008c 250deg,#00008c 260deg,#00008c 270deg,#00008c 280deg,#00008c 290deg,#00008c 300deg,#00008c 310deg,#00008c 320deg,#00008c 330deg,#00008c 340deg,#00008c 350deg,#00008c 360deg)"></div><div style="position:absolute;left:668.40px;top:118.70px;width:162px;height:162px;border-radius:50%;background:conic-gradient(#00008c 0deg,#00008c 10deg,#00008c 20deg,#00008c 30deg,#00008c 40deg,#00008c 50deg,#00008c 60deg,#00008c 70deg,#00008c 80deg,#00008c 90deg,#00008c 100deg,#00008c 110deg,#00008c 120deg,#00008c 130deg,#00008c 140deg,#00008c 150deg,#00008c 160deg,#00008c 170deg,#00008c 180deg,#00008c 190deg,#00008c 200deg,#00008c 210deg,#00008c 220deg,#00008c 230deg,#00008c 240deg,#00008c 250deg,#00008c 260deg,#00008c 270deg,#00008c 280deg,#00008c 290deg,#00008c 300deg,#00008c 310deg,#00008c 320deg,#00008c 330deg,#00008c 340deg,#00008c 350deg,#00008c 360deg)"></div><div style="position:absolute;left:669.40px;top:119.70px;width:160px;height:160px;border-radius:50%;background:conic-gradient(#00008c 0deg,#00008c 10deg,#00008c 20deg,#00008c 30deg,#00008c 40deg,#00008c 50deg,#00008c 60deg,#00008c 70deg,#00008c 80deg,#00008c 90deg,#00008c 100deg,#00008c 110deg,#00008c 120deg,#00008c 130deg,#00008c 140deg,#00008c 150deg,#00008c 160deg,#00008c 170deg,#00008c 180deg,#00008c 190deg,#00008c 200deg,#00008c 210deg,#00008c 220deg,#00008c 230deg,#00008c 240deg,#00008c 250deg,#00008c 260deg,#00008c 270deg,#00008c 280deg,#00008c 290deg,#00008c 300deg,#00008c 310deg,#00008c 320deg,#00008c 330deg,#00008c 340deg,#00008c 350deg,#00008c 360deg)"></div><div style="position:absolute;left:670.40px;top:120.70px;width:158px;height:158px;border-radius:50%;background:conic-gradient(#00008c 0deg,#00008c 10deg,#00008c 20deg,#00008c 30deg,#00008c 40deg,#00008c 50deg,#00008c 60deg,#00008c 70deg,#00008c 80deg,#00008c 90deg,#00008c 100deg,#00008c 110deg,#00008c 120deg,#00008c 130deg,#00008c 140deg,#00008c 150deg,#00008c 160deg,#00008c 170deg,#00008c 180deg,#00008c 190deg,#00008c 200deg,#00008c 210deg,#00008c 220deg,#00008c 230deg,#00008c 240deg,#00008c 250deg,#00008c 260deg,#00008c 270deg,#00008c 280deg,#00008c 290deg,#00008c 300deg,#00008c 310deg,#00008c 320deg,#00008c 330deg,#00008c 340deg,#00008c 350deg,#00008c 360deg)"></div><div style="position:absolute;left:671.40px;top:121.70px;width:156px;height:156px;border-radius:50%;background:conic-gradient(#00008c 0deg,#00008c 10deg,#00008c 20deg,#00008c 30deg,#00008c 40deg,#00008c 50deg,#00008c 60deg,#00008c 70deg,#00008c 80deg,#00008c 90deg,#00008c 100deg,#00008c 110deg,#00008c 120deg,#00008c 130deg,#00008c 140deg,#00008c 150deg,#00008c 160deg,#00008c 170deg,#00008c 180deg,#00008c 190deg,#00008c 200deg,#00008c 210deg,#00008c 220deg,#00008c 230deg,#00008c 240deg,#00008c 250deg,#00008c 260deg,#00008c 270deg,#00008c 280deg,#00008c 290deg,#00008c 300deg,#00008c 310deg,#00008c 320deg,#00008c 330deg,#00008c 340deg,#00008c 350deg,#00008c 360deg)"></div></div>
<canvas id="pc" width="312" height="312" style="left:593px;top:43px"></canvas>
<script>(function(){
var c=document.getElementById('pc'),x=c.getContext('2d'),S=312,ox=593,oy=43,CX=749.400,CY=199.700,R=153.000;
var cols=[[0,0,140],[0,0,166],[0,0,192],[0,0,218],[0,0,243],[0,0,255],[0,20,255],[0,42,255],[0,65,255],[0,88,255],[0,110,255],[0,133,255],[0,156,255],[0,178,255],[0,201,255],[0,224,251],[14,246,233],[32,255,215],[50,255,197],[69,255,178],[87,255,160],[105,255,142],[123,255,123],[142,255,105],[160,255,87],[178,255,69],[197,255,50],[215,255,32],[233,255,14],[251,240,0],[255,219,0],[255,198,0],[255,177,0],[255,156,0],[255,135,0],[255,114,0],[255,93,0],[255,72,0],[255,51,0],[255,30,0],[243,9,0],[218,0,0],[192,0,0],[166,0,0],[140,0,0]];var NB=45;
var img=x.createImageData(S,S),d=img.data;
var ro=107.900,ri=90.750,so=2.550,si=2.300,a0=0.1800,a1=0.8200,ai=0.3300;
var ss=3;
for(var j=0;j<S;j++){for(var i=0;i<S;i++){
 var rr=0,gg=0,bb=0,n=0;
 for(var sy=0;sy<ss;sy++)for(var sx=0;sx<ss;sx++){
  var X=ox+i+(sx+0.5)/ss-CX, Y=oy+j+(sy+0.5)/ss-CY; var r=Math.sqrt(X*X+Y*Y);
  if(r>R) continue;
  var c2=r>0?(X*X)/(r*r):1;
  var v=(a0+a1*c2)*Math.exp(-(r-ro)*(r-ro)/(2*so*so))+ai*c2*Math.exp(-(r-ri)*(r-ri)/(2*si*si));
  var k=Math.floor(v*NB); if(k<0)k=0; if(k>NB-1)k=NB-1;
  var col=cols[k]; rr+=col[0];gg+=col[1];bb+=col[2];n++;
 }
 var p=(j*S+i)*4;
 if(n>0){d[p]=rr/n;d[p+1]=gg/n;d[p+2]=bb/n;d[p+3]=255*n/(ss*ss);}
}}
x.putImageData(img,0,0);
})();</script>
<svg width="1024" height="389" viewBox="0 0 1024 389">
<g fill="none" stroke="#000" stroke-opacity="0.6" stroke-width="1" stroke-dasharray="1.2 2.4"><circle cx="749.40" cy="199.70" r="32.85"/><circle cx="749.40" cy="199.70" r="65.70"/><circle cx="749.40" cy="199.70" r="98.55"/><circle cx="749.40" cy="199.70" r="131.40"/><path d="M749.40 199.70L902.40 199.70M749.40 199.70L857.59 91.51M749.40 199.70L749.40 46.70M749.40 199.70L641.21 91.51M749.40 199.70L596.40 199.70M749.40 199.70L641.21 307.89M749.40 199.70L749.40 352.70M749.40 199.70L857.59 307.89"/></g>
<circle cx="749.40" cy="199.70" r="153.00" fill="none" stroke="#000" stroke-width="1.3"/>
<text x="738.04" y="35.20" font-size="14.5" textLength="24.43" lengthAdjust="spacingAndGlyphs" stroke="#000" stroke-width="0.35">90°</text>
<text x="857.22" y="84.50" font-size="14.5" textLength="24.76" lengthAdjust="spacingAndGlyphs" stroke="#000" stroke-width="0.35">45°</text>
<text x="614.33" y="84.50" font-size="14.5" textLength="34.58" lengthAdjust="spacingAndGlyphs" stroke="#000" stroke-width="0.35">135°</text>
<text x="565.35" y="204.00" font-size="14.5" textLength="33.94" lengthAdjust="spacingAndGlyphs" stroke="#000" stroke-width="0.35">180°</text>
<text x="910.21" y="204.00" font-size="14.5" textLength="16.85" lengthAdjust="spacingAndGlyphs" stroke="#000" stroke-width="0.35">0°</text>
<text x="614.57" y="323.00" font-size="14.5" textLength="34.33" lengthAdjust="spacingAndGlyphs" stroke="#000" stroke-width="0.35">225°</text>
<text x="852.98" y="323.00" font-size="14.5" textLength="33.80" lengthAdjust="spacingAndGlyphs" stroke="#000" stroke-width="0.35">315°</text>
<text x="733.46" y="372.30" font-size="14.5" textLength="34.54" lengthAdjust="spacingAndGlyphs" stroke="#000" stroke-width="0.35">270°</text>
<text x="779.72" y="184.60" font-size="14.5" textLength="7.87" lengthAdjust="spacingAndGlyphs" style="fill:#fff" stroke="#fff" stroke-width="0.3">1</text>
<text x="810.41" y="171.60" font-size="14.5" textLength="8.79" lengthAdjust="spacingAndGlyphs" style="fill:#fff" stroke="#fff" stroke-width="0.3">2</text>
<text x="840.81" y="159.30" font-size="14.5" textLength="8.68" lengthAdjust="spacingAndGlyphs" style="fill:#fff" stroke="#fff" stroke-width="0.3">3</text>
<text x="871.86" y="146.10" font-size="14.5" textLength="8.28" lengthAdjust="spacingAndGlyphs" style="fill:#fff" stroke="#fff" stroke-width="0.3">4</text>
<rect x="922.20" y="345.99" width="15.60" height="7.409" fill="#00008c"/>
<rect x="922.20" y="339.18" width="15.60" height="7.409" fill="#0000a6"/>
<rect x="922.20" y="332.37" width="15.60" height="7.409" fill="#0000c0"/>
<rect x="922.20" y="325.56" width="15.60" height="7.409" fill="#0000da"/>
<rect x="922.20" y="318.76" width="15.60" height="7.409" fill="#0000f3"/>
<rect x="922.20" y="311.95" width="15.60" height="7.409" fill="#0000ff"/>
<rect x="922.20" y="305.14" width="15.60" height="7.409" fill="#0014ff"/>
<rect x="922.20" y="298.33" width="15.60" height="7.409" fill="#002aff"/>
<rect x="922.20" y="291.52" width="15.60" height="7.409" fill="#0041ff"/>
<rect x="922.20" y="284.71" width="15.60" height="7.409" fill="#0058ff"/>
<rect x="922.20" y="277.90" width="15.60" height="7.409" fill="#006eff"/>
<rect x="922.20" y="271.09" width="15.60" height="7.409" fill="#0085ff"/>
<rect x="922.20" y="264.28" width="15.60" height="7.409" fill="#009cff"/>
<rect x="922.20" y="257.48" width="15.60" height="7.409" fill="#00b2ff"/>
<rect x="922.20" y="250.67" width="15.60" height="7.409" fill="#00c9ff"/>
<rect x="922.20" y="243.86" width="15.60" height="7.409" fill="#00e0fb"/>
<rect x="922.20" y="237.05" width="15.60" height="7.409" fill="#0ef6e9"/>
<rect x="922.20" y="230.24" width="15.60" height="7.409" fill="#20ffd7"/>
<rect x="922.20" y="223.43" width="15.60" height="7.409" fill="#32ffc5"/>
<rect x="922.20" y="216.62" width="15.60" height="7.409" fill="#45ffb2"/>
<rect x="922.20" y="209.81" width="15.60" height="7.409" fill="#57ffa0"/>
<rect x="922.20" y="203.00" width="15.60" height="7.409" fill="#69ff8e"/>
<rect x="922.20" y="196.20" width="15.60" height="7.409" fill="#7bff7b"/>
<rect x="922.20" y="189.39" width="15.60" height="7.409" fill="#8eff69"/>
<rect x="922.20" y="182.58" width="15.60" height="7.409" fill="#a0ff57"/>
<rect x="922.20" y="175.77" width="15.60" height="7.409" fill="#b2ff45"/>
<rect x="922.20" y="168.96" width="15.60" height="7.409" fill="#c5ff32"/>
<rect x="922.20" y="162.15" width="15.60" height="7.409" fill="#d7ff20"/>
<rect x="922.20" y="155.34" width="15.60" height="7.409" fill="#e9ff0e"/>
<rect x="922.20" y="148.53" width="15.60" height="7.409" fill="#fbf000"/>
<rect x="922.20" y="141.72" width="15.60" height="7.409" fill="#ffdb00"/>
<rect x="922.20" y="134.92" width="15.60" height="7.409" fill="#ffc600"/>
<rect x="922.20" y="128.11" width="15.60" height="7.409" fill="#ffb100"/>
<rect x="922.20" y="121.30" width="15.60" height="7.409" fill="#ff9c00"/>
<rect x="922.20" y="114.49" width="15.60" height="7.409" fill="#ff8700"/>
<rect x="922.20" y="107.68" width="15.60" height="7.409" fill="#ff7200"/>
<rect x="922.20" y="100.87" width="15.60" height="7.409" fill="#ff5d00"/>
<rect x="922.20" y="94.06" width="15.60" height="7.409" fill="#ff4800"/>
<rect x="922.20" y="87.25" width="15.60" height="7.409" fill="#ff3300"/>
<rect x="922.20" y="80.44" width="15.60" height="7.409" fill="#ff1e00"/>
<rect x="922.20" y="73.64" width="15.60" height="7.409" fill="#f30900"/>
<rect x="922.20" y="66.83" width="15.60" height="7.409" fill="#da0000"/>
<rect x="922.20" y="60.02" width="15.60" height="7.409" fill="#c00000"/>
<rect x="922.20" y="53.21" width="15.60" height="7.409" fill="#a60000"/>
<rect x="922.20" y="46.40" width="15.60" height="7.409" fill="#8c0000"/>
<rect x="922.20" y="46.70" width="15.60" height="306.40" fill="none" stroke="#000" stroke-width="1.2"/>
<path d="M937.80 353.10h-4M937.80 319.06h-4M937.80 285.01h-4M937.80 250.97h-4M937.80 216.92h-4M937.80 182.88h-4M937.80 148.83h-4M937.80 114.79h-4M937.80 80.74h-4M937.80 46.70h-4" stroke="#000" stroke-width="1"/>
<text x="941.25" y="357.20" font-size="14.5" textLength="61.01" lengthAdjust="spacingAndGlyphs" stroke="#000" stroke-width="0.35">0.0e+00</text>
<text x="941.08" y="323.16" font-size="14.5" textLength="53.98" lengthAdjust="spacingAndGlyphs" stroke="#000" stroke-width="0.35">7.5e-05</text>
<text x="940.68" y="289.11" font-size="14.5" textLength="54.18" lengthAdjust="spacingAndGlyphs" stroke="#000" stroke-width="0.35">1.5e-04</text>
<text x="941.10" y="255.07" font-size="14.5" textLength="53.76" lengthAdjust="spacingAndGlyphs" stroke="#000" stroke-width="0.35">2.3e-04</text>
<text x="941.30" y="221.02" font-size="14.5" textLength="53.56" lengthAdjust="spacingAndGlyphs" stroke="#000" stroke-width="0.35">3.0e-04</text>
<text x="941.30" y="186.98" font-size="14.5" textLength="53.56" lengthAdjust="spacingAndGlyphs" stroke="#000" stroke-width="0.35">3.8e-04</text>
<text x="941.54" y="152.93" font-size="14.5" textLength="53.32" lengthAdjust="spacingAndGlyphs" stroke="#000" stroke-width="0.35">4.5e-04</text>
<text x="941.27" y="118.89" font-size="14.5" textLength="53.60" lengthAdjust="spacingAndGlyphs" stroke="#000" stroke-width="0.35">5.3e-04</text>
<text x="941.09" y="84.84" font-size="14.5" textLength="53.77" lengthAdjust="spacingAndGlyphs" stroke="#000" stroke-width="0.35">6.0e-04</text>
<text x="941.09" y="50.80" font-size="14.5" textLength="53.77" lengthAdjust="spacingAndGlyphs" stroke="#000" stroke-width="0.35">6.8e-04</text>
<text transform="translate(1015.40,290.00) rotate(-90)" x="-1.32" y="0" font-size="15" textLength="184.01" lengthAdjust="spacingAndGlyphs" stroke="#000" stroke-width="0.35">Photo-electron&#160;yield&#160;(a.u.)</text>
</svg>
</div></body></html>
